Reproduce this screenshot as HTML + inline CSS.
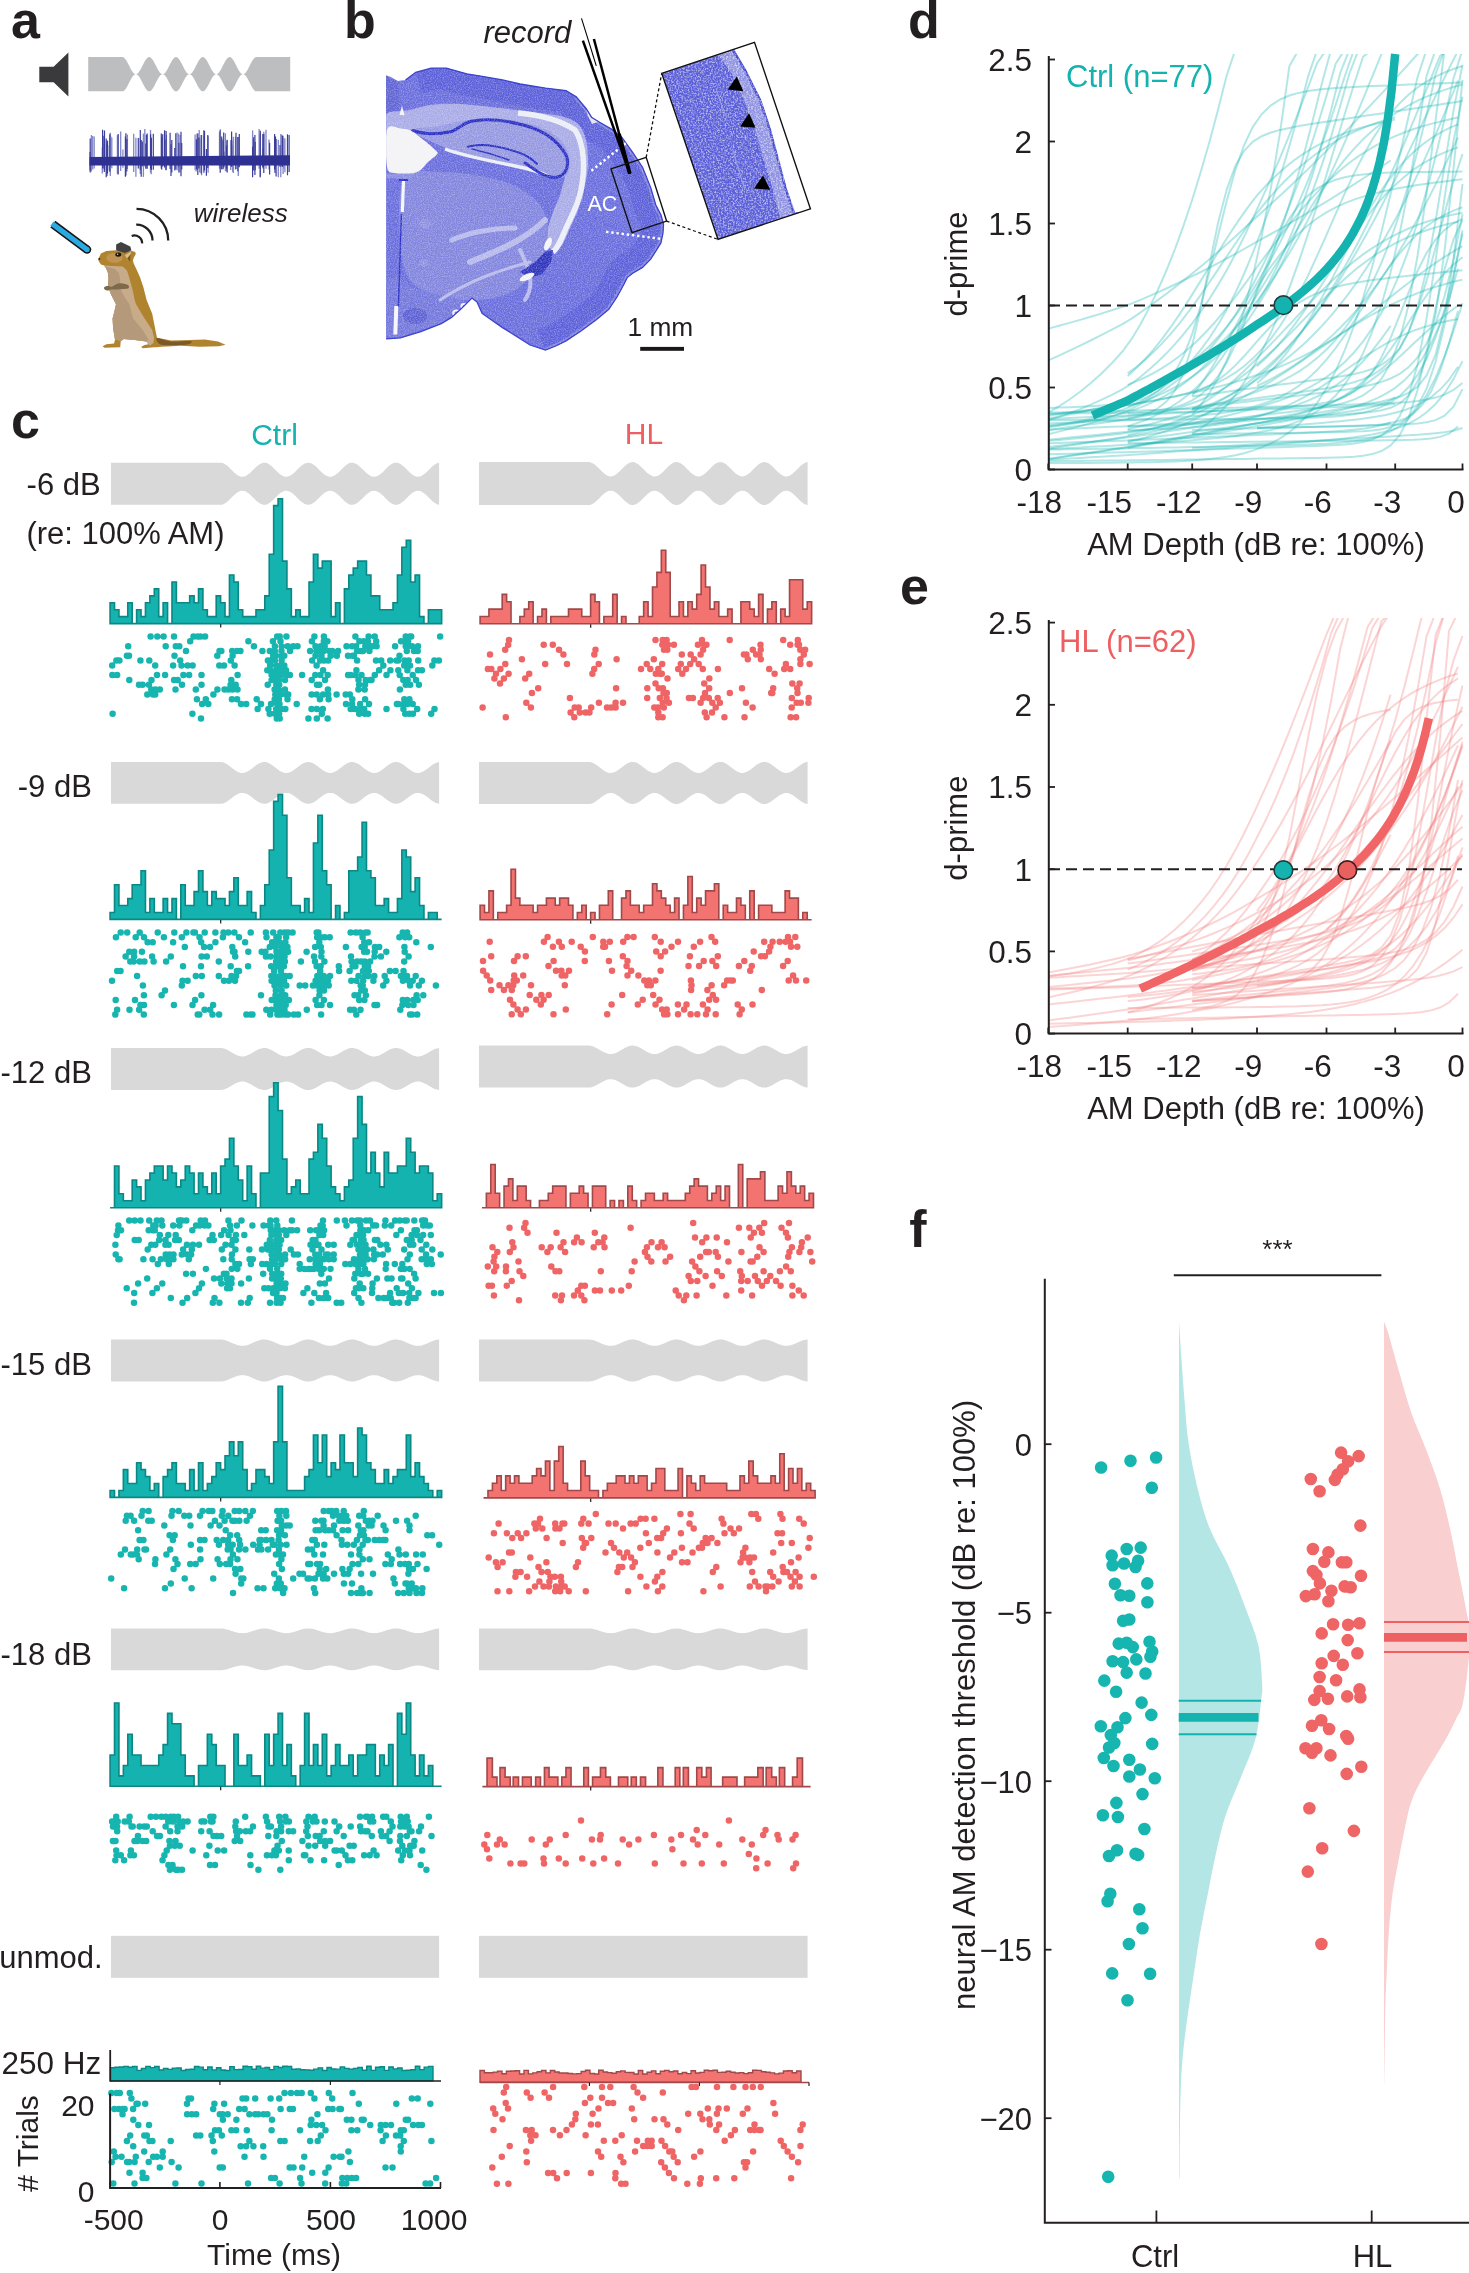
<!DOCTYPE html>
<html><head><meta charset="utf-8"><title>Figure</title>
<style>html,body{margin:0;padding:0;background:#fff;} svg{display:block;will-change:transform;} text{font-family:"Liberation Sans",sans-serif;}</style>
</head><body>
<svg width="1469" height="2273" viewBox="0 0 1469 2273">
<rect width="1469" height="2273" fill="#ffffff"/>
<text x="11.0" y="38.3" font-size="52" fill="#231f20" text-anchor="start" font-weight="bold" font-style="normal" >a</text>
<path d="M39.3,66.7 L53.6,66.7 L68.4,52.4 L68.4,96.5 L53.6,82.2 L39.3,82.2 Z" fill="#3a3a3c"/>
<path d="M88.2,57.1 L122.4,57.1 L122.4,57.1 L122.8,57.1 L123.2,57.2 L123.6,57.4 L124.0,57.7 L124.4,58.0 L124.8,58.4 L125.2,58.9 L125.6,59.4 L126.0,60.0 L126.4,60.6 L126.8,61.3 L127.2,62.0 L127.6,62.7 L128.0,63.5 L128.4,64.3 L128.8,65.0 L129.2,65.9 L129.6,66.6 L130.0,67.4 L130.4,68.2 L130.8,69.0 L131.2,69.7 L131.6,70.4 L132.0,71.0 L132.4,71.6 L132.8,72.2 L133.2,72.7 L133.6,73.1 L134.0,73.4 L134.4,73.7 L134.8,74.0 L135.2,74.1 L135.6,74.2 L136.0,74.2 L136.4,74.1 L136.8,74.0 L137.2,73.7 L137.6,73.4 L138.0,73.1 L138.4,72.7 L138.8,72.2 L139.2,71.6 L139.6,71.0 L140.0,70.4 L140.4,69.7 L140.8,69.0 L141.2,68.2 L141.6,67.4 L142.0,66.6 L142.4,65.9 L142.8,65.0 L143.2,64.3 L143.6,63.5 L144.0,62.7 L144.4,62.0 L144.8,61.3 L145.2,60.6 L145.6,60.0 L146.0,59.4 L146.4,58.9 L146.8,58.4 L147.2,58.0 L147.6,57.7 L148.0,57.4 L148.4,57.2 L148.8,57.1 L149.2,57.1 L149.6,57.1 L150.0,57.2 L150.4,57.4 L150.8,57.7 L151.2,58.0 L151.6,58.4 L152.0,58.9 L152.4,59.4 L152.8,60.0 L153.2,60.6 L153.6,61.3 L154.0,62.0 L154.4,62.7 L154.8,63.5 L155.2,64.3 L155.6,65.0 L156.0,65.9 L156.4,66.6 L156.8,67.4 L157.2,68.2 L157.6,69.0 L158.0,69.7 L158.4,70.4 L158.8,71.0 L159.2,71.6 L159.6,72.2 L160.0,72.7 L160.4,73.1 L160.8,73.4 L161.2,73.7 L161.6,74.0 L162.0,74.1 L162.4,74.2 L162.8,74.2 L163.2,74.1 L163.6,74.0 L164.0,73.7 L164.4,73.4 L164.8,73.1 L165.2,72.7 L165.6,72.2 L166.0,71.6 L166.4,71.0 L166.8,70.4 L167.2,69.7 L167.6,69.0 L168.0,68.2 L168.4,67.4 L168.8,66.6 L169.2,65.9 L169.6,65.0 L170.0,64.3 L170.4,63.5 L170.8,62.7 L171.2,62.0 L171.6,61.3 L172.0,60.6 L172.4,60.0 L172.8,59.4 L173.2,58.9 L173.6,58.4 L174.0,58.0 L174.4,57.7 L174.8,57.4 L175.2,57.2 L175.6,57.1 L176.0,57.1 L176.4,57.1 L176.8,57.2 L177.2,57.4 L177.6,57.7 L178.0,58.0 L178.4,58.4 L178.8,58.9 L179.2,59.4 L179.6,60.0 L180.0,60.6 L180.4,61.3 L180.8,62.0 L181.2,62.7 L181.6,63.5 L182.0,64.3 L182.4,65.0 L182.8,65.9 L183.2,66.6 L183.6,67.4 L184.0,68.2 L184.4,69.0 L184.8,69.7 L185.2,70.4 L185.6,71.0 L186.0,71.6 L186.4,72.2 L186.8,72.7 L187.2,73.1 L187.6,73.4 L188.0,73.7 L188.4,74.0 L188.8,74.1 L189.2,74.2 L189.6,74.2 L190.0,74.1 L190.4,74.0 L190.8,73.7 L191.2,73.4 L191.6,73.1 L192.0,72.7 L192.4,72.2 L192.8,71.6 L193.2,71.0 L193.6,70.4 L194.0,69.7 L194.4,69.0 L194.8,68.2 L195.2,67.4 L195.6,66.6 L196.0,65.9 L196.4,65.0 L196.8,64.3 L197.2,63.5 L197.6,62.7 L198.0,62.0 L198.4,61.3 L198.8,60.6 L199.2,60.0 L199.6,59.4 L200.0,58.9 L200.4,58.4 L200.8,58.0 L201.2,57.7 L201.6,57.4 L202.0,57.2 L202.4,57.1 L202.8,57.1 L203.2,57.1 L203.6,57.2 L204.0,57.4 L204.4,57.7 L204.8,58.0 L205.2,58.4 L205.6,58.9 L206.0,59.4 L206.4,60.0 L206.8,60.6 L207.2,61.3 L207.6,62.0 L208.0,62.7 L208.4,63.5 L208.8,64.3 L209.2,65.0 L209.6,65.9 L210.0,66.6 L210.4,67.4 L210.8,68.2 L211.2,69.0 L211.6,69.7 L212.0,70.4 L212.4,71.0 L212.8,71.6 L213.2,72.2 L213.6,72.7 L214.0,73.1 L214.4,73.4 L214.8,73.7 L215.2,74.0 L215.6,74.1 L216.0,74.2 L216.4,74.2 L216.8,74.1 L217.2,74.0 L217.6,73.7 L218.0,73.4 L218.4,73.1 L218.8,72.7 L219.2,72.2 L219.6,71.6 L220.0,71.0 L220.4,70.4 L220.8,69.7 L221.2,69.0 L221.6,68.2 L222.0,67.4 L222.4,66.6 L222.8,65.9 L223.2,65.0 L223.6,64.3 L224.0,63.5 L224.4,62.7 L224.8,62.0 L225.2,61.3 L225.6,60.6 L226.0,60.0 L226.4,59.4 L226.8,58.9 L227.2,58.4 L227.6,58.0 L228.0,57.7 L228.4,57.4 L228.8,57.2 L229.2,57.1 L229.6,57.1 L230.0,57.1 L230.4,57.2 L230.8,57.4 L231.2,57.7 L231.6,58.0 L232.0,58.4 L232.4,58.9 L232.8,59.4 L233.2,60.0 L233.6,60.6 L234.0,61.3 L234.4,62.0 L234.8,62.7 L235.2,63.5 L235.6,64.3 L236.0,65.0 L236.4,65.9 L236.8,66.6 L237.2,67.4 L237.6,68.2 L238.0,69.0 L238.4,69.7 L238.8,70.4 L239.2,71.0 L239.6,71.6 L240.0,72.2 L240.4,72.7 L240.8,73.1 L241.2,73.4 L241.6,73.7 L242.0,74.0 L242.4,74.1 L242.8,74.2 L243.2,74.2 L243.6,74.1 L244.0,74.0 L244.4,73.7 L244.8,73.4 L245.2,73.1 L245.6,72.7 L246.0,72.2 L246.4,71.6 L246.8,71.0 L247.2,70.4 L247.6,69.7 L248.0,69.0 L248.4,68.2 L248.8,67.4 L249.2,66.6 L249.6,65.9 L250.0,65.0 L250.4,64.3 L250.8,63.5 L251.2,62.7 L251.6,62.0 L252.0,61.3 L252.4,60.6 L252.8,60.0 L253.2,59.4 L253.6,58.9 L254.0,58.4 L254.4,58.0 L254.8,57.7 L255.2,57.4 L255.6,57.2 L256.0,57.1 L256.4,57.1 L290.2,57.1 L290.2,91.3 L256.4,91.3 L256.0,91.3 L255.6,91.2 L255.2,91.0 L254.8,90.7 L254.4,90.4 L254.0,90.0 L253.6,89.5 L253.2,89.0 L252.8,88.4 L252.4,87.8 L252.0,87.1 L251.6,86.4 L251.2,85.7 L250.8,84.9 L250.4,84.1 L250.0,83.4 L249.6,82.5 L249.2,81.8 L248.8,81.0 L248.4,80.2 L248.0,79.4 L247.6,78.7 L247.2,78.0 L246.8,77.4 L246.4,76.8 L246.0,76.2 L245.6,75.7 L245.2,75.3 L244.8,75.0 L244.4,74.7 L244.0,74.4 L243.6,74.3 L243.2,74.2 L242.8,74.2 L242.4,74.3 L242.0,74.4 L241.6,74.7 L241.2,75.0 L240.8,75.3 L240.4,75.7 L240.0,76.2 L239.6,76.8 L239.2,77.4 L238.8,78.0 L238.4,78.7 L238.0,79.4 L237.6,80.2 L237.2,81.0 L236.8,81.8 L236.4,82.5 L236.0,83.4 L235.6,84.1 L235.2,84.9 L234.8,85.7 L234.4,86.4 L234.0,87.1 L233.6,87.8 L233.2,88.4 L232.8,89.0 L232.4,89.5 L232.0,90.0 L231.6,90.4 L231.2,90.7 L230.8,91.0 L230.4,91.2 L230.0,91.3 L229.6,91.3 L229.2,91.3 L228.8,91.2 L228.4,91.0 L228.0,90.7 L227.6,90.4 L227.2,90.0 L226.8,89.5 L226.4,89.0 L226.0,88.4 L225.6,87.8 L225.2,87.1 L224.8,86.4 L224.4,85.7 L224.0,84.9 L223.6,84.1 L223.2,83.4 L222.8,82.5 L222.4,81.8 L222.0,81.0 L221.6,80.2 L221.2,79.4 L220.8,78.7 L220.4,78.0 L220.0,77.4 L219.6,76.8 L219.2,76.2 L218.8,75.7 L218.4,75.3 L218.0,75.0 L217.6,74.7 L217.2,74.4 L216.8,74.3 L216.4,74.2 L216.0,74.2 L215.6,74.3 L215.2,74.4 L214.8,74.7 L214.4,75.0 L214.0,75.3 L213.6,75.7 L213.2,76.2 L212.8,76.8 L212.4,77.4 L212.0,78.0 L211.6,78.7 L211.2,79.4 L210.8,80.2 L210.4,81.0 L210.0,81.8 L209.6,82.5 L209.2,83.4 L208.8,84.1 L208.4,84.9 L208.0,85.7 L207.6,86.4 L207.2,87.1 L206.8,87.8 L206.4,88.4 L206.0,89.0 L205.6,89.5 L205.2,90.0 L204.8,90.4 L204.4,90.7 L204.0,91.0 L203.6,91.2 L203.2,91.3 L202.8,91.3 L202.4,91.3 L202.0,91.2 L201.6,91.0 L201.2,90.7 L200.8,90.4 L200.4,90.0 L200.0,89.5 L199.6,89.0 L199.2,88.4 L198.8,87.8 L198.4,87.1 L198.0,86.4 L197.6,85.7 L197.2,84.9 L196.8,84.1 L196.4,83.4 L196.0,82.5 L195.6,81.8 L195.2,81.0 L194.8,80.2 L194.4,79.4 L194.0,78.7 L193.6,78.0 L193.2,77.4 L192.8,76.8 L192.4,76.2 L192.0,75.7 L191.6,75.3 L191.2,75.0 L190.8,74.7 L190.4,74.4 L190.0,74.3 L189.6,74.2 L189.2,74.2 L188.8,74.3 L188.4,74.4 L188.0,74.7 L187.6,75.0 L187.2,75.3 L186.8,75.7 L186.4,76.2 L186.0,76.8 L185.6,77.4 L185.2,78.0 L184.8,78.7 L184.4,79.4 L184.0,80.2 L183.6,81.0 L183.2,81.8 L182.8,82.5 L182.4,83.4 L182.0,84.1 L181.6,84.9 L181.2,85.7 L180.8,86.4 L180.4,87.1 L180.0,87.8 L179.6,88.4 L179.2,89.0 L178.8,89.5 L178.4,90.0 L178.0,90.4 L177.6,90.7 L177.2,91.0 L176.8,91.2 L176.4,91.3 L176.0,91.3 L175.6,91.3 L175.2,91.2 L174.8,91.0 L174.4,90.7 L174.0,90.4 L173.6,90.0 L173.2,89.5 L172.8,89.0 L172.4,88.4 L172.0,87.8 L171.6,87.1 L171.2,86.4 L170.8,85.7 L170.4,84.9 L170.0,84.1 L169.6,83.4 L169.2,82.5 L168.8,81.8 L168.4,81.0 L168.0,80.2 L167.6,79.4 L167.2,78.7 L166.8,78.0 L166.4,77.4 L166.0,76.8 L165.6,76.2 L165.2,75.7 L164.8,75.3 L164.4,75.0 L164.0,74.7 L163.6,74.4 L163.2,74.3 L162.8,74.2 L162.4,74.2 L162.0,74.3 L161.6,74.4 L161.2,74.7 L160.8,75.0 L160.4,75.3 L160.0,75.7 L159.6,76.2 L159.2,76.8 L158.8,77.4 L158.4,78.0 L158.0,78.7 L157.6,79.4 L157.2,80.2 L156.8,81.0 L156.4,81.8 L156.0,82.5 L155.6,83.4 L155.2,84.1 L154.8,84.9 L154.4,85.7 L154.0,86.4 L153.6,87.1 L153.2,87.8 L152.8,88.4 L152.4,89.0 L152.0,89.5 L151.6,90.0 L151.2,90.4 L150.8,90.7 L150.4,91.0 L150.0,91.2 L149.6,91.3 L149.2,91.3 L148.8,91.3 L148.4,91.2 L148.0,91.0 L147.6,90.7 L147.2,90.4 L146.8,90.0 L146.4,89.5 L146.0,89.0 L145.6,88.4 L145.2,87.8 L144.8,87.1 L144.4,86.4 L144.0,85.7 L143.6,84.9 L143.2,84.1 L142.8,83.4 L142.4,82.5 L142.0,81.8 L141.6,81.0 L141.2,80.2 L140.8,79.4 L140.4,78.7 L140.0,78.0 L139.6,77.4 L139.2,76.8 L138.8,76.2 L138.4,75.7 L138.0,75.3 L137.6,75.0 L137.2,74.7 L136.8,74.4 L136.4,74.3 L136.0,74.2 L135.6,74.2 L135.2,74.3 L134.8,74.4 L134.4,74.7 L134.0,75.0 L133.6,75.3 L133.2,75.7 L132.8,76.2 L132.4,76.8 L132.0,77.4 L131.6,78.0 L131.2,78.7 L130.8,79.4 L130.4,80.2 L130.0,81.0 L129.6,81.8 L129.2,82.5 L128.8,83.4 L128.4,84.1 L128.0,84.9 L127.6,85.7 L127.2,86.4 L126.8,87.1 L126.4,87.8 L126.0,88.4 L125.6,89.0 L125.2,89.5 L124.8,90.0 L124.4,90.4 L124.0,90.7 L123.6,91.0 L123.2,91.2 L122.8,91.3 L122.4,91.3 L122.4,91.3 L88.2,91.3 Z" fill="#bcbec0"/>
<g stroke="#8386c8" stroke-width="1.3"><line x1="91.4" y1="135.0" x2="91.4" y2="171.5"/><line x1="92.7" y1="136.0" x2="92.7" y2="169.4"/><line x1="94.2" y1="136.4" x2="94.2" y2="168.6"/><line x1="127.4" y1="134.6" x2="127.4" y2="169.0"/><line x1="107.1" y1="140.5" x2="107.1" y2="173.8"/><line x1="117.4" y1="135.2" x2="117.4" y2="173.9"/><line x1="120.7" y1="131.6" x2="120.7" y2="170.9"/><line x1="102.3" y1="147.4" x2="102.3" y2="173.5"/><line x1="110.3" y1="133.0" x2="110.3" y2="171.0"/><line x1="111.8" y1="137.5" x2="111.8" y2="168.3"/><line x1="107.8" y1="145.2" x2="107.8" y2="170.3"/><line x1="110.3" y1="132.7" x2="110.3" y2="175.9"/><line x1="110.7" y1="136.2" x2="110.7" y2="166.6"/><line x1="122.9" y1="149.5" x2="122.9" y2="167.7"/><line x1="143.4" y1="133.6" x2="143.4" y2="176.9"/><line x1="135.9" y1="137.7" x2="135.9" y2="176.8"/><line x1="145.7" y1="143.2" x2="145.7" y2="168.5"/><line x1="150.5" y1="129.9" x2="150.5" y2="172.8"/><line x1="140.3" y1="137.8" x2="140.3" y2="173.9"/><line x1="133.7" y1="133.7" x2="133.7" y2="172.0"/><line x1="151.2" y1="137.7" x2="151.2" y2="174.3"/><line x1="144.8" y1="129.1" x2="144.8" y2="166.5"/><line x1="165.7" y1="139.5" x2="165.7" y2="169.8"/><line x1="165.6" y1="147.4" x2="165.6" y2="169.7"/><line x1="166.4" y1="134.7" x2="166.4" y2="167.3"/><line x1="177.1" y1="132.5" x2="177.1" y2="170.2"/><line x1="178.6" y1="133.5" x2="178.6" y2="167.1"/><line x1="180.0" y1="135.1" x2="180.0" y2="172.6"/><line x1="196.1" y1="139.4" x2="196.1" y2="171.6"/><line x1="195.1" y1="134.6" x2="195.1" y2="170.3"/><line x1="201.6" y1="135.0" x2="201.6" y2="175.3"/><line x1="199.2" y1="130.1" x2="199.2" y2="169.1"/><line x1="197.0" y1="133.4" x2="197.0" y2="169.8"/><line x1="199.7" y1="138.5" x2="199.7" y2="172.6"/><line x1="208.1" y1="136.3" x2="208.1" y2="172.7"/><line x1="222.0" y1="138.8" x2="222.0" y2="169.3"/><line x1="219.5" y1="131.6" x2="219.5" y2="168.7"/><line x1="232.0" y1="140.5" x2="232.0" y2="167.0"/><line x1="233.3" y1="136.7" x2="233.3" y2="173.1"/><line x1="232.6" y1="150.8" x2="232.6" y2="171.8"/><line x1="230.7" y1="140.0" x2="230.7" y2="169.9"/><line x1="232.5" y1="144.8" x2="232.5" y2="166.1"/><line x1="224.1" y1="151.6" x2="224.1" y2="166.5"/><line x1="226.4" y1="140.6" x2="226.4" y2="171.3"/><line x1="225.4" y1="133.3" x2="225.4" y2="171.2"/><line x1="238.3" y1="137.1" x2="238.3" y2="175.9"/><line x1="235.5" y1="136.8" x2="235.5" y2="169.6"/><line x1="284.9" y1="138.6" x2="284.9" y2="172.3"/><line x1="266.0" y1="129.8" x2="266.0" y2="168.8"/><line x1="274.7" y1="142.1" x2="274.7" y2="170.1"/><line x1="253.1" y1="139.6" x2="253.1" y2="168.3"/><line x1="283.1" y1="135.8" x2="283.1" y2="174.1"/><line x1="259.9" y1="134.9" x2="259.9" y2="167.7"/><line x1="260.2" y1="132.9" x2="260.2" y2="177.5"/><line x1="278.3" y1="139.7" x2="278.3" y2="177.3"/><line x1="252.6" y1="130.4" x2="252.6" y2="166.3"/><line x1="280.8" y1="134.1" x2="280.8" y2="177.3"/><line x1="259.1" y1="129.1" x2="259.1" y2="168.7"/><line x1="263.8" y1="131.7" x2="263.8" y2="166.2"/><line x1="281.6" y1="134.6" x2="281.6" y2="166.8"/><line x1="269.0" y1="139.6" x2="269.0" y2="169.5"/><line x1="283.9" y1="138.1" x2="283.9" y2="168.9"/></g>
<g stroke="#3b3e9a" stroke-width="1.2"><line x1="90.1" y1="151.9" x2="90.1" y2="170.5"/><line x1="90.2" y1="138.5" x2="90.2" y2="172.5"/><line x1="125.9" y1="133.3" x2="125.9" y2="175.6"/><line x1="104.5" y1="130.5" x2="104.5" y2="170.1"/><line x1="109.8" y1="134.6" x2="109.8" y2="171.7"/><line x1="125.4" y1="136.5" x2="125.4" y2="176.8"/><line x1="106.2" y1="138.5" x2="106.2" y2="177.2"/><line x1="107.5" y1="140.8" x2="107.5" y2="173.4"/><line x1="104.3" y1="143.5" x2="104.3" y2="171.9"/><line x1="103.1" y1="135.8" x2="103.1" y2="168.4"/><line x1="126.8" y1="138.9" x2="126.8" y2="171.6"/><line x1="118.2" y1="134.1" x2="118.2" y2="174.5"/><line x1="102.6" y1="129.7" x2="102.6" y2="168.3"/><line x1="106.9" y1="143.3" x2="106.9" y2="176.0"/><line x1="141.2" y1="140.1" x2="141.2" y2="176.7"/><line x1="153.3" y1="133.8" x2="153.3" y2="169.7"/><line x1="146.4" y1="134.7" x2="146.4" y2="166.3"/><line x1="138.3" y1="137.9" x2="138.3" y2="168.4"/><line x1="151.4" y1="148.9" x2="151.4" y2="167.5"/><line x1="150.6" y1="134.2" x2="150.6" y2="168.7"/><line x1="142.3" y1="141.5" x2="142.3" y2="166.3"/><line x1="146.0" y1="143.9" x2="146.0" y2="168.8"/><line x1="140.3" y1="129.9" x2="140.3" y2="169.7"/><line x1="147.2" y1="133.6" x2="147.2" y2="168.7"/><line x1="151.4" y1="137.7" x2="151.4" y2="170.1"/><line x1="166.1" y1="131.0" x2="166.1" y2="170.2"/><line x1="164.6" y1="130.2" x2="164.6" y2="167.6"/><line x1="161.3" y1="133.4" x2="161.3" y2="168.5"/><line x1="161.7" y1="137.2" x2="161.7" y2="169.5"/><line x1="162.7" y1="134.3" x2="162.7" y2="166.5"/><line x1="175.8" y1="133.2" x2="175.8" y2="169.6"/><line x1="171.8" y1="139.9" x2="171.8" y2="172.6"/><line x1="178.9" y1="142.8" x2="178.9" y2="172.4"/><line x1="181.7" y1="143.1" x2="181.7" y2="169.5"/><line x1="181.0" y1="131.8" x2="181.0" y2="176.2"/><line x1="171.0" y1="144.3" x2="171.0" y2="175.9"/><line x1="170.1" y1="132.7" x2="170.1" y2="168.9"/><line x1="174.8" y1="148.0" x2="174.8" y2="170.4"/><line x1="206.4" y1="149.1" x2="206.4" y2="175.7"/><line x1="203.9" y1="130.2" x2="203.9" y2="172.7"/><line x1="204.5" y1="131.0" x2="204.5" y2="170.4"/><line x1="196.6" y1="139.3" x2="196.6" y2="169.3"/><line x1="204.3" y1="136.1" x2="204.3" y2="166.3"/><line x1="207.8" y1="135.0" x2="207.8" y2="167.9"/><line x1="197.8" y1="133.6" x2="197.8" y2="175.1"/><line x1="198.9" y1="137.6" x2="198.9" y2="168.3"/><line x1="201.2" y1="135.1" x2="201.2" y2="173.5"/><line x1="220.2" y1="129.4" x2="220.2" y2="172.8"/><line x1="221.7" y1="136.6" x2="221.7" y2="169.3"/><line x1="237.8" y1="137.1" x2="237.8" y2="171.3"/><line x1="226.5" y1="145.4" x2="226.5" y2="168.6"/><line x1="239.3" y1="134.1" x2="239.3" y2="167.3"/><line x1="236.0" y1="132.8" x2="236.0" y2="168.9"/><line x1="223.1" y1="140.4" x2="223.1" y2="169.3"/><line x1="227.2" y1="139.7" x2="227.2" y2="172.5"/><line x1="223.7" y1="132.4" x2="223.7" y2="167.5"/><line x1="231.6" y1="131.5" x2="231.6" y2="166.8"/><line x1="269.6" y1="142.8" x2="269.6" y2="174.4"/><line x1="255.2" y1="141.8" x2="255.2" y2="170.3"/><line x1="252.6" y1="146.7" x2="252.6" y2="177.2"/><line x1="274.6" y1="133.9" x2="274.6" y2="169.1"/><line x1="254.9" y1="135.1" x2="254.9" y2="175.0"/><line x1="260.3" y1="130.8" x2="260.3" y2="176.8"/><line x1="275.0" y1="139.2" x2="275.0" y2="173.1"/><line x1="287.5" y1="134.3" x2="287.5" y2="175.3"/><line x1="263.1" y1="148.7" x2="263.1" y2="168.6"/><line x1="253.7" y1="137.2" x2="253.7" y2="170.6"/><line x1="280.0" y1="144.9" x2="280.0" y2="166.8"/><line x1="263.8" y1="134.1" x2="263.8" y2="173.0"/><line x1="262.8" y1="134.1" x2="262.8" y2="167.2"/><line x1="275.5" y1="136.4" x2="275.5" y2="166.7"/><line x1="276.1" y1="138.9" x2="276.1" y2="176.6"/><line x1="282.5" y1="135.6" x2="282.5" y2="166.9"/><line x1="289.1" y1="135.0" x2="289.1" y2="171.9"/></g>
<path d="M89.5,157 L290,155.2 L290,165.6 L89.5,165.4 Z" fill="#2e3192"/>
<text x="193.8" y="221.8" font-size="26" fill="#231f20" text-anchor="start" font-weight="normal" font-style="italic" >wireless</text>
<g fill="none" stroke="#231f20" stroke-width="2.3"><path d="M131.7,236.0 A7.6,7.6 0 0 1 142.1,243.4"/><path d="M136.2,224.6 A16,16 0 0 1 152.5,240.6"/><path d="M136.5,208.9 A31.7,31.7 0 0 1 168.2,240.6"/></g>
<line x1="52.8" y1="224.2" x2="87.1" y2="249.6" stroke="#1a1414" stroke-width="8.4"/><circle cx="87.1" cy="249.6" r="4.2" fill="#1a1414"/>
<line x1="52.0" y1="223.6" x2="87.1" y2="249.6" stroke="#29abe2" stroke-width="5.3"/><circle cx="87.1" cy="249.6" r="2.65" fill="#29abe2"/>
<path d="M98.4,259.0 L100.9,253.5 L106.3,251.1 L112.9,250.5 L116.1,250.3 L124.0,250.5 L131.4,250.8 L135.2,251.9 L135.8,254.1 L133.6,257.9 L133.0,260.6 L133.6,263.3 L136.8,269.9 L140.1,277.5 L143.4,287.3 L146.6,300.0 L152.2,313.8 L156.0,332.9 L157.0,337.7 L171.3,340.5 L190.3,340.0 L204.6,339.6 L218.0,341.5 L225.6,344.8 L218.9,346.2 L199.9,346.7 L180.8,345.8 L161.7,346.7 L156.0,347.2 L154.1,347.2 L142.7,348.2 L141.2,346.7 L144.6,345.1 L148.4,344.3 L146.5,341.5 L135.0,340.0 L123.6,339.1 L120.7,341.5 L120.3,346.2 L120.3,347.2 L104.5,347.7 L102.6,346.2 L106.4,344.3 L114.1,343.4 L115.0,339.6 L113.1,328.1 L112.6,318.6 L115.0,309.1 L116.0,304.3 L111.2,294.8 L109.3,290.0 L108.0,284.0 L108.5,278.6 L108.0,273.1 L106.3,268.8 L104.2,265.5 L100.9,264.4 L98.7,261.1 Z" fill="#b0842f"/>
<path d="M104.2,265.5 L112.0,266.0 L122.7,266.6 L127.0,270.4 L129.2,277.5 L132.5,289.5 L134.7,300.0 L136.0,304.3 L144.6,318.6 L152.2,330.0 L154.1,337.7 L153.5,343.0 L150.0,345.5 L148.4,344.3 L146.5,341.5 L135.0,340.0 L123.6,339.1 L120.7,341.5 L118.0,340.0 L115.0,339.6 L113.1,328.1 L112.6,318.6 L115.0,309.1 L116.0,304.3 L111.2,294.8 L109.3,290.0 L108.0,284.0 L108.5,278.6 L108.0,273.1 L106.3,268.8 Z" fill="#c8ab88"/>
<path d="M104.2,265.5 L105.3,266.6 L114.5,268.8 L118.9,273.1 L120.0,278.6 L120.5,289.5 L124.9,297.6 L129.3,304.3 L133.1,318.6 L142.7,330.0 L148.4,339.6 L146.5,341.5 L135.0,340.0 L123.6,339.1 L120.7,341.5 L118.0,340.0 L115.0,339.6 L113.1,328.1 L112.6,318.6 L115.0,309.1 L116.0,304.3 L111.2,294.8 L109.3,290.0 L108.0,284.0 L108.5,278.6 L108.0,273.1 L106.3,268.8 Z" fill="#b49a7b"/>
<path d="M157.0,338.1 C158.9,337.6 165.8,341.0 171.3,341.5 C176.9,342.0 187.5,340.5 190.3,341.0 C193.2,341.5 191.6,343.6 188.4,344.3 C185.2,345.0 176.1,345.3 171.3,345.3 C166.5,345.3 162.2,345.5 159.8,344.3 C157.4,343.1 155.1,338.6 157.0,338.1 Z" fill="#7a5a26"/>
<ellipse cx="114.5" cy="257.9" rx="8.2" ry="5" fill="#c09352"/>
<path d="M124.9,255.2 L131.4,251.3 L128.1,260.6 Z" fill="#dcc08c"/>
<path d="M127.0,258.4 L130.3,254.6 L130.3,261.7 Z" fill="#7a5a22"/>
<path d="M116.1,244.5 L121.0,242.1 L130.3,246.4 L131.4,250.3 L124.9,253.0 L116.1,250.3 Z" fill="#414143"/>
<ellipse cx="118.3" cy="254.6" rx="3" ry="2.2" fill="#161616"/><circle cx="117.6" cy="254.2" r="0.7" fill="#ddd"/>
<circle cx="99.3" cy="259" r="1" fill="#3a2a10"/>
<path d="M104.2,287.3 C104.8,286.7 106.7,285.8 108.0,285.7 C109.3,285.6 110.1,287.1 111.8,286.7 C113.5,286.3 116.1,283.9 118.3,283.5 C120.5,283.1 123.2,283.6 124.9,284.0 C126.6,284.4 128.2,285.0 128.7,285.7 C129.2,286.4 129.1,287.9 128.1,288.4 C127.1,288.9 124.7,288.7 122.7,288.9 C120.7,289.1 118.1,289.4 116.1,289.5 C114.1,289.6 112.0,289.3 110.7,289.5 C109.4,289.7 109.0,290.6 108.0,290.6 C107.0,290.6 105.3,290.1 104.7,289.5 C104.1,288.9 103.7,287.9 104.2,287.3 Z" fill="#7d6a4a"/>
<text x="344.0" y="38.2" font-size="52" fill="#231f20" text-anchor="start" font-weight="bold" font-style="normal" >b</text>
<text x="483.4" y="42.6" font-size="31" fill="#231f20" text-anchor="start" font-weight="normal" font-style="italic" >record</text>
<defs><filter id="grain" x="0" y="0" width="100%" height="100%"><feTurbulence type="fractalNoise" baseFrequency="0.85" numOctaves="2" seed="4" result="n"/><feColorMatrix in="n" type="matrix" values="0 0 0 0 1  0 0 0 0 1  0 0 0 0 1  0 0 0 -2.2 1.35" result="w"/><feComposite in="w" in2="SourceGraphic" operator="in"/></filter><filter id="grain2" x="0" y="0" width="100%" height="100%"><feTurbulence type="fractalNoise" baseFrequency="0.6" numOctaves="2" seed="9" result="n"/><feColorMatrix in="n" type="matrix" values="0 0 0 0 1  0 0 0 0 1  0 0 0 0 1  0 0 0 -2.6 1.55" result="w"/><feComposite in="w" in2="SourceGraphic" operator="in"/></filter><clipPath id="brainclip"><path d="M386.1,75.3 L390.2,76.8 L397.9,80.9 L405.5,79.9 L415.7,72.3 L431.1,68.2 L446.4,68.2 L466.8,73.8 L482.1,76.3 L502.5,79.9 L520.0,84.0 L545.5,88.1 L566.0,90.6 L576.2,96.8 L586.4,109.0 L591.5,117.2 L599.6,122.3 L611.9,129.4 L622.1,137.6 L632.3,151.9 L642.5,167.2 L650.7,187.6 L655.8,205.0 L661.0,215.0 L663.5,224.0 L663.0,233.0 L660.9,242.9 L655.8,251.1 L650.7,259.2 L642.5,267.4 L632.3,273.5 L627.2,277.6 L624.2,283.7 L617.0,297.0 L608.8,309.3 L596.6,319.5 L581.3,330.7 L566.0,340.9 L555.7,346.0 L545.5,350.0 L530.0,345.0 L502.5,327.6 L482.1,313.3 L477.0,302.1 L471.9,298.0 L461.7,308.2 L451.5,317.4 L441.3,323.6 L420.8,331.7 L400.4,337.9 L386.1,338.9 Z"/></clipPath></defs>
<path d="M386.1,75.3 L390.2,76.8 L397.9,80.9 L405.5,79.9 L415.7,72.3 L431.1,68.2 L446.4,68.2 L466.8,73.8 L482.1,76.3 L502.5,79.9 L520.0,84.0 L545.5,88.1 L566.0,90.6 L576.2,96.8 L586.4,109.0 L591.5,117.2 L599.6,122.3 L611.9,129.4 L622.1,137.6 L632.3,151.9 L642.5,167.2 L650.7,187.6 L655.8,205.0 L661.0,215.0 L663.5,224.0 L663.0,233.0 L660.9,242.9 L655.8,251.1 L650.7,259.2 L642.5,267.4 L632.3,273.5 L627.2,277.6 L624.2,283.7 L617.0,297.0 L608.8,309.3 L596.6,319.5 L581.3,330.7 L566.0,340.9 L555.7,346.0 L545.5,350.0 L530.0,345.0 L502.5,327.6 L482.1,313.3 L477.0,302.1 L471.9,298.0 L461.7,308.2 L451.5,317.4 L441.3,323.6 L420.8,331.7 L400.4,337.9 L386.1,338.9 Z" fill="#6a6edd"/>
<g clip-path="url(#brainclip)">
<path d="M415.7,72.3 L431.1,68.2 L446.4,68.2 L466.8,73.8 L482.1,76.3 L502.5,79.9 L520.0,84.0 L545.5,88.1 L566.0,90.6 L576.2,96.8 L586.4,109.0 L591.5,117.2 L599.6,122.3 L611.9,129.4 L622.1,137.6 L632.3,151.9 L642.5,167.2 L650.7,187.6 L655.8,205.0 L661.0,215.0 L663.5,224.0 L663.0,233.0 L660.9,242.9 L655.8,251.1 L650.7,259.2 L642.5,267.4 L632.3,273.5 L627.2,277.6 L624.2,283.7 L617.0,297.0 L608.8,309.3 L596.6,319.5 L581.3,330.7 L566.0,340.9 L555.7,346.0 L545.5,350.0" fill="none" stroke="#5c60d9" stroke-width="44"/>
<path d="M576.2,96.8 L586.4,109.0 L591.5,117.2 L599.6,122.3 L611.9,129.4 L622.1,137.6 L632.3,151.9 L642.5,167.2 L650.7,187.6 L655.8,205.0 L661.0,215.0 L663.5,224.0 L663.0,233.0 L660.9,242.9 L655.8,251.1 L650.7,259.2 L642.5,267.4 L632.3,273.5 L627.2,277.6 L624.2,283.7 L617.0,297.0 L608.8,309.3 L596.6,319.5 L581.3,330.7 L566.0,340.9 L555.7,346.0 L545.5,350.0" fill="none" stroke="#8084dc" stroke-width="5"/>
<path d="M386.0,76.0 L398.0,82.0 L400.0,128.0 L386.0,128.0 Z" fill="#6064d4"/>
<path d="M386.0,114.0 C390.0,110.3 402.7,111.5 410.0,110.0 C417.3,108.5 421.7,106.0 430.0,105.0 C438.3,104.0 448.3,103.5 460.0,104.0 C471.7,104.5 488.3,106.7 500.0,108.0 C511.7,109.3 520.0,110.7 530.0,112.0 C540.0,113.3 552.0,114.0 560.0,116.0 C568.0,118.0 573.7,120.0 578.0,124.0 C582.3,128.0 584.3,133.2 586.0,140.0 C587.7,146.8 588.3,156.7 588.0,165.0 C587.7,173.3 585.7,182.5 584.0,190.0 C582.3,197.5 580.3,203.7 578.0,210.0 C575.7,216.3 572.7,222.2 570.0,228.0 C567.3,233.8 565.0,241.3 562.0,245.0 C559.0,248.7 554.7,251.2 552.0,250.0 C549.3,248.8 546.0,243.8 546.0,238.0 C546.0,232.2 549.7,222.2 552.0,215.0 C554.3,207.8 557.7,202.5 560.0,195.0 C562.3,187.5 565.3,177.5 566.0,170.0 C566.7,162.5 566.3,155.3 564.0,150.0 C561.7,144.7 557.7,141.3 552.0,138.0 C546.3,134.7 538.7,132.0 530.0,130.0 C521.3,128.0 510.0,126.3 500.0,126.0 C490.0,125.7 480.0,126.5 470.0,128.0 C460.0,129.5 449.2,134.0 440.0,135.0 C430.8,136.0 424.0,134.5 415.0,134.0 C406.0,133.5 390.8,135.3 386.0,132.0 C381.2,128.7 382.0,117.7 386.0,114.0 Z" fill="#a9abe7"/>
<path d="M412.0,130.0 C413.7,127.5 430.7,127.7 440.0,126.0 C449.3,124.3 458.0,121.2 468.0,120.0 C478.0,118.8 489.7,118.3 500.0,119.0 C510.3,119.7 521.3,121.7 530.0,124.0 C538.7,126.3 546.0,129.0 552.0,133.0 C558.0,137.0 563.0,142.7 566.0,148.0 C569.0,153.3 570.3,160.2 570.0,165.0 C569.7,169.8 567.7,174.8 564.0,177.0 C560.3,179.2 553.7,179.2 548.0,178.0 C542.3,176.8 537.2,172.5 530.0,170.0 C522.8,167.5 513.7,165.0 505.0,163.0 C496.3,161.0 486.8,160.2 478.0,158.0 C469.2,155.8 460.0,152.8 452.0,150.0 C444.0,147.2 436.7,144.3 430.0,141.0 C423.3,137.7 410.3,132.5 412.0,130.0 Z" fill="#9598e1"/>
<path d="M404.0,178.0 C410.7,166.7 427.3,172.3 440.0,172.0 C452.7,171.7 467.5,173.7 480.0,176.0 C492.5,178.3 505.0,181.2 515.0,186.0 C525.0,190.8 534.5,197.3 540.0,205.0 C545.5,212.7 548.0,222.5 548.0,232.0 C548.0,241.5 545.5,252.3 540.0,262.0 C534.5,271.7 525.0,283.7 515.0,290.0 C505.0,296.3 492.5,299.0 480.0,300.0 C467.5,301.0 451.7,299.3 440.0,296.0 C428.3,292.7 416.7,289.3 410.0,280.0 C403.3,270.7 401.0,257.0 400.0,240.0 C399.0,223.0 397.3,189.3 404.0,178.0 Z" fill="#8285de"/>
<path d="M388.0,280.0 C393.3,272.3 408.0,286.7 420.0,290.0 C432.0,293.3 451.7,296.7 460.0,300.0 C468.3,303.3 472.5,306.3 470.0,310.0 C467.5,313.7 455.0,318.2 445.0,322.0 C435.0,325.8 419.5,330.7 410.0,333.0 C400.5,335.3 391.7,344.8 388.0,336.0 C384.3,327.2 382.7,287.7 388.0,280.0 Z" fill="#7478dc"/>
<g fill="none" stroke="#b7b9ec" stroke-linecap="round"><path d="M452,240 C470,232 495,228 515,228" stroke-width="5"/><path d="M470,262 C500,250 525,240 545,220" stroke-width="6"/><path d="M520,250 C530,270 535,285 525,300" stroke-width="4"/><path d="M440,300 C470,280 500,270 530,262" stroke-width="3"/></g>
<g fill="#8e91df"><ellipse cx="425" cy="224" rx="6" ry="5"/><ellipse cx="424" cy="263" rx="5" ry="4"/></g>
<g fill="#5d61d3"><ellipse cx="415" cy="316" rx="12" ry="8"/></g>
<path d="M445,149 C460,155 490,161 515,166 C530,169 540,172 548,176" fill="none" stroke="#eceef7" stroke-width="3.5"/>
<path d="M518,113 C540,115 560,120 575,130 C585,145 585,170 581,190 C578,205 572,215 566,228 C561,240 558,248 553,252" fill="none" stroke="#eceef7" stroke-width="5.5"/>
<g fill="none" stroke="#2a2fc4" stroke-linecap="round"><path d="M412.7,130.5 C425,135 440,134 451.5,131.5 C460,128 462,124 470,121.5 C485,118 505,120 525,125.5 C545,131 558,141 566,155 C570,165 566,176 556,177.5 C545,178 535,170 525,163" stroke-width="3"/><path d="M467.8,146.8 C480,143 500,146 520,153 C528,156 533,160 537,164" stroke-width="2"/><path d="M472,149 C485,152 498,156 509,160" stroke-width="1.6"/></g>
<path d="M387.1,129.4 C389.3,122.9 396.5,128.2 400.4,128.4 C404.3,128.6 406.9,128.6 410.6,130.5 C414.4,132.4 418.8,136.4 422.9,139.6 C427.0,142.8 432.7,147.5 435.1,149.9 C437.5,152.3 438.4,152.0 437.2,154.0 C436.0,156.0 431.1,159.2 428.0,162.1 C424.9,165.0 422.6,169.2 418.8,171.3 C415.1,173.4 409.4,174.1 405.5,174.4 C401.6,174.7 398.4,174.5 395.3,173.3 C392.2,172.1 388.5,174.5 387.1,167.2 C385.7,159.9 384.9,135.9 387.1,129.4 Z" fill="#f3f3f6"/>
<path d="M399.4,115.0 L402.0,106.0 L404.5,115.0 Z" fill="#f3f3f6"/>
<path d="M386,176 L412,176" stroke="#8a8de0" stroke-width="5"/>
<path d="M403.5,181 L402.3,212" stroke="#f6f6f9" stroke-width="3.2"/>
<path d="M401.4,214 L398.4,307" stroke="#2a2fc4" stroke-width="1.4"/>
<path d="M396.3,306 L395.3,334.5" stroke="#f6f6f9" stroke-width="4"/>
<path d="M399,180 L408,180" stroke="#2a2fc4" stroke-width="2"/>
<path d="M520.0,272.0 L535.0,262.0 L545.0,252.0 L553.0,250.0 L551.0,262.0 L542.0,274.0 L530.0,278.0 Z" fill="#2f34bc"/>
<g fill="#f4f4f8"><ellipse cx="527" cy="277" rx="8" ry="3" transform="rotate(-25 527 277)"/><ellipse cx="548" cy="244" rx="3" ry="7" transform="rotate(25 548 244)"/></g>
<g fill="none" stroke="#f4f4f8" stroke-width="2.2"><ellipse cx="456.5" cy="313" rx="3.2" ry="2.5"/><ellipse cx="464" cy="306" rx="2.5" ry="2"/></g>
<path d="M585.0,104.0 L595.0,111.0 L600.0,121.0 L592.0,124.0 L588.0,116.0 Z" fill="#e3e4ec"/>
</g>
<path d="M386.1,75.3 L390.2,76.8 L397.9,80.9 L405.5,79.9 L415.7,72.3 L431.1,68.2 L446.4,68.2 L466.8,73.8 L482.1,76.3 L502.5,79.9 L520.0,84.0 L545.5,88.1 L566.0,90.6 L576.2,96.8 L586.4,109.0 L591.5,117.2 L599.6,122.3 L611.9,129.4 L622.1,137.6 L632.3,151.9 L642.5,167.2 L650.7,187.6 L655.8,205.0 L661.0,215.0 L663.5,224.0 L663.0,233.0 L660.9,242.9 L655.8,251.1 L650.7,259.2 L642.5,267.4 L632.3,273.5 L627.2,277.6 L624.2,283.7 L617.0,297.0 L608.8,309.3 L596.6,319.5 L581.3,330.7 L566.0,340.9 L555.7,346.0 L545.5,350.0 L530.0,345.0 L502.5,327.6 L482.1,313.3 L477.0,302.1 L471.9,298.0 L461.7,308.2 L451.5,317.4 L441.3,323.6 L420.8,331.7 L400.4,337.9 L386.1,338.9 Z" fill="#ffffff" filter="url(#grain)" opacity="0.32"/>
<path d="M405.5,79.9 L415.7,72.3 L431.1,68.2 L446.4,68.2 L466.8,73.8 L482.1,76.3 L502.5,79.9 L520.0,84.0 L545.5,88.1 L566.0,90.6 L576.2,96.8 L586.4,109.0 L591.5,117.2 L599.6,122.3 L611.9,129.4 L622.1,137.6 L632.3,151.9 L642.5,167.2 L650.7,187.6 L655.8,205.0 L661.0,215.0 L663.5,224.0 L663.0,233.0 L660.9,242.9 L655.8,251.1 L650.7,259.2 L642.5,267.4 L632.3,273.5 L627.2,277.6 L624.2,283.7 L617.0,297.0 L608.8,309.3 L596.6,319.5 L581.3,330.7 L566.0,340.9 L555.7,346.0 L545.5,350.0 L530.0,345.0 L502.5,327.6 L482.1,313.3 L477.0,302.1 L471.9,298.0 L461.7,308.2 L451.5,317.4 L441.3,323.6 L420.8,331.7 L400.4,337.9 L386.1,338.9" fill="none" stroke="#3d42cf" stroke-width="1.3"/>
<g stroke="#ffffff" stroke-width="2.4" stroke-dasharray="2.4,2.8" fill="none"><path d="M591.4,170.8 L627.4,141.9"/><path d="M606.1,231.8 L660.9,238.8"/></g>
<text x="587.5" y="211.3" font-size="21.5" fill="#ffffff" text-anchor="start" font-weight="normal" font-style="normal" >AC</text>
<g stroke="#000" fill="none"><path d="M581.5,18.3 L596.3,65.9" stroke-width="1.1"/><path d="M582.9,40.6 L629.8,173.8" stroke-width="2.5"/><path d="M593.9,39 L629.8,173.8" stroke-width="2.5"/><path d="M619,134 L629.8,173.8" stroke-width="3.8"/></g>
<path d="M611,168.9 L646.2,157.4 L666.6,221.1 L632,232.6 Z" fill="none" stroke="#111" stroke-width="1.4"/>
<g stroke="#111" stroke-width="1.3" stroke-dasharray="3,2.6"><path d="M646.2,157.4 L661.7,73.3"/><path d="M666.6,221.1 L718,239.4"/></g>
<defs><clipPath id="insclip"><path d="M661.7,73.3 L754.5,42.3 L810.4,208.9 L718.0,239.4 Z"/></clipPath></defs>
<g clip-path="url(#insclip)">
<path d="M661.7,73.3 L754.5,42.3 L810.4,208.9 L718.0,239.4 Z" fill="#5a5ed8"/>
<path d="M733.0,49.0 L745.0,70.0 L760.0,100.0 L770.0,130.0 L778.0,160.0 L786.0,190.0 L794.0,214.0 L780.0,218.0 L773.0,190.0 L764.0,160.0 L755.0,130.0 L744.0,100.0 L731.0,72.0 L716.0,52.0 Z" fill="#8f92e2"/>
<path d="M734.4,51.2 L745.0,70.0 L752.0,85.0 L760.0,100.0 L767.0,118.0 L770.0,130.0 L778.0,160.0 L784.0,180.0 L790.0,200.0 L794.0,212.2 L830.0,212.0 L830.0,30.0 L736.0,30.0 Z" fill="#ffffff"/>
<path d="M733,50 L745,70 L760,100 L770,130 L778,160 L786,190 L794,213" fill="none" stroke="#4a4fcf" stroke-width="2.5"/>
<path d="M661.7,73.3 L754.5,42.3 L810.4,208.9 L718.0,239.4 Z" fill="#ffffff" filter="url(#grain2)" opacity="0.6"/>
<path d="M716,88 C720,100 722,108 727,118" stroke="#9a9de2" stroke-width="1.2" fill="none"/>
<path d="M733,150 C737,165 740,175 745,190" stroke="#9a9de2" stroke-width="1.2" fill="none"/>
</g>
<path d="M661.7,73.3 L754.5,42.3 L810.4,208.9 L718.0,239.4 Z" fill="none" stroke="#111" stroke-width="1.4"/>
<path d="M736.8,76.6 L727.8,89.6 L743.4,91.3 Z" fill="#000"/>
<path d="M749.1,113.3 L740.1,126.4 L755.6,127.7 Z" fill="#000"/>
<path d="M763.0,175.4 L754.0,188.5 L770.3,189.8 Z" fill="#000"/>
<text x="627.5" y="336.0" font-size="26.3" fill="#231f20" text-anchor="start" font-weight="normal" font-style="normal" >1 mm</text>
<rect x="640.2" y="346.9" width="43.8" height="3.9" fill="#1a1718"/>
<text x="0.0" y="0.0" font-size="30" fill="#231f20" text-anchor="start" font-weight="normal" font-style="normal" ></text>
<text x="11.0" y="437.6" font-size="52" fill="#231f20" text-anchor="start" font-weight="bold" font-style="normal" >c</text>
<text x="26.4" y="544.2" font-size="31" fill="#231f20" text-anchor="start" font-weight="normal" font-style="normal" >(re: 100% AM)</text>
<text x="274.5" y="445.0" font-size="30" fill="#14b3b0" text-anchor="middle" font-weight="normal" font-style="normal" >Ctrl</text>
<text x="644.0" y="444.0" font-size="30" fill="#ee5f62" text-anchor="middle" font-weight="normal" font-style="normal" >HL</text>
<path d="M111.0,462.7 220.4,462.7 220.4,462.7 221.5,462.8 222.6,463.0 223.7,463.5 224.8,464.1 225.9,464.8 227.0,465.6 228.1,466.6 229.2,467.6 230.3,468.7 231.4,469.8 232.6,470.9 233.7,472.0 234.8,473.0 235.9,473.9 237.0,474.8 238.1,475.5 239.2,476.0 240.3,476.4 241.4,476.7 242.5,476.8 243.6,476.6 244.7,476.4 245.8,475.9 246.9,475.3 248.0,474.6 249.1,473.7 250.2,472.7 251.3,471.7 252.4,470.6 253.5,469.5 254.6,468.4 255.7,467.3 256.9,466.3 258.0,465.4 259.1,464.6 260.2,463.9 261.3,463.4 262.4,463.0 263.5,462.7 264.6,462.7 265.7,462.8 266.8,463.1 267.9,463.6 269.0,464.2 270.1,465.0 271.2,465.9 272.3,466.8 273.4,467.9 274.5,469.0 275.6,470.1 276.7,471.2 277.8,472.2 278.9,473.2 280.0,474.2 281.2,475.0 282.3,475.6 283.4,476.2 284.5,476.5 285.6,476.7 286.7,476.7 287.8,476.6 288.9,476.3 290.0,475.8 291.1,475.1 292.2,474.4 293.3,473.5 294.4,472.5 295.5,471.4 296.6,470.3 297.7,469.2 298.8,468.1 299.9,467.1 301.0,466.1 302.1,465.2 303.2,464.4 304.3,463.7 305.5,463.2 306.6,462.9 307.7,462.7 308.8,462.7 309.9,462.9 311.0,463.2 312.1,463.8 313.2,464.4 314.3,465.2 315.4,466.1 316.5,467.1 317.6,468.2 318.7,469.3 319.8,470.4 320.9,471.5 322.0,472.5 323.1,473.5 324.2,474.4 325.3,475.1 326.4,475.8 327.5,476.3 328.6,476.6 329.8,476.7 330.9,476.7 332.0,476.5 333.1,476.2 334.2,475.6 335.3,474.9 336.4,474.1 337.5,473.2 338.6,472.2 339.7,471.2 340.8,470.1 341.9,468.9 343.0,467.9 344.1,466.8 345.2,465.8 346.3,465.0 347.4,464.2 348.5,463.6 349.6,463.1 350.7,462.8 351.8,462.7 352.9,462.8 354.1,463.0 355.2,463.4 356.3,463.9 357.4,464.6 358.5,465.4 359.6,466.4 360.7,467.4 361.8,468.4 362.9,469.5 364.0,470.6 365.1,471.7 366.2,472.8 367.3,473.7 368.4,474.6 369.5,475.3 370.6,475.9 371.7,476.4 372.8,476.6 373.9,476.8 375.0,476.7 376.1,476.4 377.2,476.0 378.4,475.5 379.5,474.8 380.6,473.9 381.7,473.0 382.8,472.0 383.9,470.9 385.0,469.8 386.1,468.7 387.2,467.6 388.3,466.6 389.4,465.6 390.5,464.8 391.6,464.0 392.7,463.5 393.8,463.0 394.9,462.8 396.0,462.7 397.1,462.8 398.2,463.1 399.3,463.5 400.4,464.1 401.5,464.8 402.6,465.7 403.8,466.6 404.9,467.6 406.0,468.7 407.1,469.8 408.2,470.9 409.3,472.0 410.4,473.0 411.5,474.0 412.6,474.8 413.7,475.5 414.8,476.1 415.9,476.5 417.0,476.7 418.1,476.8 419.2,476.6 420.3,476.4 421.4,475.9 422.5,475.3 423.6,474.6 424.7,473.7 425.8,472.7 427.0,471.7 428.1,470.6 429.2,469.5 430.3,468.4 431.4,467.3 432.5,466.3 433.6,465.4 434.7,464.6 435.8,463.9 436.9,463.3 438.0,463.0 439.1,462.7 439.1,504.8 438.0,504.5 436.9,504.2 435.8,503.6 434.7,502.9 433.6,502.1 432.5,501.2 431.4,500.2 430.3,499.1 429.2,498.0 428.1,496.9 427.0,495.8 425.8,494.8 424.7,493.8 423.6,492.9 422.5,492.2 421.4,491.6 420.3,491.1 419.2,490.9 418.1,490.7 417.0,490.8 415.9,491.0 414.8,491.4 413.7,492.0 412.6,492.7 411.5,493.5 410.4,494.5 409.3,495.5 408.2,496.6 407.1,497.7 406.0,498.8 404.9,499.9 403.8,500.9 402.6,501.8 401.5,502.7 400.4,503.4 399.3,504.0 398.2,504.4 397.1,504.7 396.0,504.8 394.9,504.7 393.8,504.5 392.7,504.0 391.6,503.5 390.5,502.7 389.4,501.9 388.3,500.9 387.2,499.9 386.1,498.8 385.0,497.7 383.9,496.6 382.8,495.5 381.7,494.5 380.6,493.6 379.5,492.7 378.4,492.0 377.2,491.5 376.1,491.1 375.0,490.8 373.9,490.7 372.8,490.9 371.7,491.1 370.6,491.6 369.5,492.2 368.4,492.9 367.3,493.8 366.2,494.7 365.1,495.8 364.0,496.9 362.9,498.0 361.8,499.1 360.7,500.1 359.6,501.1 358.5,502.1 357.4,502.9 356.3,503.6 355.2,504.1 354.1,504.5 352.9,504.7 351.8,504.8 350.7,504.7 349.6,504.4 348.5,503.9 347.4,503.3 346.3,502.5 345.2,501.7 344.1,500.7 343.0,499.6 341.9,498.6 340.8,497.4 339.7,496.3 338.6,495.3 337.5,494.3 336.4,493.4 335.3,492.6 334.2,491.9 333.1,491.3 332.0,491.0 330.9,490.8 329.8,490.8 328.6,490.9 327.5,491.2 326.4,491.7 325.3,492.4 324.2,493.1 323.1,494.0 322.0,495.0 320.9,496.0 319.8,497.1 318.7,498.2 317.6,499.3 316.5,500.4 315.4,501.4 314.3,502.3 313.2,503.1 312.1,503.7 311.0,504.3 309.9,504.6 308.8,504.8 307.7,504.8 306.6,504.6 305.5,504.3 304.3,503.8 303.2,503.1 302.1,502.3 301.0,501.4 299.9,500.4 298.8,499.4 297.7,498.3 296.6,497.2 295.5,496.1 294.4,495.0 293.3,494.0 292.2,493.1 291.1,492.4 290.0,491.7 288.9,491.2 287.8,490.9 286.7,490.8 285.6,490.8 284.5,491.0 283.4,491.3 282.3,491.9 281.2,492.5 280.0,493.3 278.9,494.3 277.8,495.3 276.7,496.3 275.6,497.4 274.5,498.5 273.4,499.6 272.3,500.7 271.2,501.6 270.1,502.5 269.0,503.3 267.9,503.9 266.8,504.4 265.7,504.7 264.6,504.8 263.5,504.8 262.4,504.5 261.3,504.1 260.2,503.6 259.1,502.9 258.0,502.1 256.9,501.2 255.7,500.2 254.6,499.1 253.5,498.0 252.4,496.9 251.3,495.8 250.2,494.8 249.1,493.8 248.0,492.9 246.9,492.2 245.8,491.6 244.7,491.1 243.6,490.9 242.5,490.7 241.4,490.8 240.3,491.1 239.2,491.5 238.1,492.0 237.0,492.7 235.9,493.6 234.8,494.5 233.7,495.5 232.6,496.6 231.4,497.7 230.3,498.8 229.2,499.9 228.1,500.9 227.0,501.9 225.9,502.7 224.8,503.4 223.7,504.0 222.6,504.5 221.5,504.7 220.4,504.8 220.4,504.8 111.0,504.8 Z" fill="#d9d9d9"/>
<path d="M479.0,462.1 588.7,462.1 588.7,462.1 589.8,462.2 590.9,462.5 592.0,462.9 593.1,463.5 594.2,464.2 595.3,465.1 596.4,466.1 597.5,467.1 598.7,468.2 599.8,469.3 600.9,470.5 602.0,471.6 603.1,472.6 604.2,473.6 605.3,474.4 606.4,475.1 607.5,475.7 608.6,476.1 609.7,476.4 610.8,476.4 611.9,476.3 613.0,476.0 614.1,475.6 615.2,474.9 616.3,474.2 617.4,473.3 618.6,472.3 619.7,471.3 620.8,470.1 621.9,469.0 623.0,467.9 624.1,466.8 625.2,465.8 626.3,464.8 627.4,464.0 628.5,463.3 629.6,462.7 630.7,462.4 631.8,462.1 632.9,462.1 634.0,462.2 635.1,462.6 636.2,463.0 637.3,463.7 638.5,464.5 639.6,465.4 640.7,466.4 641.8,467.4 642.9,468.5 644.0,469.7 645.1,470.8 646.2,471.9 647.3,472.9 648.4,473.8 649.5,474.6 650.6,475.3 651.7,475.8 652.8,476.2 653.9,476.4 655.0,476.4 656.1,476.2 657.2,475.9 658.4,475.4 659.5,474.7 660.6,473.9 661.7,473.0 662.8,472.0 663.9,470.9 665.0,469.8 666.1,468.7 667.2,467.6 668.3,466.5 669.4,465.5 670.5,464.6 671.6,463.8 672.7,463.1 673.8,462.6 674.9,462.3 676.0,462.1 677.1,462.1 678.2,462.3 679.4,462.7 680.5,463.2 681.6,463.9 682.7,464.7 683.8,465.6 684.9,466.7 686.0,467.7 687.1,468.9 688.2,470.0 689.3,471.1 690.4,472.2 691.5,473.2 692.6,474.1 693.7,474.8 694.8,475.5 695.9,476.0 697.0,476.3 698.2,476.4 699.3,476.4 700.4,476.2 701.5,475.8 702.6,475.2 703.7,474.5 704.8,473.7 705.9,472.7 707.0,471.7 708.1,470.6 709.2,469.5 710.3,468.4 711.4,467.2 712.5,466.2 713.6,465.2 714.7,464.3 715.8,463.6 716.9,463.0 718.0,462.5 719.2,462.2 720.3,462.1 721.4,462.2 722.5,462.4 723.6,462.8 724.7,463.4 725.8,464.1 726.9,465.0 728.0,465.9 729.1,467.0 730.2,468.1 731.3,469.2 732.4,470.3 733.5,471.4 734.6,472.5 735.7,473.4 736.8,474.3 738.0,475.0 739.1,475.6 740.2,476.1 741.3,476.3 742.4,476.4 743.5,476.3 744.6,476.1 745.7,475.6 746.8,475.0 747.9,474.3 749.0,473.4 750.1,472.4 751.2,471.4 752.3,470.3 753.4,469.2 754.5,468.0 755.6,466.9 756.7,465.9 757.9,464.9 759.0,464.1 760.1,463.4 761.2,462.8 762.3,462.4 763.4,462.2 764.5,462.1 765.6,462.2 766.7,462.5 767.8,463.0 768.9,463.6 770.0,464.4 771.1,465.2 772.2,466.2 773.3,467.3 774.4,468.4 775.5,469.5 776.6,470.7 777.8,471.7 778.9,472.8 780.0,473.7 781.1,474.5 782.2,475.2 783.3,475.8 784.4,476.2 785.5,476.4 786.6,476.4 787.7,476.3 788.8,475.9 789.9,475.5 791.0,474.8 792.1,474.0 793.2,473.1 794.3,472.1 795.4,471.1 796.5,470.0 797.7,468.8 798.8,467.7 799.9,466.6 801.0,465.6 802.1,464.7 803.2,463.9 804.3,463.2 805.4,462.7 806.5,462.3 807.6,462.1 807.6,505.0 806.5,504.8 805.4,504.4 804.3,503.9 803.2,503.2 802.1,502.4 801.0,501.5 799.9,500.5 798.8,499.4 797.7,498.3 796.5,497.1 795.4,496.0 794.3,495.0 793.2,494.0 792.1,493.1 791.0,492.3 789.9,491.6 788.8,491.2 787.7,490.8 786.6,490.7 785.5,490.7 784.4,490.9 783.3,491.3 782.2,491.9 781.1,492.6 780.0,493.4 778.9,494.3 777.8,495.4 776.6,496.4 775.5,497.6 774.4,498.7 773.3,499.8 772.2,500.9 771.1,501.9 770.0,502.7 768.9,503.5 767.8,504.1 766.7,504.6 765.6,504.9 764.5,505.0 763.4,504.9 762.3,504.7 761.2,504.3 760.1,503.7 759.0,503.0 757.9,502.2 756.7,501.2 755.6,500.2 754.5,499.1 753.4,497.9 752.3,496.8 751.2,495.7 750.1,494.7 749.0,493.7 747.9,492.8 746.8,492.1 745.7,491.5 744.6,491.0 743.5,490.8 742.4,490.7 741.3,490.8 740.2,491.0 739.1,491.5 738.0,492.1 736.8,492.8 735.7,493.7 734.6,494.6 733.5,495.7 732.4,496.8 731.3,497.9 730.2,499.0 729.1,500.1 728.0,501.2 726.9,502.1 725.8,503.0 724.7,503.7 723.6,504.3 722.5,504.7 721.4,504.9 720.3,505.0 719.2,504.9 718.0,504.6 716.9,504.1 715.8,503.5 714.7,502.8 713.6,501.9 712.5,500.9 711.4,499.9 710.3,498.7 709.2,497.6 708.1,496.5 707.0,495.4 705.9,494.4 704.8,493.4 703.7,492.6 702.6,491.9 701.5,491.3 700.4,490.9 699.3,490.7 698.2,490.7 697.0,490.8 695.9,491.1 694.8,491.6 693.7,492.3 692.6,493.0 691.5,493.9 690.4,494.9 689.3,496.0 688.2,497.1 687.1,498.2 686.0,499.4 684.9,500.4 683.8,501.5 682.7,502.4 681.6,503.2 680.5,503.9 679.4,504.4 678.2,504.8 677.1,505.0 676.0,505.0 674.9,504.8 673.8,504.5 672.7,504.0 671.6,503.3 670.5,502.5 669.4,501.6 668.3,500.6 667.2,499.5 666.1,498.4 665.0,497.3 663.9,496.2 662.8,495.1 661.7,494.1 660.6,493.2 659.5,492.4 658.4,491.7 657.2,491.2 656.1,490.9 655.0,490.7 653.9,490.7 652.8,490.9 651.7,491.3 650.6,491.8 649.5,492.5 648.4,493.3 647.3,494.2 646.2,495.2 645.1,496.3 644.0,497.4 642.9,498.6 641.8,499.7 640.7,500.7 639.6,501.7 638.5,502.6 637.3,503.4 636.2,504.1 635.1,504.5 634.0,504.9 632.9,505.0 631.8,505.0 630.7,504.7 629.6,504.4 628.5,503.8 627.4,503.1 626.3,502.3 625.2,501.3 624.1,500.3 623.0,499.2 621.9,498.1 620.8,497.0 619.7,495.8 618.6,494.8 617.4,493.8 616.3,492.9 615.2,492.2 614.1,491.5 613.0,491.1 611.9,490.8 610.8,490.7 609.7,490.7 608.6,491.0 607.5,491.4 606.4,492.0 605.3,492.7 604.2,493.5 603.1,494.5 602.0,495.5 600.9,496.6 599.8,497.8 598.7,498.9 597.5,500.0 596.4,501.0 595.3,502.0 594.2,502.9 593.1,503.6 592.0,504.2 590.9,504.6 589.8,504.9 588.7,505.0 588.7,505.0 479.0,505.0 Z" fill="#d9d9d9"/>
<text x="100.7" y="494.9" font-size="31" fill="#231f20" text-anchor="end" font-weight="normal" font-style="normal" >-6 dB</text>
<path d="M110.09,623.60 L110.09,602.78 L114.51,602.78 L114.51,609.72 L118.93,609.72 L118.93,616.66 L123.35,616.66 L123.35,616.66 L127.77,616.66 L127.77,602.78 L132.19,602.78 L132.19,623.60 L136.61,623.60 L136.61,609.72 L141.03,609.72 L141.03,616.66 L145.46,616.66 L145.46,602.78 L149.88,602.78 L149.88,595.84 L154.30,595.84 L154.30,588.90 L158.72,588.90 L158.72,616.66 L163.14,616.66 L163.14,602.78 L167.56,602.78 L167.56,623.60 L171.98,623.60 L171.98,581.96 L176.40,581.96 L176.40,602.78 L180.82,602.78 L180.82,602.78 L185.24,602.78 L185.24,602.78 L189.66,602.78 L189.66,595.84 L194.08,595.84 L194.08,602.78 L198.50,602.78 L198.50,588.90 L202.92,588.90 L202.92,609.72 L207.35,609.72 L207.35,616.66 L211.77,616.66 L211.77,616.66 L216.19,616.66 L216.19,595.84 L220.61,595.84 L220.61,602.78 L225.03,602.78 L225.03,616.66 L229.45,616.66 L229.45,575.02 L233.87,575.02 L233.87,581.96 L238.29,581.96 L238.29,609.72 L242.71,609.72 L242.71,616.66 L247.13,616.66 L247.13,616.66 L251.55,616.66 L251.55,616.66 L255.97,616.66 L255.97,609.72 L260.39,609.72 L260.39,609.72 L264.81,609.72 L264.81,595.84 L269.23,595.84 L269.23,554.20 L273.66,554.20 L273.66,505.62 L278.08,505.62 L278.08,498.68 L282.50,498.68 L282.50,561.14 L286.92,561.14 L286.92,588.90 L291.34,588.90 L291.34,616.66 L295.76,616.66 L295.76,609.72 L300.18,609.72 L300.18,616.66 L304.60,616.66 L304.60,616.66 L309.02,616.66 L309.02,581.96 L313.44,581.96 L313.44,554.20 L317.86,554.20 L317.86,568.08 L322.28,568.08 L322.28,561.14 L326.70,561.14 L326.70,561.14 L331.12,561.14 L331.12,616.66 L335.54,616.66 L335.54,602.78 L339.97,602.78 L339.97,623.60 L344.39,623.60 L344.39,588.90 L348.81,588.90 L348.81,575.02 L353.23,575.02 L353.23,568.08 L357.65,568.08 L357.65,561.14 L362.07,561.14 L362.07,561.14 L366.49,561.14 L366.49,575.02 L370.91,575.02 L370.91,595.84 L375.33,595.84 L375.33,595.84 L379.75,595.84 L379.75,609.72 L384.17,609.72 L384.17,609.72 L388.59,609.72 L388.59,609.72 L393.01,609.72 L393.01,602.78 L397.43,602.78 L397.43,575.02 L401.86,575.02 L401.86,547.26 L406.28,547.26 L406.28,540.32 L410.70,540.32 L410.70,581.96 L415.12,581.96 L415.12,575.02 L419.54,575.02 L419.54,616.66 L423.96,616.66 L423.96,623.60 L428.38,623.60 L428.38,609.72 L432.80,609.72 L432.80,609.72 L437.22,609.72 L437.22,609.72 L441.64,609.72 L441.64,623.60 Z" fill="#14b3b0" stroke="#0b8784" stroke-width="1.6" stroke-linejoin="miter"/>
<line x1="220.7" y1="624.1" x2="220.7" y2="627.6" stroke="#231f20" stroke-width="1.2"/>
<path d="M112.2 665.5h0M112.3 675.1h0M112.6 713.8h0M117.1 675.1h0M116.4 660.6h0M119.4 660.6h0M126.9 655.8h0M129.0 655.8h0M129.3 680.0h0M128.2 646.2h0M139.0 684.8h0M140.4 660.6h0M142.5 684.8h0M148.9 684.8h0M147.3 694.5h0M149.3 660.6h0M153.1 694.5h0M151.3 689.6h0M150.6 636.5h0M151.5 680.0h0M155.4 689.6h0M157.3 636.5h0M155.2 694.5h0M157.0 675.1h0M155.2 665.5h0M159.8 689.6h0M165.1 675.1h0M163.6 636.5h0M165.7 646.2h0M174.0 636.5h0M175.8 646.2h0M174.1 680.0h0M174.5 655.8h0M175.5 689.6h0M173.1 665.5h0M180.2 660.6h0M177.7 680.0h0M179.3 646.2h0M183.4 675.1h0M181.5 665.5h0M182.0 684.8h0M187.6 665.5h0M189.1 675.1h0M186.0 651.0h0M192.6 665.5h0M193.5 636.5h0M190.2 641.3h0M192.4 713.8h0M197.8 636.5h0M195.8 689.6h0M196.9 699.3h0M202.1 704.1h0M201.5 675.1h0M200.3 636.5h0M201.5 684.8h0M201.0 718.6h0M205.8 699.3h0M205.1 636.5h0M208.3 704.1h0M213.4 694.5h0M219.5 651.0h0M219.3 665.5h0M217.3 655.8h0M217.4 689.6h0M221.3 651.0h0M224.5 689.6h0M224.0 665.5h0M228.4 689.6h0M231.9 699.3h0M232.2 651.0h0M231.3 680.0h0M230.6 684.8h0M232.6 655.8h0M230.8 660.6h0M232.6 689.6h0M237.0 651.0h0M235.7 684.8h0M237.1 699.3h0M237.5 689.6h0M234.6 665.5h0M237.6 675.1h0M240.4 651.0h0M241.0 704.1h0M246.2 704.1h0M248.4 641.3h0M253.9 646.2h0M257.6 709.0h0M256.7 699.3h0M262.4 651.0h0M261.0 704.1h0M268.4 709.0h0M267.3 670.3h0M267.7 684.8h0M267.9 660.6h0M270.1 670.3h0M269.7 713.8h0M271.0 704.1h0M271.6 675.1h0M269.8 651.0h0M272.9 641.3h0M271.6 680.0h0M273.2 655.8h0M270.1 665.5h0M270.0 660.6h0M276.0 670.3h0M277.2 680.0h0M276.0 655.8h0M274.9 713.8h0M274.9 646.2h0M276.0 675.1h0M276.2 665.5h0M274.6 689.6h0M277.3 704.1h0M276.3 684.8h0M275.3 694.5h0M274.7 699.3h0M276.2 709.0h0M277.2 636.5h0M274.8 660.6h0M276.8 718.6h0M274.8 651.0h0M280.7 675.1h0M278.9 699.3h0M281.3 665.5h0M279.7 718.6h0M278.8 680.0h0M281.5 651.0h0M281.6 660.6h0M281.7 646.2h0M281.8 655.8h0M280.5 641.3h0M279.2 684.8h0M280.6 694.5h0M279.7 636.5h0M281.2 670.3h0M279.5 704.1h0M278.9 689.6h0M281.1 709.0h0M279.1 713.8h0M285.3 709.0h0M286.3 675.1h0M284.3 665.5h0M286.3 694.5h0M284.3 655.8h0M286.4 636.5h0M286.0 670.3h0M284.9 689.6h0M285.0 680.0h0M289.9 675.1h0M288.2 694.5h0M290.0 651.0h0M287.5 699.3h0M287.7 646.2h0M293.3 646.2h0M297.5 646.2h0M296.7 704.1h0M302.1 675.1h0M308.4 718.6h0M311.9 641.3h0M311.5 709.0h0M311.6 694.5h0M311.7 680.0h0M312.1 660.6h0M310.1 651.0h0M317.0 684.8h0M316.7 694.5h0M315.5 646.2h0M316.8 709.0h0M316.8 718.6h0M316.6 665.5h0M315.5 655.8h0M316.5 651.0h0M315.3 675.1h0M314.4 636.5h0M319.9 699.3h0M320.4 675.1h0M321.5 655.8h0M320.7 646.2h0M319.3 684.8h0M320.2 660.6h0M321.8 713.8h0M319.9 651.0h0M323.8 660.6h0M324.7 646.2h0M323.9 636.5h0M323.7 651.0h0M323.1 670.3h0M323.8 641.3h0M322.8 709.0h0M325.0 680.0h0M323.1 694.5h0M327.7 675.1h0M327.9 689.6h0M328.6 699.3h0M328.2 660.6h0M330.6 655.8h0M327.4 641.3h0M328.2 694.5h0M327.6 718.6h0M329.4 651.0h0M332.2 651.0h0M338.1 651.0h0M336.8 655.8h0M336.6 694.5h0M346.5 646.2h0M345.7 694.5h0M348.0 655.8h0M348.1 675.1h0M346.0 704.1h0M350.7 675.1h0M352.3 699.3h0M350.7 709.0h0M352.0 704.1h0M349.8 694.5h0M352.5 655.8h0M352.1 646.2h0M356.1 646.2h0M356.4 670.3h0M355.2 709.0h0M353.8 655.8h0M355.1 675.1h0M355.4 636.5h0M357.0 651.0h0M357.1 660.6h0M361.5 675.1h0M360.8 651.0h0M360.1 704.1h0M358.4 689.6h0M358.8 709.0h0M359.4 641.3h0M358.5 680.0h0M359.2 713.8h0M359.1 684.8h0M363.0 651.0h0M365.0 684.8h0M364.2 709.0h0M365.8 680.0h0M364.7 689.6h0M365.1 699.3h0M364.7 713.8h0M363.6 641.3h0M365.3 646.2h0M367.8 641.3h0M369.0 704.1h0M369.4 651.0h0M368.1 713.8h0M370.2 680.0h0M368.2 646.2h0M368.6 636.5h0M371.5 680.0h0M372.0 646.2h0M374.8 675.1h0M374.7 636.5h0M376.2 641.3h0M376.6 646.2h0M379.1 670.3h0M376.0 660.6h0M381.2 660.6h0M383.3 665.5h0M386.5 675.1h0M386.5 709.0h0M390.4 670.3h0M390.2 660.6h0M396.5 660.6h0M396.9 704.1h0M395.1 646.2h0M398.3 704.1h0M398.1 660.6h0M399.7 675.1h0M398.3 670.3h0M401.0 641.3h0M399.9 689.6h0M399.5 655.8h0M404.8 641.3h0M404.3 699.3h0M404.2 665.5h0M403.1 704.1h0M405.7 684.8h0M405.7 636.5h0M404.6 660.6h0M403.4 709.0h0M405.2 713.8h0M405.7 646.2h0M403.3 680.0h0M409.4 713.8h0M407.6 680.0h0M407.7 704.1h0M408.7 660.6h0M407.4 670.3h0M409.9 636.5h0M410.2 684.8h0M406.8 651.0h0M408.4 646.2h0M409.4 699.3h0M408.1 641.3h0M410.0 665.5h0M411.2 636.5h0M412.9 713.8h0M412.7 675.1h0M412.7 704.1h0M412.1 646.2h0M414.0 651.0h0M417.2 709.0h0M418.0 646.2h0M418.0 670.3h0M418.9 684.8h0M416.0 680.0h0M418.2 660.6h0M417.7 651.0h0M421.9 670.3h0M432.3 665.5h0M431.2 713.8h0M434.5 709.0h0M434.4 660.6h0M438.9 660.6h0M440.1 636.5h0" stroke="#17b5b0" stroke-width="6.5" stroke-linecap="round" fill="none"/>
<path d="M480.09,623.80 L480.09,616.45 L484.51,616.45 L484.51,616.45 L488.93,616.45 L488.93,609.10 L493.35,609.10 L493.35,609.10 L497.77,609.10 L497.77,609.10 L502.19,609.10 L502.19,594.40 L506.61,594.40 L506.61,601.75 L511.03,601.75 L511.03,623.80 L515.46,623.80 L515.46,623.80 L519.88,623.80 L519.88,616.45 L524.30,616.45 L524.30,609.10 L528.72,609.10 L528.72,601.75 L533.14,601.75 L533.14,623.80 L537.56,623.80 L537.56,616.45 L541.98,616.45 L541.98,609.10 L546.40,609.10 L546.40,623.80 L550.82,623.80 L550.82,616.45 L555.24,616.45 L555.24,616.45 L559.66,616.45 L559.66,616.45 L564.08,616.45 L564.08,616.45 L568.50,616.45 L568.50,609.10 L572.92,609.10 L572.92,609.10 L577.35,609.10 L577.35,609.10 L581.77,609.10 L581.77,616.45 L586.19,616.45 L586.19,616.45 L590.61,616.45 L590.61,594.40 L595.03,594.40 L595.03,601.75 L599.45,601.75 L599.45,623.80 L603.87,623.80 L603.87,616.45 L608.29,616.45 L608.29,616.45 L612.71,616.45 L612.71,594.40 L617.13,594.40 L617.13,623.80 L621.55,623.80 L621.55,616.45 L625.97,616.45 L625.97,623.80 L630.39,623.80 L630.39,623.80 L634.81,623.80 L634.81,623.80 L639.23,623.80 L639.23,616.45 L643.66,616.45 L643.66,601.75 L648.08,601.75 L648.08,616.45 L652.50,616.45 L652.50,587.05 L656.92,587.05 L656.92,572.35 L661.34,572.35 L661.34,550.30 L665.76,550.30 L665.76,572.35 L670.18,572.35 L670.18,616.45 L674.60,616.45 L674.60,616.45 L679.02,616.45 L679.02,601.75 L683.44,601.75 L683.44,616.45 L687.86,616.45 L687.86,601.75 L692.28,601.75 L692.28,609.10 L696.70,609.10 L696.70,594.40 L701.12,594.40 L701.12,565.00 L705.54,565.00 L705.54,587.05 L709.97,587.05 L709.97,609.10 L714.39,609.10 L714.39,601.75 L718.81,601.75 L718.81,616.45 L723.23,616.45 L723.23,616.45 L727.65,616.45 L727.65,609.10 L732.07,609.10 L732.07,623.80 L736.49,623.80 L736.49,623.80 L740.91,623.80 L740.91,601.75 L745.33,601.75 L745.33,601.75 L749.75,601.75 L749.75,609.10 L754.17,609.10 L754.17,616.45 L758.59,616.45 L758.59,594.40 L763.01,594.40 L763.01,623.80 L767.43,623.80 L767.43,609.10 L771.86,609.10 L771.86,601.75 L776.28,601.75 L776.28,623.80 L780.70,623.80 L780.70,609.10 L785.12,609.10 L785.12,616.45 L789.54,616.45 L789.54,579.70 L793.96,579.70 L793.96,579.70 L798.38,579.70 L798.38,579.70 L802.80,579.70 L802.80,609.10 L807.22,609.10 L807.22,601.75 L811.64,601.75 L811.64,623.80 Z" fill="#f27370" stroke="#a0484a" stroke-width="1.6"/>
<line x1="590.7" y1="624.3" x2="590.7" y2="627.8" stroke="#231f20" stroke-width="1.2"/>
<path d="M482.6 707.6h0M487.9 669.0h0M490.0 654.5h0M491.3 669.0h0M496.0 673.8h0M494.4 678.6h0M500.4 669.0h0M500.0 683.5h0M503.9 678.6h0M505.3 664.1h0M505.2 649.7h0M505.8 717.3h0M508.2 644.8h0M508.6 673.8h0M509.0 640.0h0M521.9 659.3h0M526.3 702.8h0M525.2 678.6h0M530.9 707.6h0M529.2 673.8h0M531.9 693.1h0M538.2 688.3h0M545.2 664.1h0M543.7 644.8h0M552.8 644.8h0M559.0 649.7h0M563.4 654.5h0M567.0 664.1h0M570.6 712.5h0M569.9 698.0h0M574.3 717.3h0M574.7 707.6h0M579.8 712.5h0M578.7 707.6h0M585.6 712.5h0M589.4 712.5h0M594.2 669.0h0M592.4 673.8h0M594.3 654.5h0M591.2 707.6h0M598.7 664.1h0M598.9 702.8h0M595.5 649.7h0M607.0 707.6h0M611.2 707.6h0M615.6 702.8h0M615.6 707.6h0M616.6 659.3h0M616.1 688.3h0M623.0 702.8h0M641.0 669.0h0M647.3 688.3h0M646.7 664.1h0M647.2 698.0h0M650.3 669.0h0M655.8 673.8h0M654.3 707.6h0M655.5 640.0h0M653.8 659.3h0M655.5 683.5h0M658.3 669.0h0M658.3 712.5h0M658.3 717.3h0M659.7 673.8h0M658.7 688.3h0M659.8 698.0h0M657.9 707.6h0M662.7 702.8h0M663.5 693.1h0M662.2 664.1h0M662.9 688.3h0M661.8 673.8h0M663.8 707.6h0M662.3 644.8h0M664.0 649.7h0M662.7 640.0h0M662.6 717.3h0M666.8 693.1h0M666.6 640.0h0M666.5 698.0h0M667.5 678.6h0M668.9 702.8h0M667.3 649.7h0M668.0 644.8h0M673.9 644.8h0M678.2 669.0h0M680.8 664.1h0M681.8 654.5h0M682.3 673.8h0M686.0 669.0h0M690.2 664.1h0M690.7 654.5h0M688.9 698.0h0M694.1 659.3h0M692.9 698.0h0M700.6 654.5h0M698.7 664.1h0M700.6 702.8h0M697.9 644.8h0M702.8 669.0h0M703.1 649.7h0M704.1 644.8h0M703.1 698.0h0M705.0 693.1h0M704.8 712.5h0M702.0 640.0h0M704.2 683.5h0M709.2 688.3h0M706.4 644.8h0M706.6 717.3h0M709.3 678.6h0M708.8 698.0h0M712.0 712.5h0M712.3 702.8h0M715.7 707.6h0M717.7 698.0h0M717.9 669.0h0M719.9 702.8h0M724.4 717.3h0M729.7 640.0h0M729.8 693.1h0M744.5 717.3h0M743.9 654.5h0M742.0 688.3h0M746.4 654.5h0M747.8 659.3h0M745.9 702.8h0M752.6 707.6h0M752.8 649.7h0M756.1 654.5h0M760.9 659.3h0M760.5 644.8h0M760.8 649.7h0M759.5 654.5h0M771.2 693.1h0M769.2 669.0h0M773.2 688.3h0M774.6 673.8h0M772.3 693.1h0M783.2 640.0h0M784.2 669.0h0M785.9 664.1h0M790.2 669.0h0M790.6 717.3h0M791.8 698.0h0M791.7 707.6h0M792.3 683.5h0M790.2 644.8h0M797.2 688.3h0M797.6 644.8h0M796.7 702.8h0M797.8 640.0h0M796.1 717.3h0M797.5 693.1h0M800.3 649.7h0M799.0 644.8h0M799.6 683.5h0M800.4 664.1h0M800.8 702.8h0M800.4 659.3h0M803.8 654.5h0M805.1 649.7h0M808.7 698.0h0M808.4 702.8h0M809.6 664.1h0" stroke="#ef6566" stroke-width="6.5" stroke-linecap="round" fill="none"/>
<path d="M111.0,762.0 220.4,762.0 220.4,762.0 221.5,762.1 222.6,762.3 223.7,762.6 224.8,763.1 225.9,763.6 227.0,764.3 228.1,765.0 229.2,765.8 230.3,766.7 231.4,767.5 232.6,768.4 233.7,769.2 234.8,770.0 235.9,770.8 237.0,771.4 238.1,772.0 239.2,772.4 240.3,772.7 241.4,772.9 242.5,772.9 243.6,772.9 244.7,772.6 245.8,772.3 246.9,771.8 248.0,771.2 249.1,770.6 250.2,769.8 251.3,769.0 252.4,768.2 253.5,767.3 254.6,766.4 255.7,765.6 256.9,764.8 258.0,764.1 259.1,763.5 260.2,762.9 261.3,762.5 262.4,762.2 263.5,762.0 264.6,762.0 265.7,762.1 266.8,762.3 267.9,762.7 269.0,763.2 270.1,763.8 271.2,764.5 272.3,765.2 273.4,766.0 274.5,766.9 275.6,767.7 276.7,768.6 277.8,769.4 278.9,770.2 280.0,770.9 281.2,771.6 282.3,772.1 283.4,772.5 284.5,772.8 285.6,772.9 286.7,772.9 287.8,772.8 288.9,772.6 290.0,772.2 291.1,771.7 292.2,771.1 293.3,770.4 294.4,769.6 295.5,768.8 296.6,768.0 297.7,767.1 298.8,766.2 299.9,765.4 301.0,764.6 302.1,763.9 303.2,763.3 304.3,762.8 305.5,762.4 306.6,762.2 307.7,762.0 308.8,762.0 309.9,762.2 311.0,762.4 312.1,762.8 313.2,763.3 314.3,763.9 315.4,764.7 316.5,765.4 317.6,766.3 318.7,767.1 319.8,768.0 320.9,768.8 322.0,769.6 323.1,770.4 324.2,771.1 325.3,771.7 326.4,772.2 327.5,772.6 328.6,772.8 329.8,772.9 330.9,772.9 332.0,772.8 333.1,772.5 334.2,772.1 335.3,771.5 336.4,770.9 337.5,770.2 338.6,769.4 339.7,768.6 340.8,767.7 341.9,766.9 343.0,766.0 344.1,765.2 345.2,764.5 346.3,763.8 347.4,763.2 348.5,762.7 349.6,762.3 350.7,762.1 351.8,762.0 352.9,762.0 354.1,762.2 355.2,762.5 356.3,762.9 357.4,763.5 358.5,764.1 359.6,764.8 360.7,765.6 361.8,766.5 362.9,767.3 364.0,768.2 365.1,769.0 366.2,769.8 367.3,770.6 368.4,771.3 369.5,771.8 370.6,772.3 371.7,772.6 372.8,772.9 373.9,772.9 375.0,772.9 376.1,772.7 377.2,772.4 378.4,771.9 379.5,771.4 380.6,770.7 381.7,770.0 382.8,769.2 383.9,768.4 385.0,767.5 386.1,766.6 387.2,765.8 388.3,765.0 389.4,764.3 390.5,763.6 391.6,763.0 392.7,762.6 393.8,762.3 394.9,762.1 396.0,762.0 397.1,762.1 398.2,762.3 399.3,762.6 400.4,763.1 401.5,763.6 402.6,764.3 403.8,765.0 404.9,765.8 406.0,766.7 407.1,767.5 408.2,768.4 409.3,769.2 410.4,770.0 411.5,770.8 412.6,771.4 413.7,772.0 414.8,772.4 415.9,772.7 417.0,772.9 418.1,772.9 419.2,772.9 420.3,772.6 421.4,772.3 422.5,771.8 423.6,771.2 424.7,770.6 425.8,769.8 427.0,769.0 428.1,768.2 429.2,767.3 430.3,766.4 431.4,765.6 432.5,764.8 433.6,764.1 434.7,763.5 435.8,762.9 436.9,762.5 438.0,762.2 439.1,762.0 439.1,803.8 438.0,803.6 436.9,803.3 435.8,802.9 434.7,802.3 433.6,801.7 432.5,801.0 431.4,800.2 430.3,799.4 429.2,798.5 428.1,797.6 427.0,796.8 425.8,796.0 424.7,795.2 423.6,794.6 422.5,794.0 421.4,793.5 420.3,793.2 419.2,792.9 418.1,792.9 417.0,792.9 415.9,793.1 414.8,793.4 413.7,793.8 412.6,794.4 411.5,795.0 410.4,795.8 409.3,796.6 408.2,797.4 407.1,798.3 406.0,799.1 404.9,800.0 403.8,800.8 402.6,801.5 401.5,802.2 400.4,802.7 399.3,803.2 398.2,803.5 397.1,803.7 396.0,803.8 394.9,803.7 393.8,803.5 392.7,803.2 391.6,802.8 390.5,802.2 389.4,801.5 388.3,800.8 387.2,800.0 386.1,799.2 385.0,798.3 383.9,797.4 382.8,796.6 381.7,795.8 380.6,795.1 379.5,794.4 378.4,793.9 377.2,793.4 376.1,793.1 375.0,792.9 373.9,792.9 372.8,792.9 371.7,793.2 370.6,793.5 369.5,794.0 368.4,794.5 367.3,795.2 366.2,796.0 365.1,796.8 364.0,797.6 362.9,798.5 361.8,799.3 360.7,800.2 359.6,801.0 358.5,801.7 357.4,802.3 356.3,802.9 355.2,803.3 354.1,803.6 352.9,803.8 351.8,803.8 350.7,803.7 349.6,803.5 348.5,803.1 347.4,802.6 346.3,802.0 345.2,801.3 344.1,800.6 343.0,799.8 341.9,798.9 340.8,798.1 339.7,797.2 338.6,796.4 337.5,795.6 336.4,794.9 335.3,794.3 334.2,793.7 333.1,793.3 332.0,793.0 330.9,792.9 329.8,792.9 328.6,793.0 327.5,793.2 326.4,793.6 325.3,794.1 324.2,794.7 323.1,795.4 322.0,796.2 320.9,797.0 319.8,797.8 318.7,798.7 317.6,799.5 316.5,800.4 315.4,801.1 314.3,801.9 313.2,802.5 312.1,803.0 311.0,803.4 309.9,803.6 308.8,803.8 307.7,803.8 306.6,803.6 305.5,803.4 304.3,803.0 303.2,802.5 302.1,801.9 301.0,801.2 299.9,800.4 298.8,799.6 297.7,798.7 296.6,797.8 295.5,797.0 294.4,796.2 293.3,795.4 292.2,794.7 291.1,794.1 290.0,793.6 288.9,793.2 287.8,793.0 286.7,792.9 285.6,792.9 284.5,793.0 283.4,793.3 282.3,793.7 281.2,794.2 280.0,794.9 278.9,795.6 277.8,796.4 276.7,797.2 275.6,798.1 274.5,798.9 273.4,799.8 272.3,800.6 271.2,801.3 270.1,802.0 269.0,802.6 267.9,803.1 266.8,803.5 265.7,803.7 264.6,803.8 263.5,803.8 262.4,803.6 261.3,803.3 260.2,802.9 259.1,802.3 258.0,801.7 256.9,801.0 255.7,800.2 254.6,799.4 253.5,798.5 252.4,797.6 251.3,796.8 250.2,796.0 249.1,795.2 248.0,794.6 246.9,794.0 245.8,793.5 244.7,793.2 243.6,792.9 242.5,792.9 241.4,792.9 240.3,793.1 239.2,793.4 238.1,793.8 237.0,794.4 235.9,795.0 234.8,795.8 233.7,796.6 232.6,797.4 231.4,798.3 230.3,799.1 229.2,800.0 228.1,800.8 227.0,801.5 225.9,802.2 224.8,802.7 223.7,803.2 222.6,803.5 221.5,803.7 220.4,803.8 220.4,803.8 111.0,803.8 Z" fill="#d9d9d9"/>
<path d="M479.0,761.9 588.7,761.9 588.7,761.9 589.8,762.0 590.9,762.2 592.0,762.5 593.1,763.0 594.2,763.5 595.3,764.2 596.4,764.9 597.5,765.8 598.7,766.6 599.8,767.5 600.9,768.3 602.0,769.2 603.1,770.0 604.2,770.7 605.3,771.4 606.4,771.9 607.5,772.4 608.6,772.7 609.7,772.9 610.8,772.9 611.9,772.8 613.0,772.6 614.1,772.3 615.2,771.8 616.3,771.2 617.4,770.5 618.6,769.8 619.7,768.9 620.8,768.1 621.9,767.2 623.0,766.4 624.1,765.5 625.2,764.7 626.3,764.0 627.4,763.4 628.5,762.8 629.6,762.4 630.7,762.1 631.8,761.9 632.9,761.9 634.0,762.0 635.1,762.3 636.2,762.6 637.3,763.1 638.5,763.7 639.6,764.4 640.7,765.2 641.8,766.0 642.9,766.9 644.0,767.7 645.1,768.6 646.2,769.4 647.3,770.2 648.4,770.9 649.5,771.6 650.6,772.1 651.7,772.5 652.8,772.8 653.9,772.9 655.0,772.9 656.1,772.8 657.2,772.5 658.4,772.1 659.5,771.6 660.6,771.0 661.7,770.3 662.8,769.5 663.9,768.7 665.0,767.8 666.1,767.0 667.2,766.1 668.3,765.3 669.4,764.5 670.5,763.8 671.6,763.2 672.7,762.7 673.8,762.3 674.9,762.0 676.0,761.9 677.1,761.9 678.2,762.1 679.4,762.4 680.5,762.8 681.6,763.3 682.7,763.9 683.8,764.6 684.9,765.4 686.0,766.2 687.1,767.1 688.2,768.0 689.3,768.8 690.4,769.7 691.5,770.4 692.6,771.1 693.7,771.7 694.8,772.2 695.9,772.6 697.0,772.8 698.2,772.9 699.3,772.9 700.4,772.7 701.5,772.4 702.6,772.0 703.7,771.5 704.8,770.8 705.9,770.1 707.0,769.3 708.1,768.5 709.2,767.6 710.3,766.7 711.4,765.9 712.5,765.0 713.6,764.3 714.7,763.6 715.8,763.0 716.9,762.6 718.0,762.2 719.2,762.0 720.3,761.9 721.4,762.0 722.5,762.1 723.6,762.5 724.7,762.9 725.8,763.5 726.9,764.1 728.0,764.9 729.1,765.7 730.2,766.5 731.3,767.4 732.4,768.2 733.5,769.1 734.6,769.9 735.7,770.6 736.8,771.3 738.0,771.9 739.1,772.3 740.2,772.7 741.3,772.9 742.4,772.9 743.5,772.9 744.6,772.6 745.7,772.3 746.8,771.8 747.9,771.3 749.0,770.6 750.1,769.9 751.2,769.1 752.3,768.2 753.4,767.3 754.5,766.5 755.6,765.6 756.7,764.8 757.9,764.1 759.0,763.4 760.1,762.9 761.2,762.4 762.3,762.1 763.4,761.9 764.5,761.9 765.6,762.0 766.7,762.2 767.8,762.6 768.9,763.1 770.0,763.6 771.1,764.3 772.2,765.1 773.3,765.9 774.4,766.8 775.5,767.6 776.6,768.5 777.8,769.3 778.9,770.1 780.0,770.8 781.1,771.5 782.2,772.0 783.3,772.4 784.4,772.7 785.5,772.9 786.6,772.9 787.7,772.8 788.8,772.6 789.9,772.2 791.0,771.7 792.1,771.1 793.2,770.4 794.3,769.6 795.4,768.8 796.5,767.9 797.7,767.1 798.8,766.2 799.9,765.4 801.0,764.6 802.1,763.9 803.2,763.3 804.3,762.7 805.4,762.3 806.5,762.1 807.6,761.9 807.6,804.0 806.5,803.8 805.4,803.6 804.3,803.2 803.2,802.6 802.1,802.0 801.0,801.3 799.9,800.5 798.8,799.7 797.7,798.8 796.5,798.0 795.4,797.1 794.3,796.3 793.2,795.5 792.1,794.8 791.0,794.2 789.9,793.7 788.8,793.3 787.7,793.1 786.6,793.0 785.5,793.0 784.4,793.2 783.3,793.5 782.2,793.9 781.1,794.4 780.0,795.1 778.9,795.8 777.8,796.6 776.6,797.4 775.5,798.3 774.4,799.1 773.3,800.0 772.2,800.8 771.1,801.6 770.0,802.3 768.9,802.8 767.8,803.3 766.7,803.7 765.6,803.9 764.5,804.0 763.4,804.0 762.3,803.8 761.2,803.5 760.1,803.0 759.0,802.5 757.9,801.8 756.7,801.1 755.6,800.3 754.5,799.4 753.4,798.6 752.3,797.7 751.2,796.8 750.1,796.0 749.0,795.3 747.9,794.6 746.8,794.1 745.7,793.6 744.6,793.3 743.5,793.0 742.4,793.0 741.3,793.0 740.2,793.2 739.1,793.6 738.0,794.0 736.8,794.6 735.7,795.3 734.6,796.0 733.5,796.8 732.4,797.7 731.3,798.5 730.2,799.4 729.1,800.2 728.0,801.0 726.9,801.8 725.8,802.4 724.7,803.0 723.6,803.4 722.5,803.8 721.4,803.9 720.3,804.0 719.2,803.9 718.0,803.7 716.9,803.3 715.8,802.9 714.7,802.3 713.6,801.6 712.5,800.9 711.4,800.0 710.3,799.2 709.2,798.3 708.1,797.4 707.0,796.6 705.9,795.8 704.8,795.1 703.7,794.4 702.6,793.9 701.5,793.5 700.4,793.2 699.3,793.0 698.2,793.0 697.0,793.1 695.9,793.3 694.8,793.7 693.7,794.2 692.6,794.8 691.5,795.5 690.4,796.2 689.3,797.1 688.2,797.9 687.1,798.8 686.0,799.7 684.9,800.5 683.8,801.3 682.7,802.0 681.6,802.6 680.5,803.1 679.4,803.5 678.2,803.8 677.1,804.0 676.0,804.0 674.9,803.9 673.8,803.6 672.7,803.2 671.6,802.7 670.5,802.1 669.4,801.4 668.3,800.6 667.2,799.8 666.1,798.9 665.0,798.1 663.9,797.2 662.8,796.4 661.7,795.6 660.6,794.9 659.5,794.3 658.4,793.8 657.2,793.4 656.1,793.1 655.0,793.0 653.9,793.0 652.8,793.1 651.7,793.4 650.6,793.8 649.5,794.3 648.4,795.0 647.3,795.7 646.2,796.5 645.1,797.3 644.0,798.2 642.9,799.0 641.8,799.9 640.7,800.7 639.6,801.5 638.5,802.2 637.3,802.8 636.2,803.3 635.1,803.6 634.0,803.9 632.9,804.0 631.8,804.0 630.7,803.8 629.6,803.5 628.5,803.1 627.4,802.5 626.3,801.9 625.2,801.2 624.1,800.4 623.0,799.5 621.9,798.7 620.8,797.8 619.7,797.0 618.6,796.1 617.4,795.4 616.3,794.7 615.2,794.1 614.1,793.6 613.0,793.3 611.9,793.1 610.8,793.0 609.7,793.0 608.6,793.2 607.5,793.5 606.4,794.0 605.3,794.5 604.2,795.2 603.1,795.9 602.0,796.7 600.9,797.6 599.8,798.4 598.7,799.3 597.5,800.1 596.4,801.0 595.3,801.7 594.2,802.4 593.1,802.9 592.0,803.4 590.9,803.7 589.8,803.9 588.7,804.0 588.7,804.0 479.0,804.0 Z" fill="#d9d9d9"/>
<text x="91.9" y="797.3" font-size="31" fill="#231f20" text-anchor="end" font-weight="normal" font-style="normal" >-9 dB</text>
<path d="M110.09,919.40 L110.09,912.46 L114.51,912.46 L114.51,884.70 L118.93,884.70 L118.93,905.52 L123.35,905.52 L123.35,905.52 L127.77,905.52 L127.77,898.58 L132.19,898.58 L132.19,884.70 L136.61,884.70 L136.61,884.70 L141.03,884.70 L141.03,870.82 L145.46,870.82 L145.46,912.46 L149.88,912.46 L149.88,898.58 L154.30,898.58 L154.30,912.46 L158.72,912.46 L158.72,912.46 L163.14,912.46 L163.14,898.58 L167.56,898.58 L167.56,912.46 L171.98,912.46 L171.98,898.58 L176.40,898.58 L176.40,919.40 L180.82,919.40 L180.82,884.70 L185.24,884.70 L185.24,905.52 L189.66,905.52 L189.66,905.52 L194.08,905.52 L194.08,891.64 L198.50,891.64 L198.50,870.82 L202.92,870.82 L202.92,891.64 L207.35,891.64 L207.35,905.52 L211.77,905.52 L211.77,891.64 L216.19,891.64 L216.19,898.58 L220.61,898.58 L220.61,898.58 L225.03,898.58 L225.03,905.52 L229.45,905.52 L229.45,891.64 L233.87,891.64 L233.87,877.76 L238.29,877.76 L238.29,905.52 L242.71,905.52 L242.71,905.52 L247.13,905.52 L247.13,891.64 L251.55,891.64 L251.55,912.46 L255.97,912.46 L255.97,919.40 L260.39,919.40 L260.39,905.52 L264.81,905.52 L264.81,884.70 L269.23,884.70 L269.23,850.00 L273.66,850.00 L273.66,801.42 L278.08,801.42 L278.08,794.48 L282.50,794.48 L282.50,815.30 L286.92,815.30 L286.92,877.76 L291.34,877.76 L291.34,905.52 L295.76,905.52 L295.76,905.52 L300.18,905.52 L300.18,912.46 L304.60,912.46 L304.60,898.58 L309.02,898.58 L309.02,912.46 L313.44,912.46 L313.44,843.06 L317.86,843.06 L317.86,815.30 L322.28,815.30 L322.28,870.82 L326.70,870.82 L326.70,884.70 L331.12,884.70 L331.12,919.40 L335.54,919.40 L335.54,905.52 L339.97,905.52 L339.97,919.40 L344.39,919.40 L344.39,912.46 L348.81,912.46 L348.81,870.82 L353.23,870.82 L353.23,870.82 L357.65,870.82 L357.65,856.94 L362.07,856.94 L362.07,822.24 L366.49,822.24 L366.49,870.82 L370.91,870.82 L370.91,877.76 L375.33,877.76 L375.33,905.52 L379.75,905.52 L379.75,905.52 L384.17,905.52 L384.17,898.58 L388.59,898.58 L388.59,912.46 L393.01,912.46 L393.01,912.46 L397.43,912.46 L397.43,898.58 L401.86,898.58 L401.86,850.00 L406.28,850.00 L406.28,856.94 L410.70,856.94 L410.70,891.64 L415.12,891.64 L415.12,877.76 L419.54,877.76 L419.54,905.52 L423.96,905.52 L423.96,919.40 L428.38,919.40 L428.38,912.46 L432.80,912.46 L432.80,912.46 L437.22,912.46 L437.22,919.40 L441.64,919.40 L441.64,919.40 Z" fill="#14b3b0" stroke="#0b8784" stroke-width="1.6" stroke-linejoin="miter"/>
<line x1="220.7" y1="919.9" x2="220.7" y2="923.4" stroke="#231f20" stroke-width="1.2"/>
<path d="M112.0 980.8h0M115.3 1014.6h0M117.2 971.1h0M115.9 937.3h0M117.1 1009.8h0M115.7 1000.1h0M120.7 932.5h0M120.5 971.1h0M127.2 932.5h0M125.6 956.6h0M130.3 961.5h0M129.5 1009.8h0M129.3 951.8h0M134.1 951.8h0M135.7 937.3h0M134.1 956.6h0M133.6 961.5h0M135.0 1000.1h0M140.4 1005.0h0M139.7 961.5h0M139.1 1009.8h0M137.1 976.0h0M139.7 932.5h0M144.4 961.5h0M144.0 1005.0h0M144.0 937.3h0M142.9 985.6h0M143.9 995.3h0M143.8 1014.6h0M141.9 951.8h0M147.6 942.2h0M152.7 942.2h0M153.6 961.5h0M152.1 956.6h0M157.7 932.5h0M161.6 995.3h0M166.1 961.5h0M165.0 990.5h0M163.9 937.3h0M170.8 956.6h0M173.1 942.2h0M173.9 1005.0h0M174.3 932.5h0M181.8 937.3h0M184.8 947.0h0M182.5 980.8h0M181.8 985.6h0M183.0 966.3h0M186.4 932.5h0M187.6 980.8h0M193.4 932.5h0M192.5 1005.0h0M194.9 932.5h0M195.8 976.0h0M195.1 1000.1h0M197.7 1014.6h0M199.3 1014.6h0M201.8 976.0h0M199.5 937.3h0M201.6 956.6h0M201.4 995.3h0M201.0 966.3h0M201.2 942.2h0M206.8 956.6h0M204.1 947.0h0M204.7 932.5h0M204.6 1009.8h0M210.2 1009.8h0M210.0 947.0h0M215.4 942.2h0M212.5 1014.6h0M215.4 932.5h0M213.1 1005.0h0M219.1 1014.6h0M218.8 961.5h0M218.8 976.0h0M224.0 980.8h0M223.5 932.5h0M222.9 937.3h0M228.3 932.5h0M228.9 980.8h0M232.3 947.0h0M231.5 976.0h0M230.7 966.3h0M233.0 951.8h0M234.5 951.8h0M236.1 976.0h0M236.9 971.1h0M235.0 980.8h0M234.4 932.5h0M235.2 956.6h0M239.0 971.1h0M239.0 937.3h0M246.4 1014.6h0M245.1 942.2h0M250.8 1014.6h0M248.1 966.3h0M248.3 951.8h0M250.7 932.5h0M252.5 1014.6h0M261.0 995.3h0M261.7 951.8h0M265.9 956.6h0M266.5 937.3h0M265.4 951.8h0M266.3 1009.8h0M265.9 932.5h0M273.2 932.5h0M271.4 1009.8h0M269.8 947.0h0M270.2 1014.6h0M271.3 976.0h0M272.1 942.2h0M271.2 966.3h0M271.7 1000.1h0M271.6 980.8h0M270.7 956.6h0M277.4 1014.6h0M275.2 976.0h0M276.1 961.5h0M275.5 947.0h0M276.6 956.6h0M275.3 980.8h0M276.4 942.2h0M276.3 1009.8h0M274.1 971.1h0M275.8 990.5h0M274.5 985.6h0M276.7 1000.1h0M276.9 966.3h0M276.4 937.3h0M276.5 951.8h0M276.4 1005.0h0M275.5 995.3h0M279.4 942.2h0M281.0 995.3h0M280.8 951.8h0M281.2 1009.8h0M280.9 966.3h0M280.1 980.8h0M280.0 985.6h0M279.9 956.6h0M281.2 1014.6h0M278.5 1000.1h0M279.5 1005.0h0M280.3 932.5h0M281.8 947.0h0M279.3 961.5h0M281.0 971.1h0M278.7 937.3h0M281.6 990.5h0M280.3 976.0h0M283.5 1000.1h0M284.9 961.5h0M283.9 966.3h0M285.5 976.0h0M285.5 1014.6h0M284.1 980.8h0M285.7 1005.0h0M285.2 995.3h0M285.4 942.2h0M284.6 956.6h0M284.5 1009.8h0M283.3 951.8h0M284.6 932.5h0M286.3 985.6h0M286.1 937.3h0M288.1 951.8h0M289.7 976.0h0M288.1 1014.6h0M288.9 1000.1h0M288.1 932.5h0M287.4 947.0h0M292.6 932.5h0M293.9 1014.6h0M298.1 1014.6h0M299.7 985.6h0M300.9 961.5h0M306.6 951.8h0M306.8 1009.8h0M305.2 985.6h0M312.9 985.6h0M314.0 956.6h0M316.6 966.3h0M315.1 947.0h0M317.3 985.6h0M315.0 961.5h0M317.1 937.3h0M316.7 932.5h0M315.6 1000.1h0M315.6 980.8h0M317.1 1005.0h0M317.3 976.0h0M321.5 1005.0h0M321.3 956.6h0M320.8 947.0h0M318.4 932.5h0M321.5 951.8h0M321.1 937.3h0M319.3 942.2h0M320.1 985.6h0M319.6 990.5h0M320.2 971.1h0M320.4 976.0h0M319.4 995.3h0M320.6 966.3h0M321.6 980.8h0M321.1 1014.6h0M325.2 985.6h0M323.9 1000.1h0M324.4 961.5h0M323.7 976.0h0M324.7 937.3h0M324.0 980.8h0M324.0 990.5h0M330.0 976.0h0M328.7 985.6h0M329.7 937.3h0M328.0 980.8h0M330.0 1005.0h0M338.8 966.3h0M339.1 971.1h0M345.9 947.0h0M350.6 932.5h0M352.6 966.3h0M349.6 971.1h0M351.0 956.6h0M350.1 1009.8h0M351.3 980.8h0M351.6 961.5h0M353.9 1009.8h0M356.3 1014.6h0M354.5 995.3h0M355.4 966.3h0M357.0 961.5h0M356.0 932.5h0M356.5 980.8h0M360.4 932.5h0M361.6 947.0h0M360.9 961.5h0M361.3 990.5h0M360.7 985.6h0M359.2 1000.1h0M358.5 976.0h0M358.1 995.3h0M360.5 1009.8h0M365.8 932.5h0M364.8 990.5h0M364.7 961.5h0M363.2 980.8h0M362.6 937.3h0M364.8 966.3h0M364.8 976.0h0M364.7 947.0h0M364.1 951.8h0M364.2 942.2h0M362.7 985.6h0M364.4 1000.1h0M365.9 995.3h0M363.0 971.1h0M367.6 932.5h0M368.1 966.3h0M367.0 951.8h0M370.1 961.5h0M369.0 942.2h0M368.3 976.0h0M368.8 971.1h0M374.7 951.8h0M374.5 956.6h0M373.4 980.8h0M374.5 1005.0h0M374.9 947.0h0M374.3 976.0h0M379.2 947.0h0M377.1 1005.0h0M380.9 956.6h0M383.2 985.6h0M386.3 951.8h0M386.4 980.8h0M384.7 976.0h0M389.9 971.1h0M395.6 971.1h0M400.3 1009.8h0M399.4 937.3h0M400.9 976.0h0M402.4 1005.0h0M402.9 980.8h0M402.5 976.0h0M404.2 961.5h0M402.8 1000.1h0M404.4 947.0h0M405.2 937.3h0M403.5 971.1h0M402.7 932.5h0M404.7 951.8h0M407.0 976.0h0M407.1 932.5h0M409.2 937.3h0M408.6 956.6h0M410.1 1014.6h0M410.1 985.6h0M408.3 1005.0h0M408.7 980.8h0M407.1 1000.1h0M413.5 1005.0h0M411.9 1014.6h0M412.7 980.8h0M413.3 1000.1h0M415.7 976.0h0M417.7 1000.1h0M417.2 1014.6h0M416.6 995.3h0M418.8 985.6h0M416.3 942.2h0M421.9 980.8h0M423.3 995.3h0M430.8 947.0h0M435.9 985.6h0" stroke="#17b5b0" stroke-width="6.5" stroke-linecap="round" fill="none"/>
<path d="M480.09,919.70 L480.09,905.30 L484.51,905.30 L484.51,912.50 L488.93,912.50 L488.93,890.90 L493.35,890.90 L493.35,919.70 L497.77,919.70 L497.77,912.50 L502.19,912.50 L502.19,912.50 L506.61,912.50 L506.61,905.30 L511.03,905.30 L511.03,869.30 L515.46,869.30 L515.46,898.10 L519.88,898.10 L519.88,905.30 L524.30,905.30 L524.30,905.30 L528.72,905.30 L528.72,905.30 L533.14,905.30 L533.14,912.50 L537.56,912.50 L537.56,905.30 L541.98,905.30 L541.98,905.30 L546.40,905.30 L546.40,898.10 L550.82,898.10 L550.82,898.10 L555.24,898.10 L555.24,905.30 L559.66,905.30 L559.66,898.10 L564.08,898.10 L564.08,898.10 L568.50,898.10 L568.50,905.30 L572.92,905.30 L572.92,919.70 L577.35,919.70 L577.35,912.50 L581.77,912.50 L581.77,905.30 L586.19,905.30 L586.19,919.70 L590.61,919.70 L590.61,912.50 L595.03,912.50 L595.03,919.70 L599.45,919.70 L599.45,905.30 L603.87,905.30 L603.87,905.30 L608.29,905.30 L608.29,890.90 L612.71,890.90 L612.71,919.70 L617.13,919.70 L617.13,919.70 L621.55,919.70 L621.55,898.10 L625.97,898.10 L625.97,890.90 L630.39,890.90 L630.39,905.30 L634.81,905.30 L634.81,905.30 L639.23,905.30 L639.23,912.50 L643.66,912.50 L643.66,905.30 L648.08,905.30 L648.08,905.30 L652.50,905.30 L652.50,883.70 L656.92,883.70 L656.92,890.90 L661.34,890.90 L661.34,898.10 L665.76,898.10 L665.76,905.30 L670.18,905.30 L670.18,912.50 L674.60,912.50 L674.60,898.10 L679.02,898.10 L679.02,919.70 L683.44,919.70 L683.44,905.30 L687.86,905.30 L687.86,876.50 L692.28,876.50 L692.28,912.50 L696.70,912.50 L696.70,898.10 L701.12,898.10 L701.12,905.30 L705.54,905.30 L705.54,890.90 L709.97,890.90 L709.97,890.90 L714.39,890.90 L714.39,883.70 L718.81,883.70 L718.81,919.70 L723.23,919.70 L723.23,905.30 L727.65,905.30 L727.65,912.50 L732.07,912.50 L732.07,912.50 L736.49,912.50 L736.49,898.10 L740.91,898.10 L740.91,905.30 L745.33,905.30 L745.33,919.70 L749.75,919.70 L749.75,890.90 L754.17,890.90 L754.17,919.70 L758.59,919.70 L758.59,905.30 L763.01,905.30 L763.01,905.30 L767.43,905.30 L767.43,905.30 L771.86,905.30 L771.86,912.50 L776.28,912.50 L776.28,912.50 L780.70,912.50 L780.70,912.50 L785.12,912.50 L785.12,890.90 L789.54,890.90 L789.54,898.10 L793.96,898.10 L793.96,898.10 L798.38,898.10 L798.38,919.70 L802.80,919.70 L802.80,912.50 L807.22,912.50 L807.22,919.70 L811.64,919.70 L811.64,919.70 Z" fill="#f27370" stroke="#a0484a" stroke-width="1.6"/>
<line x1="590.7" y1="920.2" x2="590.7" y2="923.7" stroke="#231f20" stroke-width="1.2"/>
<path d="M483.0 961.1h0M483.1 970.8h0M486.7 975.6h0M490.2 980.5h0M489.7 941.8h0M491.2 956.3h0M491.2 990.1h0M499.5 985.3h0M503.9 990.1h0M510.0 999.8h0M508.4 985.3h0M513.7 980.5h0M513.4 1004.6h0M514.2 975.6h0M513.2 985.3h0M511.8 990.1h0M511.7 1014.3h0M514.0 961.1h0M516.8 980.5h0M517.6 956.3h0M517.6 1009.5h0M520.8 1014.3h0M523.2 975.6h0M525.9 1009.5h0M525.8 956.3h0M529.7 995.0h0M531.0 985.3h0M536.3 999.8h0M541.4 995.0h0M540.8 1004.6h0M543.6 999.8h0M543.9 941.8h0M548.7 995.0h0M547.6 937.0h0M548.5 966.0h0M553.6 961.1h0M553.5 1014.3h0M552.9 946.7h0M558.9 941.8h0M556.0 970.8h0M561.7 975.6h0M561.8 946.7h0M561.4 970.8h0M565.3 975.6h0M565.8 1009.5h0M564.8 985.3h0M569.0 970.8h0M571.7 941.8h0M580.7 946.7h0M584.9 951.5h0M584.8 961.1h0M592.8 937.0h0M603.3 941.8h0M603.2 946.7h0M605.0 946.7h0M607.2 1014.3h0M608.9 961.1h0M609.8 941.8h0M612.0 970.8h0M611.6 1004.6h0M623.2 941.8h0M622.8 956.3h0M622.2 995.0h0M627.4 937.0h0M626.6 966.0h0M627.5 975.6h0M627.5 961.1h0M631.2 970.8h0M633.6 937.0h0M638.4 975.6h0M637.8 1004.6h0M642.7 999.8h0M647.3 985.3h0M644.3 980.5h0M648.9 980.5h0M650.8 985.3h0M655.4 980.5h0M655.5 1004.6h0M653.2 995.0h0M656.2 951.5h0M654.8 937.0h0M659.5 999.8h0M660.7 941.8h0M660.7 956.3h0M660.6 970.8h0M665.1 951.5h0M664.1 1014.3h0M662.1 1009.5h0M666.7 1009.5h0M667.4 1014.3h0M671.5 946.7h0M678.0 941.8h0M678.0 1014.3h0M677.9 1004.6h0M686.5 1004.6h0M684.1 1009.5h0M690.6 1014.3h0M688.5 966.0h0M691.5 985.3h0M690.9 980.5h0M691.1 990.1h0M689.9 956.3h0M693.8 946.7h0M700.1 941.8h0M699.1 966.0h0M697.3 1014.3h0M703.7 961.1h0M702.9 1004.6h0M707.6 1009.5h0M709.2 999.8h0M707.4 990.1h0M706.0 1014.3h0M712.8 995.0h0M712.4 961.1h0M711.5 937.0h0M711.6 985.3h0M716.2 966.0h0M716.1 999.8h0M715.7 1014.3h0M715.2 941.8h0M717.8 956.3h0M724.1 985.3h0M727.1 980.5h0M730.7 980.5h0M732.8 980.5h0M738.9 966.0h0M737.7 1004.6h0M739.6 1014.3h0M744.3 961.1h0M741.8 1009.5h0M752.5 1004.6h0M750.2 970.8h0M751.8 966.0h0M753.7 951.5h0M761.8 990.1h0M761.1 956.3h0M764.9 956.3h0M764.2 941.8h0M770.4 946.7h0M769.1 951.5h0M772.6 941.8h0M779.7 941.8h0M783.1 966.0h0M787.7 961.1h0M788.7 980.5h0M785.7 941.8h0M788.0 937.0h0M791.0 946.7h0M790.1 941.8h0M793.1 975.6h0M796.0 980.5h0M797.3 946.7h0M795.3 937.0h0M806.2 980.5h0" stroke="#ef6566" stroke-width="6.5" stroke-linecap="round" fill="none"/>
<path d="M111.0,1048.0 220.4,1048.0 220.4,1048.0 221.5,1048.1 222.6,1048.2 223.7,1048.5 224.8,1048.8 225.9,1049.2 227.0,1049.8 228.1,1050.3 229.2,1050.9 230.3,1051.6 231.4,1052.3 232.6,1052.9 233.7,1053.6 234.8,1054.2 235.9,1054.7 237.0,1055.2 238.1,1055.7 239.2,1056.0 240.3,1056.2 241.4,1056.4 242.5,1056.4 243.6,1056.4 244.7,1056.2 245.8,1055.9 246.9,1055.6 248.0,1055.1 249.1,1054.6 250.2,1054.0 251.3,1053.4 252.4,1052.8 253.5,1052.1 254.6,1051.4 255.7,1050.8 256.9,1050.2 258.0,1049.6 259.1,1049.1 260.2,1048.7 261.3,1048.4 262.4,1048.2 263.5,1048.0 264.6,1048.0 265.7,1048.1 266.8,1048.3 267.9,1048.5 269.0,1048.9 270.1,1049.4 271.2,1049.9 272.3,1050.5 273.4,1051.1 274.5,1051.8 275.6,1052.4 276.7,1053.1 277.8,1053.7 278.9,1054.3 280.0,1054.9 281.2,1055.4 282.3,1055.8 283.4,1056.1 284.5,1056.3 285.6,1056.4 286.7,1056.4 287.8,1056.3 288.9,1056.1 290.0,1055.8 291.1,1055.5 292.2,1055.0 293.3,1054.5 294.4,1053.9 295.5,1053.2 296.6,1052.6 297.7,1051.9 298.8,1051.3 299.9,1050.6 301.0,1050.0 302.1,1049.5 303.2,1049.0 304.3,1048.6 305.5,1048.3 306.6,1048.1 307.7,1048.0 308.8,1048.0 309.9,1048.1 311.0,1048.3 312.1,1048.6 313.2,1049.0 314.3,1049.5 315.4,1050.0 316.5,1050.6 317.6,1051.3 318.7,1051.9 319.8,1052.6 320.9,1053.3 322.0,1053.9 323.1,1054.5 324.2,1055.0 325.3,1055.5 326.4,1055.9 327.5,1056.1 328.6,1056.3 329.8,1056.4 330.9,1056.4 332.0,1056.3 333.1,1056.1 334.2,1055.8 335.3,1055.3 336.4,1054.9 337.5,1054.3 338.6,1053.7 339.7,1053.1 340.8,1052.4 341.9,1051.7 343.0,1051.1 344.1,1050.5 345.2,1049.9 346.3,1049.4 347.4,1048.9 348.5,1048.5 349.6,1048.3 350.7,1048.1 351.8,1048.0 352.9,1048.0 354.1,1048.2 355.2,1048.4 356.3,1048.7 357.4,1049.1 358.5,1049.6 359.6,1050.2 360.7,1050.8 361.8,1051.4 362.9,1052.1 364.0,1052.8 365.1,1053.4 366.2,1054.0 367.3,1054.6 368.4,1055.1 369.5,1055.6 370.6,1055.9 371.7,1056.2 372.8,1056.4 373.9,1056.4 375.0,1056.4 376.1,1056.2 377.2,1056.0 378.4,1055.7 379.5,1055.2 380.6,1054.7 381.7,1054.2 382.8,1053.6 383.9,1052.9 385.0,1052.2 386.1,1051.6 387.2,1050.9 388.3,1050.3 389.4,1049.7 390.5,1049.2 391.6,1048.8 392.7,1048.5 393.8,1048.2 394.9,1048.1 396.0,1048.0 397.1,1048.1 398.2,1048.2 399.3,1048.5 400.4,1048.8 401.5,1049.3 402.6,1049.8 403.8,1050.3 404.9,1051.0 406.0,1051.6 407.1,1052.3 408.2,1052.9 409.3,1053.6 410.4,1054.2 411.5,1054.8 412.6,1055.3 413.7,1055.7 414.8,1056.0 415.9,1056.3 417.0,1056.4 418.1,1056.4 419.2,1056.4 420.3,1056.2 421.4,1055.9 422.5,1055.6 423.6,1055.1 424.7,1054.6 425.8,1054.0 427.0,1053.4 428.1,1052.7 429.2,1052.1 430.3,1051.4 431.4,1050.8 432.5,1050.2 433.6,1049.6 434.7,1049.1 435.8,1048.7 436.9,1048.4 438.0,1048.2 439.1,1048.0 439.1,1090.0 438.0,1089.8 436.9,1089.6 435.8,1089.3 434.7,1088.9 433.6,1088.4 432.5,1087.8 431.4,1087.2 430.3,1086.6 429.2,1085.9 428.1,1085.3 427.0,1084.6 425.8,1084.0 424.7,1083.4 423.6,1082.9 422.5,1082.4 421.4,1082.1 420.3,1081.8 419.2,1081.6 418.1,1081.6 417.0,1081.6 415.9,1081.7 414.8,1082.0 413.7,1082.3 412.6,1082.7 411.5,1083.2 410.4,1083.8 409.3,1084.4 408.2,1085.1 407.1,1085.7 406.0,1086.4 404.9,1087.0 403.8,1087.7 402.6,1088.2 401.5,1088.7 400.4,1089.2 399.3,1089.5 398.2,1089.8 397.1,1089.9 396.0,1090.0 394.9,1089.9 393.8,1089.8 392.7,1089.5 391.6,1089.2 390.5,1088.8 389.4,1088.3 388.3,1087.7 387.2,1087.1 386.1,1086.4 385.0,1085.8 383.9,1085.1 382.8,1084.4 381.7,1083.8 380.6,1083.3 379.5,1082.8 378.4,1082.3 377.2,1082.0 376.1,1081.8 375.0,1081.6 373.9,1081.6 372.8,1081.6 371.7,1081.8 370.6,1082.1 369.5,1082.4 368.4,1082.9 367.3,1083.4 366.2,1084.0 365.1,1084.6 364.0,1085.2 362.9,1085.9 361.8,1086.6 360.7,1087.2 359.6,1087.8 358.5,1088.4 357.4,1088.9 356.3,1089.3 355.2,1089.6 354.1,1089.8 352.9,1090.0 351.8,1090.0 350.7,1089.9 349.6,1089.7 348.5,1089.5 347.4,1089.1 346.3,1088.6 345.2,1088.1 344.1,1087.5 343.0,1086.9 341.9,1086.3 340.8,1085.6 339.7,1084.9 338.6,1084.3 337.5,1083.7 336.4,1083.1 335.3,1082.7 334.2,1082.2 333.1,1081.9 332.0,1081.7 330.9,1081.6 329.8,1081.6 328.6,1081.7 327.5,1081.9 326.4,1082.1 325.3,1082.5 324.2,1083.0 323.1,1083.5 322.0,1084.1 320.9,1084.7 319.8,1085.4 318.7,1086.1 317.6,1086.7 316.5,1087.4 315.4,1088.0 314.3,1088.5 313.2,1089.0 312.1,1089.4 311.0,1089.7 309.9,1089.9 308.8,1090.0 307.7,1090.0 306.6,1089.9 305.5,1089.7 304.3,1089.4 303.2,1089.0 302.1,1088.5 301.0,1088.0 299.9,1087.4 298.8,1086.7 297.7,1086.1 296.6,1085.4 295.5,1084.8 294.4,1084.1 293.3,1083.5 292.2,1083.0 291.1,1082.5 290.0,1082.2 288.9,1081.9 287.8,1081.7 286.7,1081.6 285.6,1081.6 284.5,1081.7 283.4,1081.9 282.3,1082.2 281.2,1082.6 280.0,1083.1 278.9,1083.7 277.8,1084.3 276.7,1084.9 275.6,1085.6 274.5,1086.2 273.4,1086.9 272.3,1087.5 271.2,1088.1 270.1,1088.6 269.0,1089.1 267.9,1089.5 266.8,1089.7 265.7,1089.9 264.6,1090.0 263.5,1090.0 262.4,1089.8 261.3,1089.6 260.2,1089.3 259.1,1088.9 258.0,1088.4 256.9,1087.8 255.7,1087.2 254.6,1086.6 253.5,1085.9 252.4,1085.2 251.3,1084.6 250.2,1084.0 249.1,1083.4 248.0,1082.9 246.9,1082.4 245.8,1082.1 244.7,1081.8 243.6,1081.6 242.5,1081.6 241.4,1081.6 240.3,1081.8 239.2,1082.0 238.1,1082.3 237.0,1082.8 235.9,1083.3 234.8,1083.8 233.7,1084.4 232.6,1085.1 231.4,1085.7 230.3,1086.4 229.2,1087.1 228.1,1087.7 227.0,1088.2 225.9,1088.8 224.8,1089.2 223.7,1089.5 222.6,1089.8 221.5,1089.9 220.4,1090.0 220.4,1090.0 111.0,1090.0 Z" fill="#d9d9d9"/>
<path d="M479.0,1045.6 588.7,1045.6 588.7,1045.6 589.8,1045.7 590.9,1045.8 592.0,1046.1 593.1,1046.4 594.2,1046.9 595.3,1047.4 596.4,1047.9 597.5,1048.6 598.7,1049.2 599.8,1049.9 600.9,1050.5 602.0,1051.2 603.1,1051.8 604.2,1052.3 605.3,1052.8 606.4,1053.3 607.5,1053.6 608.6,1053.9 609.7,1054.0 610.8,1054.0 611.9,1054.0 613.0,1053.8 614.1,1053.5 615.2,1053.2 616.3,1052.7 617.4,1052.2 618.6,1051.6 619.7,1051.0 620.8,1050.3 621.9,1049.7 623.0,1049.0 624.1,1048.4 625.2,1047.8 626.3,1047.2 627.4,1046.7 628.5,1046.3 629.6,1046.0 630.7,1045.8 631.8,1045.6 632.9,1045.6 634.0,1045.7 635.1,1045.9 636.2,1046.2 637.3,1046.5 638.5,1047.0 639.6,1047.5 640.7,1048.1 641.8,1048.7 642.9,1049.4 644.0,1050.1 645.1,1050.7 646.2,1051.4 647.3,1052.0 648.4,1052.5 649.5,1053.0 650.6,1053.4 651.7,1053.7 652.8,1053.9 653.9,1054.0 655.0,1054.0 656.1,1053.9 657.2,1053.7 658.4,1053.4 659.5,1053.0 660.6,1052.6 661.7,1052.0 662.8,1051.4 663.9,1050.8 665.0,1050.1 666.1,1049.5 667.2,1048.8 668.3,1048.2 669.4,1047.6 670.5,1047.1 671.6,1046.6 672.7,1046.2 673.8,1045.9 674.9,1045.7 676.0,1045.6 677.1,1045.6 678.2,1045.7 679.4,1045.9 680.5,1046.3 681.6,1046.7 682.7,1047.1 683.8,1047.7 684.9,1048.3 686.0,1048.9 687.1,1049.6 688.2,1050.3 689.3,1050.9 690.4,1051.5 691.5,1052.1 692.6,1052.6 693.7,1053.1 694.8,1053.5 695.9,1053.8 697.0,1053.9 698.2,1054.0 699.3,1054.0 700.4,1053.9 701.5,1053.6 702.6,1053.3 703.7,1052.9 704.8,1052.4 705.9,1051.9 707.0,1051.3 708.1,1050.6 709.2,1049.9 710.3,1049.3 711.4,1048.6 712.5,1048.0 713.6,1047.4 714.7,1046.9 715.8,1046.5 716.9,1046.1 718.0,1045.8 719.2,1045.7 720.3,1045.6 721.4,1045.6 722.5,1045.8 723.6,1046.0 724.7,1046.4 725.8,1046.8 726.9,1047.3 728.0,1047.9 729.1,1048.5 730.2,1049.1 731.3,1049.8 732.4,1050.4 733.5,1051.1 734.6,1051.7 735.7,1052.3 736.8,1052.8 738.0,1053.2 739.1,1053.6 740.2,1053.8 741.3,1054.0 742.4,1054.0 743.5,1054.0 744.6,1053.8 745.7,1053.6 746.8,1053.2 747.9,1052.8 749.0,1052.3 750.1,1051.7 751.2,1051.1 752.3,1050.4 753.4,1049.8 754.5,1049.1 755.6,1048.4 756.7,1047.8 757.9,1047.3 759.0,1046.8 760.1,1046.4 761.2,1046.0 762.3,1045.8 763.4,1045.6 764.5,1045.6 765.6,1045.7 766.7,1045.8 767.8,1046.1 768.9,1046.5 770.0,1046.9 771.1,1047.5 772.2,1048.0 773.3,1048.7 774.4,1049.3 775.5,1050.0 776.6,1050.6 777.8,1051.3 778.9,1051.9 780.0,1052.4 781.1,1052.9 782.2,1053.3 783.3,1053.7 784.4,1053.9 785.5,1054.0 786.6,1054.0 787.7,1053.9 788.8,1053.8 789.9,1053.5 791.0,1053.1 792.1,1052.6 793.2,1052.1 794.3,1051.5 795.4,1050.9 796.5,1050.2 797.7,1049.6 798.8,1048.9 799.9,1048.3 801.0,1047.7 802.1,1047.1 803.2,1046.6 804.3,1046.2 805.4,1045.9 806.5,1045.7 807.6,1045.6 807.6,1087.6 806.5,1087.5 805.4,1087.3 804.3,1087.0 803.2,1086.6 802.1,1086.1 801.0,1085.5 799.9,1084.9 798.8,1084.3 797.7,1083.6 796.5,1083.0 795.4,1082.3 794.3,1081.7 793.2,1081.1 792.1,1080.6 791.0,1080.1 789.9,1079.7 788.8,1079.4 787.7,1079.3 786.6,1079.2 785.5,1079.2 784.4,1079.3 783.3,1079.5 782.2,1079.9 781.1,1080.3 780.0,1080.8 778.9,1081.3 777.8,1081.9 776.6,1082.6 775.5,1083.2 774.4,1083.9 773.3,1084.5 772.2,1085.2 771.1,1085.7 770.0,1086.3 768.9,1086.7 767.8,1087.1 766.7,1087.4 765.6,1087.5 764.5,1087.6 763.4,1087.6 762.3,1087.4 761.2,1087.2 760.1,1086.8 759.0,1086.4 757.9,1085.9 756.7,1085.4 755.6,1084.8 754.5,1084.1 753.4,1083.4 752.3,1082.8 751.2,1082.1 750.1,1081.5 749.0,1080.9 747.9,1080.4 746.8,1080.0 745.7,1079.6 744.6,1079.4 743.5,1079.2 742.4,1079.2 741.3,1079.2 740.2,1079.4 739.1,1079.6 738.0,1080.0 736.8,1080.4 735.7,1080.9 734.6,1081.5 733.5,1082.1 732.4,1082.8 731.3,1083.4 730.2,1084.1 729.1,1084.7 728.0,1085.3 726.9,1085.9 725.8,1086.4 724.7,1086.8 723.6,1087.2 722.5,1087.4 721.4,1087.6 720.3,1087.6 719.2,1087.5 718.0,1087.4 716.9,1087.1 715.8,1086.7 714.7,1086.3 713.6,1085.8 712.5,1085.2 711.4,1084.6 710.3,1083.9 709.2,1083.3 708.1,1082.6 707.0,1081.9 705.9,1081.3 704.8,1080.8 703.7,1080.3 702.6,1079.9 701.5,1079.6 700.4,1079.3 699.3,1079.2 698.2,1079.2 697.0,1079.3 695.9,1079.4 694.8,1079.7 693.7,1080.1 692.6,1080.6 691.5,1081.1 690.4,1081.7 689.3,1082.3 688.2,1082.9 687.1,1083.6 686.0,1084.3 684.9,1084.9 683.8,1085.5 682.7,1086.1 681.6,1086.5 680.5,1086.9 679.4,1087.3 678.2,1087.5 677.1,1087.6 676.0,1087.6 674.9,1087.5 673.8,1087.3 672.7,1087.0 671.6,1086.6 670.5,1086.1 669.4,1085.6 668.3,1085.0 667.2,1084.4 666.1,1083.7 665.0,1083.1 663.9,1082.4 662.8,1081.8 661.7,1081.2 660.6,1080.6 659.5,1080.2 658.4,1079.8 657.2,1079.5 656.1,1079.3 655.0,1079.2 653.9,1079.2 652.8,1079.3 651.7,1079.5 650.6,1079.8 649.5,1080.2 648.4,1080.7 647.3,1081.2 646.2,1081.8 645.1,1082.5 644.0,1083.1 642.9,1083.8 641.8,1084.5 640.7,1085.1 639.6,1085.7 638.5,1086.2 637.3,1086.7 636.2,1087.0 635.1,1087.3 634.0,1087.5 632.9,1087.6 631.8,1087.6 630.7,1087.4 629.6,1087.2 628.5,1086.9 627.4,1086.5 626.3,1086.0 625.2,1085.4 624.1,1084.8 623.0,1084.2 621.9,1083.5 620.8,1082.9 619.7,1082.2 618.6,1081.6 617.4,1081.0 616.3,1080.5 615.2,1080.0 614.1,1079.7 613.0,1079.4 611.9,1079.2 610.8,1079.2 609.7,1079.2 608.6,1079.3 607.5,1079.6 606.4,1079.9 605.3,1080.4 604.2,1080.9 603.1,1081.4 602.0,1082.0 600.9,1082.7 599.8,1083.3 598.7,1084.0 597.5,1084.6 596.4,1085.3 595.3,1085.8 594.2,1086.3 593.1,1086.8 592.0,1087.1 590.9,1087.4 589.8,1087.5 588.7,1087.6 588.7,1087.6 479.0,1087.6 Z" fill="#d9d9d9"/>
<text x="91.9" y="1082.8" font-size="31" fill="#231f20" text-anchor="end" font-weight="normal" font-style="normal" >-12 dB</text>
<path d="M110.09,1207.70 L110.09,1207.70 L114.51,1207.70 L114.51,1166.06 L118.93,1166.06 L118.93,1193.82 L123.35,1193.82 L123.35,1200.76 L127.77,1200.76 L127.77,1200.76 L132.19,1200.76 L132.19,1179.94 L136.61,1179.94 L136.61,1186.88 L141.03,1186.88 L141.03,1200.76 L145.46,1200.76 L145.46,1179.94 L149.88,1179.94 L149.88,1173.00 L154.30,1173.00 L154.30,1166.06 L158.72,1166.06 L158.72,1166.06 L163.14,1166.06 L163.14,1179.94 L167.56,1179.94 L167.56,1166.06 L171.98,1166.06 L171.98,1173.00 L176.40,1173.00 L176.40,1186.88 L180.82,1186.88 L180.82,1179.94 L185.24,1179.94 L185.24,1166.06 L189.66,1166.06 L189.66,1173.00 L194.08,1173.00 L194.08,1193.82 L198.50,1193.82 L198.50,1173.00 L202.92,1173.00 L202.92,1186.88 L207.35,1186.88 L207.35,1193.82 L211.77,1193.82 L211.77,1173.00 L216.19,1173.00 L216.19,1193.82 L220.61,1193.82 L220.61,1166.06 L225.03,1166.06 L225.03,1159.12 L229.45,1159.12 L229.45,1138.30 L233.87,1138.30 L233.87,1166.06 L238.29,1166.06 L238.29,1179.94 L242.71,1179.94 L242.71,1200.76 L247.13,1200.76 L247.13,1166.06 L251.55,1166.06 L251.55,1193.82 L255.97,1193.82 L255.97,1207.70 L260.39,1207.70 L260.39,1173.00 L264.81,1173.00 L264.81,1173.00 L269.23,1173.00 L269.23,1096.66 L273.66,1096.66 L273.66,1082.78 L278.08,1082.78 L278.08,1110.54 L282.50,1110.54 L282.50,1159.12 L286.92,1159.12 L286.92,1193.82 L291.34,1193.82 L291.34,1186.88 L295.76,1186.88 L295.76,1179.94 L300.18,1179.94 L300.18,1193.82 L304.60,1193.82 L304.60,1193.82 L309.02,1193.82 L309.02,1159.12 L313.44,1159.12 L313.44,1152.18 L317.86,1152.18 L317.86,1124.42 L322.28,1124.42 L322.28,1138.30 L326.70,1138.30 L326.70,1166.06 L331.12,1166.06 L331.12,1186.88 L335.54,1186.88 L335.54,1193.82 L339.97,1193.82 L339.97,1200.76 L344.39,1200.76 L344.39,1186.88 L348.81,1186.88 L348.81,1179.94 L353.23,1179.94 L353.23,1138.30 L357.65,1138.30 L357.65,1096.66 L362.07,1096.66 L362.07,1124.42 L366.49,1124.42 L366.49,1173.00 L370.91,1173.00 L370.91,1152.18 L375.33,1152.18 L375.33,1173.00 L379.75,1173.00 L379.75,1186.88 L384.17,1186.88 L384.17,1152.18 L388.59,1152.18 L388.59,1173.00 L393.01,1173.00 L393.01,1173.00 L397.43,1173.00 L397.43,1166.06 L401.86,1166.06 L401.86,1166.06 L406.28,1166.06 L406.28,1138.30 L410.70,1138.30 L410.70,1152.18 L415.12,1152.18 L415.12,1173.00 L419.54,1173.00 L419.54,1166.06 L423.96,1166.06 L423.96,1166.06 L428.38,1166.06 L428.38,1173.00 L432.80,1173.00 L432.80,1200.76 L437.22,1200.76 L437.22,1193.82 L441.64,1193.82 L441.64,1207.70 Z" fill="#14b3b0" stroke="#0b8784" stroke-width="1.6" stroke-linejoin="miter"/>
<line x1="220.7" y1="1208.2" x2="220.7" y2="1211.7" stroke="#231f20" stroke-width="1.2"/>
<path d="M116.7 1235.1h0M118.4 1259.2h0M115.4 1244.8h0M118.0 1230.3h0M115.7 1254.4h0M118.4 1225.4h0M119.6 1259.2h0M121.0 1230.3h0M126.7 1288.2h0M129.2 1220.6h0M134.7 1220.6h0M134.7 1239.9h0M134.2 1293.0h0M134.0 1302.7h0M138.7 1239.9h0M140.5 1220.6h0M138.1 1283.4h0M143.4 1259.2h0M147.2 1278.6h0M147.7 1249.6h0M148.7 1230.3h0M149.2 1220.6h0M151.3 1244.8h0M153.3 1225.4h0M152.4 1293.0h0M152.6 1259.2h0M152.6 1230.3h0M157.8 1264.1h0M155.3 1244.8h0M154.8 1230.3h0M156.8 1220.6h0M155.6 1225.4h0M156.9 1288.2h0M161.5 1220.6h0M162.3 1283.4h0M160.8 1259.2h0M159.8 1235.1h0M162.3 1225.4h0M159.2 1239.9h0M166.6 1259.2h0M165.5 1239.9h0M165.4 1244.8h0M165.7 1254.4h0M169.6 1254.4h0M168.6 1244.8h0M170.8 1297.9h0M168.3 1235.1h0M168.8 1264.1h0M169.0 1259.2h0M175.7 1235.1h0M173.5 1254.4h0M173.4 1259.2h0M175.1 1239.9h0M173.2 1225.4h0M178.9 1239.9h0M179.4 1225.4h0M179.0 1220.6h0M181.9 1220.6h0M183.1 1249.6h0M182.5 1302.7h0M181.8 1254.4h0M187.3 1254.4h0M186.3 1220.6h0M186.9 1244.8h0M187.2 1297.9h0M188.8 1259.2h0M186.1 1273.7h0M191.1 1254.4h0M192.3 1230.3h0M191.8 1249.6h0M192.9 1244.8h0M192.9 1273.7h0M196.1 1225.4h0M195.4 1293.0h0M199.0 1288.2h0M199.6 1225.4h0M200.7 1220.6h0M201.9 1283.4h0M199.0 1244.8h0M205.0 1220.6h0M204.6 1225.4h0M205.9 1268.9h0M208.4 1225.4h0M209.6 1239.9h0M213.8 1239.9h0M214.0 1278.6h0M212.8 1302.7h0M212.5 1235.1h0M214.5 1297.9h0M219.8 1278.6h0M219.4 1302.7h0M221.1 1235.1h0M223.9 1273.7h0M224.1 1230.3h0M221.3 1283.4h0M221.8 1249.6h0M223.3 1259.2h0M226.5 1273.7h0M228.4 1220.6h0M227.1 1288.2h0M227.5 1283.4h0M228.6 1235.1h0M225.5 1244.8h0M226.6 1278.6h0M231.5 1278.6h0M231.5 1244.8h0M230.0 1225.4h0M231.7 1259.2h0M232.8 1239.9h0M231.5 1283.4h0M230.0 1288.2h0M231.9 1254.4h0M230.5 1230.3h0M231.7 1268.9h0M236.8 1225.4h0M237.4 1268.9h0M235.4 1264.1h0M235.4 1249.6h0M235.9 1235.1h0M235.8 1239.9h0M239.0 1264.1h0M241.1 1283.4h0M241.5 1220.6h0M241.0 1302.7h0M244.3 1235.1h0M249.7 1297.9h0M249.3 1249.6h0M248.9 1278.6h0M247.8 1302.7h0M249.6 1259.2h0M250.9 1264.1h0M252.9 1259.2h0M252.4 1225.4h0M262.2 1264.1h0M262.0 1249.6h0M263.2 1273.7h0M264.3 1288.2h0M263.5 1225.4h0M266.5 1264.1h0M267.8 1249.6h0M266.8 1244.8h0M268.7 1225.4h0M268.4 1288.2h0M273.1 1288.2h0M270.9 1249.6h0M270.5 1225.4h0M271.6 1254.4h0M272.0 1259.2h0M273.0 1293.0h0M270.0 1268.9h0M270.8 1230.3h0M272.2 1273.7h0M271.4 1235.1h0M272.1 1278.6h0M272.1 1244.8h0M270.0 1302.7h0M269.9 1239.9h0M270.3 1220.6h0M270.8 1264.1h0M274.3 1254.4h0M276.9 1235.1h0M277.2 1268.9h0M276.1 1244.8h0M276.9 1273.7h0M276.3 1239.9h0M274.4 1230.3h0M277.3 1225.4h0M275.7 1259.2h0M276.5 1293.0h0M277.0 1249.6h0M275.8 1278.6h0M274.9 1264.1h0M277.1 1297.9h0M276.6 1283.4h0M276.7 1302.7h0M276.3 1220.6h0M277.5 1288.2h0M279.6 1244.8h0M278.8 1235.1h0M281.1 1239.9h0M281.2 1273.7h0M280.6 1302.7h0M278.9 1230.3h0M281.2 1264.1h0M279.1 1254.4h0M281.3 1259.2h0M280.7 1297.9h0M280.8 1278.6h0M278.8 1249.6h0M279.8 1288.2h0M281.1 1283.4h0M284.2 1230.3h0M283.0 1297.9h0M285.1 1259.2h0M285.1 1254.4h0M286.3 1235.1h0M284.9 1288.2h0M285.5 1283.4h0M289.7 1230.3h0M290.7 1249.6h0M292.0 1230.3h0M291.9 1220.6h0M293.9 1254.4h0M297.1 1230.3h0M297.9 1254.4h0M299.7 1264.1h0M299.7 1268.9h0M304.1 1268.9h0M303.4 1293.0h0M308.3 1268.9h0M307.4 1288.2h0M310.5 1244.8h0M311.4 1302.7h0M310.2 1230.3h0M312.5 1249.6h0M312.7 1239.9h0M310.5 1268.9h0M309.7 1259.2h0M315.3 1259.2h0M316.4 1244.8h0M316.1 1230.3h0M315.3 1254.4h0M314.3 1293.0h0M314.1 1268.9h0M315.6 1264.1h0M315.4 1239.9h0M319.4 1235.1h0M320.8 1259.2h0M318.5 1244.8h0M321.3 1273.7h0M319.9 1264.1h0M318.9 1297.9h0M319.3 1254.4h0M320.5 1225.4h0M318.6 1268.9h0M321.5 1249.6h0M319.1 1230.3h0M319.8 1283.4h0M326.1 1293.0h0M323.2 1235.1h0M326.1 1254.4h0M324.9 1283.4h0M322.7 1225.4h0M324.1 1230.3h0M324.0 1259.2h0M323.8 1268.9h0M323.0 1220.6h0M323.6 1297.9h0M329.0 1278.6h0M330.5 1268.9h0M328.2 1297.9h0M327.8 1254.4h0M328.9 1259.2h0M328.2 1244.8h0M333.7 1259.2h0M333.7 1254.4h0M333.7 1244.8h0M336.7 1302.7h0M336.8 1220.6h0M341.2 1302.7h0M345.3 1264.1h0M344.9 1220.6h0M346.5 1225.4h0M351.9 1220.6h0M350.3 1244.8h0M352.6 1239.9h0M350.3 1264.1h0M355.4 1264.1h0M357.0 1244.8h0M353.9 1239.9h0M354.0 1259.2h0M355.9 1288.2h0M357.0 1220.6h0M354.2 1293.0h0M354.3 1278.6h0M355.3 1273.7h0M356.5 1235.1h0M358.3 1259.2h0M360.8 1239.9h0M360.6 1273.7h0M358.5 1297.9h0M360.3 1225.4h0M358.5 1249.6h0M360.0 1220.6h0M358.4 1268.9h0M359.1 1235.1h0M359.7 1283.4h0M360.0 1254.4h0M360.4 1230.3h0M361.4 1302.7h0M359.3 1244.8h0M359.3 1264.1h0M358.8 1288.2h0M363.0 1273.7h0M365.6 1254.4h0M363.3 1288.2h0M363.6 1239.9h0M363.1 1235.1h0M365.5 1244.8h0M362.9 1259.2h0M364.1 1230.3h0M363.3 1249.6h0M363.4 1264.1h0M366.0 1220.6h0M365.0 1268.9h0M369.9 1220.6h0M367.6 1259.2h0M368.2 1230.3h0M368.1 1273.7h0M367.1 1249.6h0M373.8 1259.2h0M373.2 1225.4h0M374.2 1254.4h0M372.3 1288.2h0M374.9 1239.9h0M372.6 1283.4h0M373.4 1249.6h0M372.0 1293.0h0M377.3 1239.9h0M377.1 1254.4h0M378.4 1297.9h0M376.9 1278.6h0M376.1 1225.4h0M383.6 1297.9h0M382.8 1254.4h0M380.4 1244.8h0M386.4 1244.8h0M386.4 1297.9h0M386.1 1264.1h0M387.8 1249.6h0M384.8 1225.4h0M385.4 1220.6h0M387.4 1278.6h0M385.7 1268.9h0M392.2 1302.7h0M391.5 1278.6h0M390.7 1297.9h0M390.1 1293.0h0M391.2 1225.4h0M393.8 1302.7h0M394.8 1264.1h0M396.7 1288.2h0M395.1 1220.6h0M396.3 1235.1h0M399.8 1220.6h0M399.2 1302.7h0M398.8 1293.0h0M400.8 1268.9h0M401.1 1278.6h0M400.9 1230.3h0M402.4 1278.6h0M402.3 1264.1h0M403.1 1293.0h0M404.6 1268.9h0M405.0 1220.6h0M404.2 1249.6h0M409.4 1297.9h0M407.5 1259.2h0M409.2 1293.0h0M409.8 1254.4h0M406.7 1220.6h0M410.0 1244.8h0M408.2 1283.4h0M409.7 1268.9h0M406.8 1239.9h0M407.8 1302.7h0M413.5 1297.9h0M413.3 1244.8h0M411.7 1239.9h0M414.3 1220.6h0M411.9 1288.2h0M414.1 1273.7h0M414.5 1230.3h0M411.6 1235.1h0M418.4 1293.0h0M415.6 1278.6h0M415.6 1297.9h0M416.9 1230.3h0M416.9 1235.1h0M423.1 1235.1h0M422.1 1220.6h0M421.7 1249.6h0M421.6 1259.2h0M423.2 1225.4h0M420.5 1239.9h0M426.1 1254.4h0M427.9 1225.4h0M426.3 1244.8h0M425.0 1220.6h0M425.0 1259.2h0M426.8 1264.1h0M430.9 1259.2h0M429.8 1225.4h0M431.9 1264.1h0M430.8 1235.1h0M432.3 1249.6h0M434.0 1293.0h0M440.9 1293.0h0M440.7 1254.4h0" stroke="#17b5b0" stroke-width="6.5" stroke-linecap="round" fill="none"/>
<path d="M481.94,1207.70 L481.94,1207.70 L486.36,1207.70 L486.36,1193.30 L490.78,1193.30 L490.78,1164.50 L495.21,1164.50 L495.21,1193.30 L499.63,1193.30 L499.63,1207.70 L504.05,1207.70 L504.05,1186.10 L508.47,1186.10 L508.47,1178.90 L512.89,1178.90 L512.89,1200.50 L517.31,1200.50 L517.31,1186.10 L521.73,1186.10 L521.73,1186.10 L526.15,1186.10 L526.15,1200.50 L530.57,1200.50 L530.57,1207.70 L534.99,1207.70 L534.99,1207.70 L539.41,1207.70 L539.41,1200.50 L543.83,1200.50 L543.83,1200.50 L548.25,1200.50 L548.25,1193.30 L552.67,1193.30 L552.67,1186.10 L557.10,1186.10 L557.10,1186.10 L561.52,1186.10 L561.52,1186.10 L565.94,1186.10 L565.94,1207.70 L570.36,1207.70 L570.36,1193.30 L574.78,1193.30 L574.78,1193.30 L579.20,1193.30 L579.20,1186.10 L583.62,1186.10 L583.62,1193.30 L588.04,1193.30 L588.04,1207.70 L592.46,1207.70 L592.46,1186.10 L596.88,1186.10 L596.88,1186.10 L601.30,1186.10 L601.30,1186.10 L605.72,1186.10 L605.72,1207.70 L610.14,1207.70 L610.14,1200.50 L614.56,1200.50 L614.56,1207.70 L618.98,1207.70 L618.98,1200.50 L623.41,1200.50 L623.41,1207.70 L627.83,1207.70 L627.83,1186.10 L632.25,1186.10 L632.25,1200.50 L636.67,1200.50 L636.67,1207.70 L641.09,1207.70 L641.09,1200.50 L645.51,1200.50 L645.51,1193.30 L649.93,1193.30 L649.93,1193.30 L654.35,1193.30 L654.35,1200.50 L658.77,1200.50 L658.77,1200.50 L663.19,1200.50 L663.19,1193.30 L667.61,1193.30 L667.61,1200.50 L672.03,1200.50 L672.03,1200.50 L676.45,1200.50 L676.45,1200.50 L680.87,1200.50 L680.87,1200.50 L685.29,1200.50 L685.29,1193.30 L689.72,1193.30 L689.72,1186.10 L694.14,1186.10 L694.14,1178.90 L698.56,1178.90 L698.56,1186.10 L702.98,1186.10 L702.98,1186.10 L707.40,1186.10 L707.40,1200.50 L711.82,1200.50 L711.82,1193.30 L716.24,1193.30 L716.24,1186.10 L720.66,1186.10 L720.66,1200.50 L725.08,1200.50 L725.08,1186.10 L729.50,1186.10 L729.50,1207.70 L733.92,1207.70 L733.92,1207.70 L738.34,1207.70 L738.34,1164.50 L742.76,1164.50 L742.76,1207.70 L747.18,1207.70 L747.18,1178.90 L751.61,1178.90 L751.61,1178.90 L756.03,1178.90 L756.03,1178.90 L760.45,1178.90 L760.45,1171.70 L764.87,1171.70 L764.87,1200.50 L769.29,1200.50 L769.29,1200.50 L773.71,1200.50 L773.71,1200.50 L778.13,1200.50 L778.13,1186.10 L782.55,1186.10 L782.55,1193.30 L786.97,1193.30 L786.97,1171.70 L791.39,1171.70 L791.39,1186.10 L795.81,1186.10 L795.81,1193.30 L800.23,1193.30 L800.23,1186.10 L804.65,1186.10 L804.65,1200.50 L809.07,1200.50 L809.07,1193.30 L813.49,1193.30 L813.49,1207.70 Z" fill="#f27370" stroke="#a0484a" stroke-width="1.6"/>
<line x1="590.7" y1="1208.2" x2="590.7" y2="1211.7" stroke="#231f20" stroke-width="1.2"/>
<path d="M488.6 1285.8h0M487.8 1266.5h0M494.2 1271.3h0M491.9 1285.8h0M494.4 1256.8h0M493.6 1261.6h0M492.5 1247.2h0M493.9 1295.5h0M496.2 1266.5h0M497.3 1252.0h0M505.9 1271.3h0M506.0 1266.5h0M506.8 1285.8h0M511.7 1281.0h0M509.8 1252.0h0M512.3 1242.3h0M509.5 1227.8h0M513.5 1247.2h0M519.5 1271.3h0M518.5 1261.6h0M519.0 1300.3h0M524.1 1227.8h0M523.3 1276.1h0M525.5 1223.0h0M527.5 1232.7h0M541.7 1247.2h0M547.4 1252.0h0M550.7 1247.2h0M551.3 1266.5h0M555.5 1271.3h0M555.2 1295.5h0M556.5 1232.7h0M560.9 1300.3h0M559.3 1271.3h0M560.6 1247.2h0M563.5 1242.3h0M562.0 1295.5h0M565.1 1252.0h0M574.1 1242.3h0M574.0 1295.5h0M576.9 1237.5h0M577.8 1290.6h0M581.6 1242.3h0M581.3 1285.8h0M581.3 1295.5h0M584.4 1300.3h0M584.9 1285.8h0M593.7 1247.2h0M594.9 1290.6h0M594.8 1232.7h0M598.3 1242.3h0M600.0 1290.6h0M600.8 1271.3h0M604.3 1237.5h0M602.6 1242.3h0M604.5 1247.2h0M611.8 1290.6h0M621.2 1290.6h0M630.6 1227.8h0M628.8 1285.8h0M631.7 1271.3h0M634.6 1261.6h0M644.9 1252.0h0M646.9 1247.2h0M647.5 1256.8h0M651.5 1242.3h0M651.3 1261.6h0M658.0 1247.2h0M661.6 1242.3h0M664.6 1247.2h0M665.5 1261.6h0M670.1 1256.8h0M675.7 1290.6h0M678.7 1295.5h0M683.9 1300.3h0M686.3 1295.5h0M688.6 1276.1h0M690.8 1281.0h0M693.2 1223.0h0M692.1 1261.6h0M697.3 1281.0h0M696.6 1295.5h0M695.0 1237.5h0M695.4 1266.5h0M699.4 1271.3h0M702.2 1242.3h0M700.2 1256.8h0M706.4 1237.5h0M705.6 1276.1h0M706.1 1252.0h0M708.8 1252.0h0M715.7 1252.0h0M712.5 1285.8h0M717.9 1256.8h0M716.7 1237.5h0M717.1 1271.3h0M721.8 1276.1h0M727.0 1242.3h0M726.3 1295.5h0M728.4 1261.6h0M738.9 1227.8h0M741.2 1290.6h0M741.8 1276.1h0M740.2 1271.3h0M741.4 1252.0h0M741.2 1281.0h0M749.3 1227.8h0M750.6 1261.6h0M747.7 1281.0h0M750.7 1237.5h0M752.6 1261.6h0M755.0 1276.1h0M752.1 1295.5h0M753.9 1232.7h0M757.8 1281.0h0M757.3 1256.8h0M759.3 1227.8h0M759.5 1247.2h0M761.9 1232.7h0M762.0 1285.8h0M763.6 1271.3h0M763.6 1252.0h0M764.2 1223.0h0M766.8 1281.0h0M770.3 1276.1h0M776.0 1281.0h0M780.6 1285.8h0M779.9 1271.3h0M781.5 1227.8h0M786.1 1266.5h0M786.0 1232.7h0M787.9 1237.5h0M790.8 1271.3h0M789.4 1252.0h0M788.2 1256.8h0M789.0 1223.0h0M791.9 1247.2h0M792.4 1285.8h0M792.4 1295.5h0M798.8 1290.6h0M799.4 1252.0h0M801.2 1247.2h0M803.7 1295.5h0M801.9 1242.3h0M807.7 1237.5h0M810.4 1252.0h0M812.2 1261.6h0" stroke="#ef6566" stroke-width="6.5" stroke-linecap="round" fill="none"/>
<path d="M111.0,1339.5 220.4,1339.5 220.4,1339.5 221.5,1339.5 222.6,1339.7 223.7,1339.8 224.8,1340.1 225.9,1340.4 227.0,1340.8 228.1,1341.3 229.2,1341.7 230.3,1342.2 231.4,1342.7 232.6,1343.2 233.7,1343.7 234.8,1344.1 235.9,1344.6 237.0,1344.9 238.1,1345.3 239.2,1345.5 240.3,1345.7 241.4,1345.8 242.5,1345.8 243.6,1345.8 244.7,1345.7 245.8,1345.5 246.9,1345.2 248.0,1344.9 249.1,1344.5 250.2,1344.0 251.3,1343.6 252.4,1343.1 253.5,1342.6 254.6,1342.1 255.7,1341.6 256.9,1341.1 258.0,1340.7 259.1,1340.4 260.2,1340.0 261.3,1339.8 262.4,1339.6 263.5,1339.5 264.6,1339.5 265.7,1339.6 266.8,1339.7 267.9,1339.9 269.0,1340.2 270.1,1340.5 271.2,1340.9 272.3,1341.4 273.4,1341.8 274.5,1342.3 275.6,1342.8 276.7,1343.3 277.8,1343.8 278.9,1344.3 280.0,1344.7 281.2,1345.0 282.3,1345.3 283.4,1345.6 284.5,1345.7 285.6,1345.8 286.7,1345.8 287.8,1345.8 288.9,1345.6 290.0,1345.4 291.1,1345.1 292.2,1344.8 293.3,1344.4 294.4,1343.9 295.5,1343.4 296.6,1342.9 297.7,1342.4 298.8,1342.0 299.9,1341.5 301.0,1341.0 302.1,1340.6 303.2,1340.3 304.3,1340.0 305.5,1339.7 306.6,1339.6 307.7,1339.5 308.8,1339.5 309.9,1339.6 311.0,1339.7 312.1,1340.0 313.2,1340.3 314.3,1340.6 315.4,1341.0 316.5,1341.5 317.6,1342.0 318.7,1342.5 319.8,1343.0 320.9,1343.5 322.0,1343.9 323.1,1344.4 324.2,1344.8 325.3,1345.1 326.4,1345.4 327.5,1345.6 328.6,1345.8 329.8,1345.8 330.9,1345.8 332.0,1345.7 333.1,1345.6 334.2,1345.3 335.3,1345.0 336.4,1344.7 337.5,1344.2 338.6,1343.8 339.7,1343.3 340.8,1342.8 341.9,1342.3 343.0,1341.8 344.1,1341.4 345.2,1340.9 346.3,1340.5 347.4,1340.2 348.5,1339.9 349.6,1339.7 350.7,1339.6 351.8,1339.5 352.9,1339.5 354.1,1339.6 355.2,1339.8 356.3,1340.0 357.4,1340.4 358.5,1340.7 359.6,1341.1 360.7,1341.6 361.8,1342.1 362.9,1342.6 364.0,1343.1 365.1,1343.6 366.2,1344.0 367.3,1344.5 368.4,1344.9 369.5,1345.2 370.6,1345.5 371.7,1345.7 372.8,1345.8 373.9,1345.8 375.0,1345.8 376.1,1345.7 377.2,1345.5 378.4,1345.3 379.5,1344.9 380.6,1344.6 381.7,1344.1 382.8,1343.7 383.9,1343.2 385.0,1342.7 386.1,1342.2 387.2,1341.7 388.3,1341.2 389.4,1340.8 390.5,1340.4 391.6,1340.1 392.7,1339.8 393.8,1339.7 394.9,1339.5 396.0,1339.5 397.1,1339.5 398.2,1339.7 399.3,1339.9 400.4,1340.1 401.5,1340.4 402.6,1340.8 403.8,1341.3 404.9,1341.7 406.0,1342.2 407.1,1342.7 408.2,1343.2 409.3,1343.7 410.4,1344.2 411.5,1344.6 412.6,1345.0 413.7,1345.3 414.8,1345.5 415.9,1345.7 417.0,1345.8 418.1,1345.8 419.2,1345.8 420.3,1345.7 421.4,1345.5 422.5,1345.2 423.6,1344.8 424.7,1344.5 425.8,1344.0 427.0,1343.6 428.1,1343.1 429.2,1342.6 430.3,1342.1 431.4,1341.6 432.5,1341.1 433.6,1340.7 434.7,1340.3 435.8,1340.0 436.9,1339.8 438.0,1339.6 439.1,1339.5 439.1,1381.5 438.0,1381.4 436.9,1381.2 435.8,1381.0 434.7,1380.7 433.6,1380.3 432.5,1379.9 431.4,1379.4 430.3,1378.9 429.2,1378.4 428.1,1377.9 427.0,1377.4 425.8,1377.0 424.7,1376.5 423.6,1376.2 422.5,1375.8 421.4,1375.5 420.3,1375.3 419.2,1375.2 418.1,1375.2 417.0,1375.2 415.9,1375.3 414.8,1375.5 413.7,1375.7 412.6,1376.0 411.5,1376.4 410.4,1376.8 409.3,1377.3 408.2,1377.8 407.1,1378.3 406.0,1378.8 404.9,1379.3 403.8,1379.7 402.6,1380.2 401.5,1380.6 400.4,1380.9 399.3,1381.1 398.2,1381.3 397.1,1381.5 396.0,1381.5 394.9,1381.5 393.8,1381.3 392.7,1381.2 391.6,1380.9 390.5,1380.6 389.4,1380.2 388.3,1379.8 387.2,1379.3 386.1,1378.8 385.0,1378.3 383.9,1377.8 382.8,1377.3 381.7,1376.9 380.6,1376.4 379.5,1376.1 378.4,1375.7 377.2,1375.5 376.1,1375.3 375.0,1375.2 373.9,1375.2 372.8,1375.2 371.7,1375.3 370.6,1375.5 369.5,1375.8 368.4,1376.1 367.3,1376.5 366.2,1377.0 365.1,1377.4 364.0,1377.9 362.9,1378.4 361.8,1378.9 360.7,1379.4 359.6,1379.9 358.5,1380.3 357.4,1380.6 356.3,1381.0 355.2,1381.2 354.1,1381.4 352.9,1381.5 351.8,1381.5 350.7,1381.4 349.6,1381.3 348.5,1381.1 347.4,1380.8 346.3,1380.5 345.2,1380.1 344.1,1379.6 343.0,1379.2 341.9,1378.7 340.8,1378.2 339.7,1377.7 338.6,1377.2 337.5,1376.8 336.4,1376.3 335.3,1376.0 334.2,1375.7 333.1,1375.4 332.0,1375.3 330.9,1375.2 329.8,1375.2 328.6,1375.2 327.5,1375.4 326.4,1375.6 325.3,1375.9 324.2,1376.2 323.1,1376.6 322.0,1377.1 320.9,1377.5 319.8,1378.0 318.7,1378.5 317.6,1379.0 316.5,1379.5 315.4,1380.0 314.3,1380.4 313.2,1380.7 312.1,1381.0 311.0,1381.3 309.9,1381.4 308.8,1381.5 307.7,1381.5 306.6,1381.4 305.5,1381.3 304.3,1381.0 303.2,1380.7 302.1,1380.4 301.0,1380.0 299.9,1379.5 298.8,1379.0 297.7,1378.6 296.6,1378.1 295.5,1377.6 294.4,1377.1 293.3,1376.6 292.2,1376.2 291.1,1375.9 290.0,1375.6 288.9,1375.4 287.8,1375.2 286.7,1375.2 285.6,1375.2 284.5,1375.3 283.4,1375.4 282.3,1375.7 281.2,1376.0 280.0,1376.3 278.9,1376.7 277.8,1377.2 276.7,1377.7 275.6,1378.2 274.5,1378.7 273.4,1379.2 272.3,1379.6 271.2,1380.1 270.1,1380.5 269.0,1380.8 267.9,1381.1 266.8,1381.3 265.7,1381.4 264.6,1381.5 263.5,1381.5 262.4,1381.4 261.3,1381.2 260.2,1381.0 259.1,1380.6 258.0,1380.3 256.9,1379.9 255.7,1379.4 254.6,1378.9 253.5,1378.4 252.4,1377.9 251.3,1377.4 250.2,1377.0 249.1,1376.5 248.0,1376.1 246.9,1375.8 245.8,1375.5 244.7,1375.3 243.6,1375.2 242.5,1375.2 241.4,1375.2 240.3,1375.3 239.2,1375.5 238.1,1375.7 237.0,1376.1 235.9,1376.4 234.8,1376.9 233.7,1377.3 232.6,1377.8 231.4,1378.3 230.3,1378.8 229.2,1379.3 228.1,1379.7 227.0,1380.2 225.9,1380.6 224.8,1380.9 223.7,1381.2 222.6,1381.3 221.5,1381.5 220.4,1381.5 220.4,1381.5 111.0,1381.5 Z" fill="#d9d9d9"/>
<path d="M479.0,1339.5 588.7,1339.5 588.7,1339.5 589.8,1339.5 590.9,1339.7 592.0,1339.9 593.1,1340.1 594.2,1340.4 595.3,1340.8 596.4,1341.3 597.5,1341.7 598.7,1342.2 599.8,1342.7 600.9,1343.2 602.0,1343.7 603.1,1344.2 604.2,1344.6 605.3,1345.0 606.4,1345.3 607.5,1345.5 608.6,1345.7 609.7,1345.8 610.8,1345.8 611.9,1345.8 613.0,1345.7 614.1,1345.5 615.2,1345.2 616.3,1344.8 617.4,1344.5 618.6,1344.0 619.7,1343.6 620.8,1343.1 621.9,1342.6 623.0,1342.1 624.1,1341.6 625.2,1341.1 626.3,1340.7 627.4,1340.3 628.5,1340.0 629.6,1339.8 630.7,1339.6 631.8,1339.5 632.9,1339.5 634.0,1339.6 635.1,1339.7 636.2,1339.9 637.3,1340.2 638.5,1340.5 639.6,1340.9 640.7,1341.4 641.8,1341.9 642.9,1342.4 644.0,1342.9 645.1,1343.3 646.2,1343.8 647.3,1344.3 648.4,1344.7 649.5,1345.1 650.6,1345.4 651.7,1345.6 652.8,1345.7 653.9,1345.8 655.0,1345.8 656.1,1345.8 657.2,1345.6 658.4,1345.4 659.5,1345.1 660.6,1344.7 661.7,1344.3 662.8,1343.9 663.9,1343.4 665.0,1342.9 666.1,1342.4 667.2,1341.9 668.3,1341.4 669.4,1341.0 670.5,1340.6 671.6,1340.2 672.7,1340.0 673.8,1339.7 674.9,1339.6 676.0,1339.5 677.1,1339.5 678.2,1339.6 679.4,1339.8 680.5,1340.0 681.6,1340.3 682.7,1340.7 683.8,1341.1 684.9,1341.5 686.0,1342.0 687.1,1342.5 688.2,1343.0 689.3,1343.5 690.4,1344.0 691.5,1344.4 692.6,1344.8 693.7,1345.1 694.8,1345.4 695.9,1345.6 697.0,1345.8 698.2,1345.8 699.3,1345.8 700.4,1345.7 701.5,1345.6 702.6,1345.3 703.7,1345.0 704.8,1344.6 705.9,1344.2 707.0,1343.8 708.1,1343.3 709.2,1342.8 710.3,1342.3 711.4,1341.8 712.5,1341.3 713.6,1340.9 714.7,1340.5 715.8,1340.2 716.9,1339.9 718.0,1339.7 719.2,1339.6 720.3,1339.5 721.4,1339.5 722.5,1339.6 723.6,1339.8 724.7,1340.1 725.8,1340.4 726.9,1340.8 728.0,1341.2 729.1,1341.7 730.2,1342.1 731.3,1342.6 732.4,1343.1 733.5,1343.6 734.6,1344.1 735.7,1344.5 736.8,1344.9 738.0,1345.2 739.1,1345.5 740.2,1345.7 741.3,1345.8 742.4,1345.8 743.5,1345.8 744.6,1345.7 745.7,1345.5 746.8,1345.2 747.9,1344.9 749.0,1344.5 750.1,1344.1 751.2,1343.6 752.3,1343.1 753.4,1342.6 754.5,1342.1 755.6,1341.6 756.7,1341.2 757.9,1340.8 759.0,1340.4 760.1,1340.1 761.2,1339.8 762.3,1339.6 763.4,1339.5 764.5,1339.5 765.6,1339.6 766.7,1339.7 767.8,1339.9 768.9,1340.2 770.0,1340.5 771.1,1340.9 772.2,1341.3 773.3,1341.8 774.4,1342.3 775.5,1342.8 776.6,1343.3 777.8,1343.8 778.9,1344.2 780.0,1344.6 781.1,1345.0 782.2,1345.3 783.3,1345.6 784.4,1345.7 785.5,1345.8 786.6,1345.8 787.7,1345.8 788.8,1345.6 789.9,1345.4 791.0,1345.1 792.1,1344.8 793.2,1344.4 794.3,1343.9 795.4,1343.5 796.5,1343.0 797.7,1342.5 798.8,1342.0 799.9,1341.5 801.0,1341.1 802.1,1340.6 803.2,1340.3 804.3,1340.0 805.4,1339.8 806.5,1339.6 807.6,1339.5 807.6,1381.5 806.5,1381.4 805.4,1381.2 804.3,1381.0 803.2,1380.7 802.1,1380.4 801.0,1379.9 799.9,1379.5 798.8,1379.0 797.7,1378.5 796.5,1378.0 795.4,1377.5 794.3,1377.1 793.2,1376.6 792.1,1376.2 791.0,1375.9 789.9,1375.6 788.8,1375.4 787.7,1375.2 786.6,1375.2 785.5,1375.2 784.4,1375.3 783.3,1375.4 782.2,1375.7 781.1,1376.0 780.0,1376.4 778.9,1376.8 777.8,1377.2 776.6,1377.7 775.5,1378.2 774.4,1378.7 773.3,1379.2 772.2,1379.7 771.1,1380.1 770.0,1380.5 768.9,1380.8 767.8,1381.1 766.7,1381.3 765.6,1381.4 764.5,1381.5 763.4,1381.5 762.3,1381.4 761.2,1381.2 760.1,1380.9 759.0,1380.6 757.9,1380.2 756.7,1379.8 755.6,1379.4 754.5,1378.9 753.4,1378.4 752.3,1377.9 751.2,1377.4 750.1,1376.9 749.0,1376.5 747.9,1376.1 746.8,1375.8 745.7,1375.5 744.6,1375.3 743.5,1375.2 742.4,1375.2 741.3,1375.2 740.2,1375.3 739.1,1375.5 738.0,1375.8 736.8,1376.1 735.7,1376.5 734.6,1376.9 733.5,1377.4 732.4,1377.9 731.3,1378.4 730.2,1378.9 729.1,1379.3 728.0,1379.8 726.9,1380.2 725.8,1380.6 724.7,1380.9 723.6,1381.2 722.5,1381.4 721.4,1381.5 720.3,1381.5 719.2,1381.4 718.0,1381.3 716.9,1381.1 715.8,1380.8 714.7,1380.5 713.6,1380.1 712.5,1379.7 711.4,1379.2 710.3,1378.7 709.2,1378.2 708.1,1377.7 707.0,1377.2 705.9,1376.8 704.8,1376.4 703.7,1376.0 702.6,1375.7 701.5,1375.4 700.4,1375.3 699.3,1375.2 698.2,1375.2 697.0,1375.2 695.9,1375.4 694.8,1375.6 693.7,1375.9 692.6,1376.2 691.5,1376.6 690.4,1377.0 689.3,1377.5 688.2,1378.0 687.1,1378.5 686.0,1379.0 684.9,1379.5 683.8,1379.9 682.7,1380.3 681.6,1380.7 680.5,1381.0 679.4,1381.2 678.2,1381.4 677.1,1381.5 676.0,1381.5 674.9,1381.4 673.8,1381.3 672.7,1381.0 671.6,1380.8 670.5,1380.4 669.4,1380.0 668.3,1379.6 667.2,1379.1 666.1,1378.6 665.0,1378.1 663.9,1377.6 662.8,1377.1 661.7,1376.7 660.6,1376.3 659.5,1375.9 658.4,1375.6 657.2,1375.4 656.1,1375.2 655.0,1375.2 653.9,1375.2 652.8,1375.3 651.7,1375.4 650.6,1375.6 649.5,1375.9 648.4,1376.3 647.3,1376.7 646.2,1377.2 645.1,1377.7 644.0,1378.1 642.9,1378.6 641.8,1379.1 640.7,1379.6 639.6,1380.1 638.5,1380.5 637.3,1380.8 636.2,1381.1 635.1,1381.3 634.0,1381.4 632.9,1381.5 631.8,1381.5 630.7,1381.4 629.6,1381.2 628.5,1381.0 627.4,1380.7 626.3,1380.3 625.2,1379.9 624.1,1379.4 623.0,1378.9 621.9,1378.4 620.8,1377.9 619.7,1377.4 618.6,1377.0 617.4,1376.5 616.3,1376.2 615.2,1375.8 614.1,1375.5 613.0,1375.3 611.9,1375.2 610.8,1375.2 609.7,1375.2 608.6,1375.3 607.5,1375.5 606.4,1375.7 605.3,1376.0 604.2,1376.4 603.1,1376.8 602.0,1377.3 600.9,1377.8 599.8,1378.3 598.7,1378.8 597.5,1379.3 596.4,1379.7 595.3,1380.2 594.2,1380.6 593.1,1380.9 592.0,1381.1 590.9,1381.3 589.8,1381.5 588.7,1381.5 588.7,1381.5 479.0,1381.5 Z" fill="#d9d9d9"/>
<text x="91.9" y="1375.3" font-size="31" fill="#231f20" text-anchor="end" font-weight="normal" font-style="normal" >-15 dB</text>
<path d="M110.09,1497.40 L110.09,1490.46 L114.51,1490.46 L114.51,1497.40 L118.93,1497.40 L118.93,1490.46 L123.35,1490.46 L123.35,1469.64 L127.77,1469.64 L127.77,1483.52 L132.19,1483.52 L132.19,1483.52 L136.61,1483.52 L136.61,1462.70 L141.03,1462.70 L141.03,1469.64 L145.46,1469.64 L145.46,1476.58 L149.88,1476.58 L149.88,1490.46 L154.30,1490.46 L154.30,1483.52 L158.72,1483.52 L158.72,1497.40 L163.14,1497.40 L163.14,1476.58 L167.56,1476.58 L167.56,1469.64 L171.98,1469.64 L171.98,1462.70 L176.40,1462.70 L176.40,1483.52 L180.82,1483.52 L180.82,1483.52 L185.24,1483.52 L185.24,1490.46 L189.66,1490.46 L189.66,1469.64 L194.08,1469.64 L194.08,1490.46 L198.50,1490.46 L198.50,1462.70 L202.92,1462.70 L202.92,1490.46 L207.35,1490.46 L207.35,1483.52 L211.77,1483.52 L211.77,1476.58 L216.19,1476.58 L216.19,1462.70 L220.61,1462.70 L220.61,1469.64 L225.03,1469.64 L225.03,1455.76 L229.45,1455.76 L229.45,1441.88 L233.87,1441.88 L233.87,1455.76 L238.29,1455.76 L238.29,1441.88 L242.71,1441.88 L242.71,1469.64 L247.13,1469.64 L247.13,1490.46 L251.55,1490.46 L251.55,1483.52 L255.97,1483.52 L255.97,1469.64 L260.39,1469.64 L260.39,1469.64 L264.81,1469.64 L264.81,1476.58 L269.23,1476.58 L269.23,1483.52 L273.66,1483.52 L273.66,1441.88 L278.08,1441.88 L278.08,1386.36 L282.50,1386.36 L282.50,1441.88 L286.92,1441.88 L286.92,1490.46 L291.34,1490.46 L291.34,1490.46 L295.76,1490.46 L295.76,1490.46 L300.18,1490.46 L300.18,1490.46 L304.60,1490.46 L304.60,1476.58 L309.02,1476.58 L309.02,1469.64 L313.44,1469.64 L313.44,1434.94 L317.86,1434.94 L317.86,1462.70 L322.28,1462.70 L322.28,1434.94 L326.70,1434.94 L326.70,1476.58 L331.12,1476.58 L331.12,1462.70 L335.54,1462.70 L335.54,1469.64 L339.97,1469.64 L339.97,1434.94 L344.39,1434.94 L344.39,1462.70 L348.81,1462.70 L348.81,1462.70 L353.23,1462.70 L353.23,1476.58 L357.65,1476.58 L357.65,1428.00 L362.07,1428.00 L362.07,1434.94 L366.49,1434.94 L366.49,1462.70 L370.91,1462.70 L370.91,1469.64 L375.33,1469.64 L375.33,1483.52 L379.75,1483.52 L379.75,1483.52 L384.17,1483.52 L384.17,1469.64 L388.59,1469.64 L388.59,1483.52 L393.01,1483.52 L393.01,1476.58 L397.43,1476.58 L397.43,1469.64 L401.86,1469.64 L401.86,1469.64 L406.28,1469.64 L406.28,1434.94 L410.70,1434.94 L410.70,1476.58 L415.12,1476.58 L415.12,1462.70 L419.54,1462.70 L419.54,1476.58 L423.96,1476.58 L423.96,1483.52 L428.38,1483.52 L428.38,1490.46 L432.80,1490.46 L432.80,1497.40 L437.22,1497.40 L437.22,1490.46 L441.64,1490.46 L441.64,1497.40 Z" fill="#14b3b0" stroke="#0b8784" stroke-width="1.6" stroke-linejoin="miter"/>
<line x1="220.7" y1="1497.9" x2="220.7" y2="1501.4" stroke="#231f20" stroke-width="1.2"/>
<path d="M111.2 1578.6h0M120.8 1554.5h0M125.0 1549.6h0M124.1 1588.3h0M125.7 1520.7h0M126.9 1515.8h0M130.6 1515.8h0M130.8 1554.5h0M133.2 1554.5h0M134.1 1520.7h0M138.7 1559.3h0M139.6 1540.0h0M137.1 1554.5h0M137.2 1549.6h0M138.1 1530.3h0M144.5 1549.6h0M143.4 1540.0h0M141.5 1515.8h0M142.7 1511.0h0M148.6 1511.0h0M146.0 1549.6h0M148.3 1520.7h0M151.7 1520.7h0M155.4 1559.3h0M155.0 1564.1h0M166.4 1554.5h0M164.3 1525.5h0M165.0 1588.3h0M170.8 1583.5h0M170.2 1549.6h0M169.6 1535.2h0M171.5 1515.8h0M172.9 1540.0h0M173.5 1569.0h0M175.4 1559.3h0M172.4 1511.0h0M174.7 1535.2h0M178.7 1511.0h0M177.5 1564.1h0M184.3 1515.8h0M184.7 1578.6h0M189.2 1515.8h0M190.5 1525.5h0M191.6 1588.3h0M190.2 1564.1h0M190.8 1544.8h0M195.7 1564.1h0M200.1 1540.0h0M200.1 1549.6h0M202.5 1511.0h0M200.5 1559.3h0M200.0 1515.8h0M204.5 1540.0h0M210.6 1525.5h0M208.8 1511.0h0M214.9 1520.7h0M212.3 1511.0h0M213.2 1578.6h0M216.7 1540.0h0M219.8 1564.1h0M219.5 1525.5h0M218.9 1544.8h0M217.6 1559.3h0M223.2 1540.0h0M224.6 1520.7h0M222.6 1511.0h0M221.8 1515.8h0M228.2 1540.0h0M226.2 1564.1h0M228.3 1515.8h0M228.2 1544.8h0M227.7 1549.6h0M225.7 1530.3h0M230.6 1549.6h0M232.7 1544.8h0M230.1 1564.1h0M230.5 1559.3h0M232.4 1520.7h0M230.2 1535.2h0M232.9 1554.5h0M233.0 1593.1h0M234.9 1520.7h0M237.4 1559.3h0M237.2 1535.2h0M235.6 1573.8h0M234.7 1511.0h0M235.1 1569.0h0M239.3 1520.7h0M241.3 1578.6h0M239.0 1549.6h0M239.2 1540.0h0M239.1 1511.0h0M240.3 1569.0h0M241.2 1583.5h0M240.1 1544.8h0M243.3 1578.6h0M245.4 1549.6h0M246.6 1520.7h0M245.3 1511.0h0M250.0 1515.8h0M252.9 1511.0h0M253.2 1544.8h0M259.5 1540.0h0M259.6 1544.8h0M258.0 1549.6h0M257.5 1588.3h0M261.4 1549.6h0M263.5 1588.3h0M261.1 1540.0h0M261.2 1530.3h0M266.1 1540.0h0M265.7 1530.3h0M268.1 1549.6h0M272.8 1544.8h0M271.5 1540.0h0M274.2 1544.8h0M277.6 1520.7h0M275.9 1554.5h0M276.9 1583.5h0M277.1 1530.3h0M275.2 1588.3h0M274.2 1573.8h0M277.2 1511.0h0M281.4 1511.0h0M280.2 1588.3h0M280.5 1544.8h0M280.8 1583.5h0M281.1 1530.3h0M281.8 1525.5h0M281.9 1569.0h0M278.9 1578.6h0M281.1 1520.7h0M278.6 1540.0h0M278.9 1549.6h0M279.4 1515.8h0M279.0 1535.2h0M279.1 1564.1h0M279.3 1554.5h0M281.4 1559.3h0M286.3 1515.8h0M284.9 1535.2h0M283.1 1593.1h0M286.3 1525.5h0M284.5 1588.3h0M286.5 1544.8h0M286.0 1511.0h0M283.0 1554.5h0M289.7 1525.5h0M293.2 1578.6h0M299.5 1573.8h0M303.0 1573.8h0M307.9 1549.6h0M308.2 1564.1h0M307.6 1578.6h0M312.3 1540.0h0M312.0 1549.6h0M310.3 1564.1h0M309.5 1578.6h0M314.3 1554.5h0M314.9 1578.6h0M314.8 1540.0h0M315.6 1530.3h0M316.9 1544.8h0M317.0 1564.1h0M313.9 1588.3h0M315.3 1520.7h0M315.2 1593.1h0M318.5 1573.8h0M320.1 1564.1h0M321.4 1520.7h0M319.7 1569.0h0M319.2 1530.3h0M326.2 1569.0h0M323.6 1573.8h0M324.3 1544.8h0M323.6 1525.5h0M323.5 1520.7h0M325.2 1530.3h0M323.0 1578.6h0M323.7 1511.0h0M323.0 1554.5h0M327.3 1578.6h0M328.9 1530.3h0M328.8 1511.0h0M333.0 1515.8h0M333.1 1530.3h0M331.6 1511.0h0M334.0 1573.8h0M334.0 1525.5h0M336.2 1511.0h0M338.8 1515.8h0M336.6 1535.2h0M339.3 1520.7h0M343.8 1520.7h0M342.4 1569.0h0M343.8 1573.8h0M343.9 1583.5h0M343.7 1511.0h0M341.5 1540.0h0M341.9 1544.8h0M342.6 1530.3h0M343.7 1515.8h0M348.2 1530.3h0M347.3 1544.8h0M347.8 1520.7h0M346.3 1515.8h0M348.2 1573.8h0M349.6 1569.0h0M351.0 1554.5h0M351.0 1593.1h0M352.0 1583.5h0M352.5 1564.1h0M356.9 1540.0h0M357.1 1593.1h0M353.8 1544.8h0M361.0 1593.1h0M360.8 1530.3h0M359.5 1549.6h0M360.0 1535.2h0M359.2 1515.8h0M358.3 1525.5h0M361.4 1588.3h0M358.4 1564.1h0M359.4 1554.5h0M361.1 1573.8h0M362.9 1593.1h0M363.9 1535.2h0M362.8 1559.3h0M365.8 1520.7h0M363.4 1530.3h0M363.8 1511.0h0M362.7 1544.8h0M365.4 1540.0h0M363.2 1515.8h0M369.6 1593.1h0M369.5 1559.3h0M368.6 1525.5h0M369.1 1520.7h0M367.8 1540.0h0M371.6 1525.5h0M374.7 1540.0h0M373.0 1573.8h0M372.5 1520.7h0M377.7 1515.8h0M379.3 1540.0h0M383.3 1540.0h0M383.5 1525.5h0M385.4 1540.0h0M385.4 1564.1h0M385.6 1530.3h0M387.8 1554.5h0M390.8 1564.1h0M391.7 1559.3h0M394.8 1583.5h0M393.5 1578.6h0M396.0 1520.7h0M400.1 1564.1h0M398.1 1593.1h0M398.4 1549.6h0M399.5 1554.5h0M403.7 1593.1h0M405.8 1554.5h0M405.5 1583.5h0M405.1 1564.1h0M406.9 1583.5h0M409.5 1593.1h0M409.5 1530.3h0M409.5 1525.5h0M408.8 1564.1h0M407.1 1520.7h0M409.1 1569.0h0M408.8 1588.3h0M408.4 1573.8h0M412.8 1588.3h0M411.7 1583.5h0M412.9 1569.0h0M416.0 1588.3h0M416.1 1554.5h0M415.7 1515.8h0M417.5 1564.1h0M416.5 1593.1h0M422.8 1554.5h0M422.4 1588.3h0M421.9 1593.1h0M427.3 1535.2h0M426.6 1569.0h0M432.1 1535.2h0M439.2 1544.8h0" stroke="#17b5b0" stroke-width="6.5" stroke-linecap="round" fill="none"/>
<path d="M483.56,1497.90 L483.56,1497.90 L487.98,1497.90 L487.98,1490.55 L492.40,1490.55 L492.40,1483.20 L496.83,1483.20 L496.83,1475.85 L501.25,1475.85 L501.25,1490.55 L505.67,1490.55 L505.67,1475.85 L510.09,1475.85 L510.09,1483.20 L514.51,1483.20 L514.51,1475.85 L518.93,1475.85 L518.93,1483.20 L523.35,1483.20 L523.35,1483.20 L527.77,1483.20 L527.77,1483.20 L532.19,1483.20 L532.19,1475.85 L536.61,1475.85 L536.61,1468.50 L541.03,1468.50 L541.03,1475.85 L545.45,1475.85 L545.45,1461.15 L549.87,1461.15 L549.87,1490.55 L554.29,1490.55 L554.29,1461.15 L558.72,1461.15 L558.72,1446.45 L563.14,1446.45 L563.14,1483.20 L567.56,1483.20 L567.56,1490.55 L571.98,1490.55 L571.98,1490.55 L576.40,1490.55 L576.40,1490.55 L580.82,1490.55 L580.82,1461.15 L585.24,1461.15 L585.24,1475.85 L589.66,1475.85 L589.66,1490.55 L594.08,1490.55 L594.08,1490.55 L598.50,1490.55 L598.50,1497.90 L602.92,1497.90 L602.92,1490.55 L607.34,1490.55 L607.34,1483.20 L611.76,1483.20 L611.76,1483.20 L616.18,1483.20 L616.18,1475.85 L620.60,1475.85 L620.60,1475.85 L625.03,1475.85 L625.03,1483.20 L629.45,1483.20 L629.45,1475.85 L633.87,1475.85 L633.87,1483.20 L638.29,1483.20 L638.29,1475.85 L642.71,1475.85 L642.71,1475.85 L647.13,1475.85 L647.13,1490.55 L651.55,1490.55 L651.55,1483.20 L655.97,1483.20 L655.97,1468.50 L660.39,1468.50 L660.39,1468.50 L664.81,1468.50 L664.81,1490.55 L669.23,1490.55 L669.23,1490.55 L673.65,1490.55 L673.65,1490.55 L678.07,1490.55 L678.07,1468.50 L682.49,1468.50 L682.49,1497.90 L686.92,1497.90 L686.92,1475.85 L691.34,1475.85 L691.34,1483.20 L695.76,1483.20 L695.76,1490.55 L700.18,1490.55 L700.18,1475.85 L704.60,1475.85 L704.60,1483.20 L709.02,1483.20 L709.02,1483.20 L713.44,1483.20 L713.44,1483.20 L717.86,1483.20 L717.86,1483.20 L722.28,1483.20 L722.28,1483.20 L726.70,1483.20 L726.70,1490.55 L731.12,1490.55 L731.12,1490.55 L735.54,1490.55 L735.54,1490.55 L739.96,1490.55 L739.96,1475.85 L744.38,1475.85 L744.38,1483.20 L748.80,1483.20 L748.80,1461.15 L753.23,1461.15 L753.23,1475.85 L757.65,1475.85 L757.65,1483.20 L762.07,1483.20 L762.07,1483.20 L766.49,1483.20 L766.49,1483.20 L770.91,1483.20 L770.91,1475.85 L775.33,1475.85 L775.33,1483.20 L779.75,1483.20 L779.75,1453.80 L784.17,1453.80 L784.17,1490.55 L788.59,1490.55 L788.59,1468.50 L793.01,1468.50 L793.01,1483.20 L797.43,1483.20 L797.43,1468.50 L801.85,1468.50 L801.85,1490.55 L806.27,1490.55 L806.27,1483.20 L810.69,1483.20 L810.69,1490.55 L815.11,1490.55 L815.11,1497.90 Z" fill="#f27370" stroke="#a0484a" stroke-width="1.6"/>
<line x1="590.7" y1="1498.4" x2="590.7" y2="1501.9" stroke="#231f20" stroke-width="1.2"/>
<path d="M488.7 1557.4h0M495.9 1562.2h0M493.9 1533.2h0M497.6 1567.0h0M497.5 1591.2h0M498.6 1523.6h0M502.6 1562.2h0M506.9 1533.2h0M509.0 1552.5h0M509.3 1591.2h0M512.3 1538.1h0M511.8 1552.5h0M517.7 1533.2h0M515.4 1576.7h0M515.9 1571.9h0M520.6 1571.9h0M521.1 1538.1h0M526.4 1533.2h0M527.1 1576.7h0M530.3 1557.4h0M529.1 1591.2h0M535.0 1586.4h0M534.4 1523.6h0M535.8 1528.4h0M539.4 1581.5h0M540.0 1518.7h0M538.5 1567.0h0M538.0 1523.6h0M542.3 1528.4h0M543.5 1586.4h0M541.5 1571.9h0M547.8 1571.9h0M546.6 1538.1h0M549.4 1581.5h0M548.9 1586.4h0M546.4 1562.2h0M550.4 1576.7h0M555.4 1528.4h0M555.2 1523.6h0M554.8 1576.7h0M555.2 1591.2h0M555.9 1586.4h0M561.2 1581.5h0M562.5 1523.6h0M560.2 1591.2h0M562.7 1542.9h0M560.9 1576.7h0M561.5 1586.4h0M559.5 1528.4h0M564.3 1523.6h0M564.7 1586.4h0M568.7 1591.2h0M575.9 1567.0h0M578.0 1562.2h0M583.2 1547.7h0M581.3 1523.6h0M581.8 1538.1h0M584.8 1542.9h0M583.3 1518.7h0M588.6 1523.6h0M586.1 1542.9h0M585.8 1591.2h0M591.3 1538.1h0M595.8 1513.9h0M605.5 1552.5h0M611.0 1542.9h0M608.5 1523.6h0M614.0 1547.7h0M615.7 1523.6h0M619.3 1552.5h0M617.4 1571.9h0M618.9 1567.0h0M622.2 1567.0h0M623.0 1528.4h0M623.8 1557.4h0M627.2 1552.5h0M628.1 1591.2h0M631.1 1557.4h0M632.5 1567.0h0M630.6 1523.6h0M634.9 1562.2h0M635.7 1523.6h0M640.3 1547.7h0M640.6 1518.7h0M640.4 1576.7h0M645.6 1518.7h0M645.9 1533.2h0M646.4 1586.4h0M648.8 1542.9h0M654.9 1581.5h0M654.4 1518.7h0M657.3 1576.7h0M657.9 1591.2h0M657.2 1538.1h0M657.4 1552.5h0M662.4 1571.9h0M661.1 1538.1h0M663.2 1533.2h0M662.3 1586.4h0M666.9 1528.4h0M670.0 1557.4h0M674.3 1552.5h0M680.9 1533.2h0M682.0 1562.2h0M681.9 1547.7h0M680.4 1513.9h0M689.5 1523.6h0M690.6 1513.9h0M687.5 1562.2h0M693.7 1528.4h0M692.5 1552.5h0M698.9 1547.7h0M702.0 1547.7h0M703.4 1591.2h0M702.8 1542.9h0M707.5 1542.9h0M705.6 1538.1h0M711.6 1538.1h0M712.8 1571.9h0M717.4 1542.9h0M716.3 1567.0h0M720.6 1586.4h0M721.6 1518.7h0M724.5 1533.2h0M723.4 1523.6h0M730.5 1528.4h0M733.8 1533.2h0M739.1 1528.4h0M743.1 1552.5h0M742.6 1557.4h0M740.5 1562.2h0M745.4 1547.7h0M745.2 1557.4h0M749.4 1562.2h0M752.2 1571.9h0M749.8 1586.4h0M751.3 1513.9h0M750.0 1557.4h0M755.0 1581.5h0M754.0 1557.4h0M755.9 1513.9h0M758.6 1586.4h0M758.3 1518.7h0M766.0 1591.2h0M765.4 1586.4h0M770.2 1571.9h0M767.3 1586.4h0M773.2 1576.7h0M772.3 1586.4h0M773.2 1552.5h0M778.6 1581.5h0M777.5 1533.2h0M782.1 1533.2h0M781.2 1542.9h0M782.5 1518.7h0M782.7 1567.0h0M780.4 1513.9h0M783.4 1571.9h0M787.0 1571.9h0M790.5 1576.7h0M791.8 1542.9h0M791.0 1562.2h0M791.8 1586.4h0M794.9 1581.5h0M795.6 1571.9h0M799.6 1576.7h0M798.6 1557.4h0M799.6 1586.4h0M799.2 1518.7h0M803.7 1523.6h0M809.7 1538.1h0M808.4 1547.7h0M813.8 1576.7h0" stroke="#ef6566" stroke-width="6.5" stroke-linecap="round" fill="none"/>
<path d="M111.0,1628.5 220.4,1628.5 220.4,1628.5 221.5,1628.5 222.6,1628.6 223.7,1628.8 224.8,1629.0 225.9,1629.2 227.0,1629.5 228.1,1629.8 229.2,1630.1 230.3,1630.5 231.4,1630.9 232.6,1631.2 233.7,1631.6 234.8,1631.9 235.9,1632.2 237.0,1632.5 238.1,1632.7 239.2,1632.9 240.3,1633.1 241.4,1633.1 242.5,1633.2 243.6,1633.1 244.7,1633.0 245.8,1632.9 246.9,1632.7 248.0,1632.4 249.1,1632.2 250.2,1631.8 251.3,1631.5 252.4,1631.1 253.5,1630.8 254.6,1630.4 255.7,1630.0 256.9,1629.7 258.0,1629.4 259.1,1629.1 260.2,1628.9 261.3,1628.7 262.4,1628.6 263.5,1628.5 264.6,1628.5 265.7,1628.5 266.8,1628.6 267.9,1628.8 269.0,1629.0 270.1,1629.3 271.2,1629.5 272.3,1629.9 273.4,1630.2 274.5,1630.6 275.6,1630.9 276.7,1631.3 277.8,1631.7 278.9,1632.0 280.0,1632.3 281.2,1632.6 282.3,1632.8 283.4,1633.0 284.5,1633.1 285.6,1633.2 286.7,1633.2 287.8,1633.1 288.9,1633.0 290.0,1632.8 291.1,1632.6 292.2,1632.4 293.3,1632.1 294.4,1631.7 295.5,1631.4 296.6,1631.0 297.7,1630.7 298.8,1630.3 299.9,1630.0 301.0,1629.6 302.1,1629.3 303.2,1629.1 304.3,1628.8 305.5,1628.7 306.6,1628.6 307.7,1628.5 308.8,1628.5 309.9,1628.6 311.0,1628.7 312.1,1628.8 313.2,1629.1 314.3,1629.3 315.4,1629.6 316.5,1630.0 317.6,1630.3 318.7,1630.7 319.8,1631.0 320.9,1631.4 322.0,1631.8 323.1,1632.1 324.2,1632.4 325.3,1632.6 326.4,1632.8 327.5,1633.0 328.6,1633.1 329.8,1633.2 330.9,1633.2 332.0,1633.1 333.1,1633.0 334.2,1632.8 335.3,1632.6 336.4,1632.3 337.5,1632.0 338.6,1631.7 339.7,1631.3 340.8,1630.9 341.9,1630.6 343.0,1630.2 344.1,1629.9 345.2,1629.5 346.3,1629.3 347.4,1629.0 348.5,1628.8 349.6,1628.6 350.7,1628.5 351.8,1628.5 352.9,1628.5 354.1,1628.6 355.2,1628.7 356.3,1628.9 357.4,1629.1 358.5,1629.4 359.6,1629.7 360.7,1630.0 361.8,1630.4 362.9,1630.8 364.0,1631.1 365.1,1631.5 366.2,1631.8 367.3,1632.2 368.4,1632.4 369.5,1632.7 370.6,1632.9 371.7,1633.0 372.8,1633.1 373.9,1633.2 375.0,1633.1 376.1,1633.1 377.2,1632.9 378.4,1632.7 379.5,1632.5 380.6,1632.2 381.7,1631.9 382.8,1631.6 383.9,1631.2 385.0,1630.8 386.1,1630.5 387.2,1630.1 388.3,1629.8 389.4,1629.5 390.5,1629.2 391.6,1628.9 392.7,1628.8 393.8,1628.6 394.9,1628.5 396.0,1628.5 397.1,1628.5 398.2,1628.6 399.3,1628.8 400.4,1629.0 401.5,1629.2 402.6,1629.5 403.8,1629.8 404.9,1630.1 406.0,1630.5 407.1,1630.9 408.2,1631.2 409.3,1631.6 410.4,1631.9 411.5,1632.2 412.6,1632.5 413.7,1632.7 414.8,1632.9 415.9,1633.1 417.0,1633.1 418.1,1633.2 419.2,1633.1 420.3,1633.0 421.4,1632.9 422.5,1632.7 423.6,1632.4 424.7,1632.1 425.8,1631.8 427.0,1631.5 428.1,1631.1 429.2,1630.8 430.3,1630.4 431.4,1630.0 432.5,1629.7 433.6,1629.4 434.7,1629.1 435.8,1628.9 436.9,1628.7 438.0,1628.6 439.1,1628.5 439.1,1670.2 438.0,1670.1 436.9,1670.0 435.8,1669.8 434.7,1669.6 433.6,1669.3 432.5,1669.0 431.4,1668.7 430.3,1668.3 429.2,1667.9 428.1,1667.6 427.0,1667.2 425.8,1666.9 424.7,1666.6 423.6,1666.3 422.5,1666.0 421.4,1665.8 420.3,1665.7 419.2,1665.6 418.1,1665.5 417.0,1665.6 415.9,1665.6 414.8,1665.8 413.7,1666.0 412.6,1666.2 411.5,1666.5 410.4,1666.8 409.3,1667.1 408.2,1667.5 407.1,1667.8 406.0,1668.2 404.9,1668.6 403.8,1668.9 402.6,1669.2 401.5,1669.5 400.4,1669.7 399.3,1669.9 398.2,1670.1 397.1,1670.2 396.0,1670.2 394.9,1670.2 393.8,1670.1 392.7,1669.9 391.6,1669.8 390.5,1669.5 389.4,1669.2 388.3,1668.9 387.2,1668.6 386.1,1668.2 385.0,1667.9 383.9,1667.5 382.8,1667.1 381.7,1666.8 380.6,1666.5 379.5,1666.2 378.4,1666.0 377.2,1665.8 376.1,1665.6 375.0,1665.6 373.9,1665.5 372.8,1665.6 371.7,1665.7 370.6,1665.8 369.5,1666.0 368.4,1666.3 367.3,1666.5 366.2,1666.9 365.1,1667.2 364.0,1667.6 362.9,1667.9 361.8,1668.3 360.7,1668.7 359.6,1669.0 358.5,1669.3 357.4,1669.6 356.3,1669.8 355.2,1670.0 354.1,1670.1 352.9,1670.2 351.8,1670.2 350.7,1670.2 349.6,1670.1 348.5,1669.9 347.4,1669.7 346.3,1669.4 345.2,1669.2 344.1,1668.8 343.0,1668.5 341.9,1668.1 340.8,1667.8 339.7,1667.4 338.6,1667.0 337.5,1666.7 336.4,1666.4 335.3,1666.1 334.2,1665.9 333.1,1665.7 332.0,1665.6 330.9,1665.5 329.8,1665.5 328.6,1665.6 327.5,1665.7 326.4,1665.9 325.3,1666.1 324.2,1666.3 323.1,1666.6 322.0,1666.9 320.9,1667.3 319.8,1667.7 318.7,1668.0 317.6,1668.4 316.5,1668.7 315.4,1669.1 314.3,1669.4 313.2,1669.6 312.1,1669.9 311.0,1670.0 309.9,1670.1 308.8,1670.2 307.7,1670.2 306.6,1670.1 305.5,1670.0 304.3,1669.9 303.2,1669.6 302.1,1669.4 301.0,1669.1 299.9,1668.7 298.8,1668.4 297.7,1668.0 296.6,1667.7 295.5,1667.3 294.4,1667.0 293.3,1666.6 292.2,1666.3 291.1,1666.1 290.0,1665.9 288.9,1665.7 287.8,1665.6 286.7,1665.5 285.6,1665.5 284.5,1665.6 283.4,1665.7 282.3,1665.9 281.2,1666.1 280.0,1666.4 278.9,1666.7 277.8,1667.0 276.7,1667.4 275.6,1667.8 274.5,1668.1 273.4,1668.5 272.3,1668.8 271.2,1669.2 270.1,1669.4 269.0,1669.7 267.9,1669.9 266.8,1670.1 265.7,1670.2 264.6,1670.2 263.5,1670.2 262.4,1670.1 261.3,1670.0 260.2,1669.8 259.1,1669.6 258.0,1669.3 256.9,1669.0 255.7,1668.7 254.6,1668.3 253.5,1667.9 252.4,1667.6 251.3,1667.2 250.2,1666.9 249.1,1666.5 248.0,1666.3 246.9,1666.0 245.8,1665.8 244.7,1665.7 243.6,1665.6 242.5,1665.5 241.4,1665.6 240.3,1665.6 239.2,1665.8 238.1,1666.0 237.0,1666.2 235.9,1666.5 234.8,1666.8 233.7,1667.1 232.6,1667.5 231.4,1667.8 230.3,1668.2 229.2,1668.6 228.1,1668.9 227.0,1669.2 225.9,1669.5 224.8,1669.7 223.7,1669.9 222.6,1670.1 221.5,1670.2 220.4,1670.2 220.4,1670.2 111.0,1670.2 Z" fill="#d9d9d9"/>
<path d="M479.0,1628.5 588.7,1628.5 588.7,1628.5 589.8,1628.5 590.9,1628.6 592.0,1628.8 593.1,1629.0 594.2,1629.2 595.3,1629.5 596.4,1629.8 597.5,1630.1 598.7,1630.5 599.8,1630.9 600.9,1631.2 602.0,1631.6 603.1,1631.9 604.2,1632.2 605.3,1632.5 606.4,1632.7 607.5,1632.9 608.6,1633.1 609.7,1633.1 610.8,1633.2 611.9,1633.1 613.0,1633.0 614.1,1632.9 615.2,1632.7 616.3,1632.4 617.4,1632.1 618.6,1631.8 619.7,1631.5 620.8,1631.1 621.9,1630.8 623.0,1630.4 624.1,1630.0 625.2,1629.7 626.3,1629.4 627.4,1629.1 628.5,1628.9 629.6,1628.7 630.7,1628.6 631.8,1628.5 632.9,1628.5 634.0,1628.5 635.1,1628.7 636.2,1628.8 637.3,1629.0 638.5,1629.3 639.6,1629.6 640.7,1629.9 641.8,1630.2 642.9,1630.6 644.0,1631.0 645.1,1631.3 646.2,1631.7 647.3,1632.0 648.4,1632.3 649.5,1632.6 650.6,1632.8 651.7,1633.0 652.8,1633.1 653.9,1633.2 655.0,1633.2 656.1,1633.1 657.2,1633.0 658.4,1632.8 659.5,1632.6 660.6,1632.4 661.7,1632.1 662.8,1631.7 663.9,1631.4 665.0,1631.0 666.1,1630.6 667.2,1630.3 668.3,1629.9 669.4,1629.6 670.5,1629.3 671.6,1629.0 672.7,1628.8 673.8,1628.7 674.9,1628.6 676.0,1628.5 677.1,1628.5 678.2,1628.6 679.4,1628.7 680.5,1628.9 681.6,1629.1 682.7,1629.4 683.8,1629.7 684.9,1630.0 686.0,1630.3 687.1,1630.7 688.2,1631.1 689.3,1631.4 690.4,1631.8 691.5,1632.1 692.6,1632.4 693.7,1632.7 694.8,1632.9 695.9,1633.0 697.0,1633.1 698.2,1633.2 699.3,1633.1 700.4,1633.1 701.5,1632.9 702.6,1632.8 703.7,1632.5 704.8,1632.3 705.9,1632.0 707.0,1631.6 708.1,1631.3 709.2,1630.9 710.3,1630.5 711.4,1630.2 712.5,1629.8 713.6,1629.5 714.7,1629.2 715.8,1629.0 716.9,1628.8 718.0,1628.6 719.2,1628.5 720.3,1628.5 721.4,1628.5 722.5,1628.6 723.6,1628.7 724.7,1628.9 725.8,1629.2 726.9,1629.4 728.0,1629.7 729.1,1630.1 730.2,1630.4 731.3,1630.8 732.4,1631.2 733.5,1631.5 734.6,1631.9 735.7,1632.2 736.8,1632.5 738.0,1632.7 739.1,1632.9 740.2,1633.0 741.3,1633.1 742.4,1633.2 743.5,1633.1 744.6,1633.0 745.7,1632.9 746.8,1632.7 747.9,1632.5 749.0,1632.2 750.1,1631.9 751.2,1631.5 752.3,1631.2 753.4,1630.8 754.5,1630.4 755.6,1630.1 756.7,1629.7 757.9,1629.4 759.0,1629.1 760.1,1628.9 761.2,1628.7 762.3,1628.6 763.4,1628.5 764.5,1628.5 765.6,1628.5 766.7,1628.6 767.8,1628.8 768.9,1629.0 770.0,1629.2 771.1,1629.5 772.2,1629.8 773.3,1630.2 774.4,1630.6 775.5,1630.9 776.6,1631.3 777.8,1631.6 778.9,1632.0 780.0,1632.3 781.1,1632.6 782.2,1632.8 783.3,1633.0 784.4,1633.1 785.5,1633.1 786.6,1633.2 787.7,1633.1 788.8,1633.0 789.9,1632.8 791.0,1632.6 792.1,1632.4 793.2,1632.1 794.3,1631.8 795.4,1631.4 796.5,1631.1 797.7,1630.7 798.8,1630.3 799.9,1630.0 801.0,1629.6 802.1,1629.3 803.2,1629.1 804.3,1628.9 805.4,1628.7 806.5,1628.6 807.6,1628.5 807.6,1670.2 806.5,1670.1 805.4,1670.0 804.3,1669.8 803.2,1669.6 802.1,1669.4 801.0,1669.1 799.9,1668.7 798.8,1668.4 797.7,1668.0 796.5,1667.6 795.4,1667.3 794.3,1666.9 793.2,1666.6 792.1,1666.3 791.0,1666.1 789.9,1665.9 788.8,1665.7 787.7,1665.6 786.6,1665.5 785.5,1665.6 784.4,1665.6 783.3,1665.7 782.2,1665.9 781.1,1666.1 780.0,1666.4 778.9,1666.7 777.8,1667.1 776.6,1667.4 775.5,1667.8 774.4,1668.1 773.3,1668.5 772.2,1668.9 771.1,1669.2 770.0,1669.5 768.9,1669.7 767.8,1669.9 766.7,1670.1 765.6,1670.2 764.5,1670.2 763.4,1670.2 762.3,1670.1 761.2,1670.0 760.1,1669.8 759.0,1669.6 757.9,1669.3 756.7,1669.0 755.6,1668.6 754.5,1668.3 753.4,1667.9 752.3,1667.5 751.2,1667.2 750.1,1666.8 749.0,1666.5 747.9,1666.2 746.8,1666.0 745.7,1665.8 744.6,1665.7 743.5,1665.6 742.4,1665.5 741.3,1665.6 740.2,1665.7 739.1,1665.8 738.0,1666.0 736.8,1666.2 735.7,1666.5 734.6,1666.8 733.5,1667.2 732.4,1667.5 731.3,1667.9 730.2,1668.3 729.1,1668.6 728.0,1669.0 726.9,1669.3 725.8,1669.5 724.7,1669.8 723.6,1670.0 722.5,1670.1 721.4,1670.2 720.3,1670.2 719.2,1670.2 718.0,1670.1 716.9,1669.9 715.8,1669.7 714.7,1669.5 713.6,1669.2 712.5,1668.9 711.4,1668.5 710.3,1668.2 709.2,1667.8 708.1,1667.4 707.0,1667.1 705.9,1666.7 704.8,1666.4 703.7,1666.2 702.6,1665.9 701.5,1665.8 700.4,1665.6 699.3,1665.6 698.2,1665.5 697.0,1665.6 695.9,1665.7 694.8,1665.8 693.7,1666.0 692.6,1666.3 691.5,1666.6 690.4,1666.9 689.3,1667.3 688.2,1667.6 687.1,1668.0 686.0,1668.4 684.9,1668.7 683.8,1669.0 682.7,1669.3 681.6,1669.6 680.5,1669.8 679.4,1670.0 678.2,1670.1 677.1,1670.2 676.0,1670.2 674.9,1670.1 673.8,1670.0 672.7,1669.9 671.6,1669.7 670.5,1669.4 669.4,1669.1 668.3,1668.8 667.2,1668.4 666.1,1668.1 665.0,1667.7 663.9,1667.3 662.8,1667.0 661.7,1666.6 660.6,1666.3 659.5,1666.1 658.4,1665.9 657.2,1665.7 656.1,1665.6 655.0,1665.5 653.9,1665.5 652.8,1665.6 651.7,1665.7 650.6,1665.9 649.5,1666.1 648.4,1666.4 647.3,1666.7 646.2,1667.0 645.1,1667.4 644.0,1667.7 642.9,1668.1 641.8,1668.5 640.7,1668.8 639.6,1669.1 638.5,1669.4 637.3,1669.7 636.2,1669.9 635.1,1670.0 634.0,1670.2 632.9,1670.2 631.8,1670.2 630.7,1670.1 629.6,1670.0 628.5,1669.8 627.4,1669.6 626.3,1669.3 625.2,1669.0 624.1,1668.7 623.0,1668.3 621.9,1667.9 620.8,1667.6 619.7,1667.2 618.6,1666.9 617.4,1666.6 616.3,1666.3 615.2,1666.0 614.1,1665.8 613.0,1665.7 611.9,1665.6 610.8,1665.5 609.7,1665.6 608.6,1665.6 607.5,1665.8 606.4,1666.0 605.3,1666.2 604.2,1666.5 603.1,1666.8 602.0,1667.1 600.9,1667.5 599.8,1667.8 598.7,1668.2 597.5,1668.6 596.4,1668.9 595.3,1669.2 594.2,1669.5 593.1,1669.7 592.0,1669.9 590.9,1670.1 589.8,1670.2 588.7,1670.2 588.7,1670.2 479.0,1670.2 Z" fill="#d9d9d9"/>
<text x="91.9" y="1664.5" font-size="31" fill="#231f20" text-anchor="end" font-weight="normal" font-style="normal" >-18 dB</text>
<path d="M110.09,1786.30 L110.09,1755.04 L114.51,1755.04 L114.51,1702.94 L118.93,1702.94 L118.93,1775.88 L123.35,1775.88 L123.35,1765.46 L127.77,1765.46 L127.77,1734.20 L132.19,1734.20 L132.19,1755.04 L136.61,1755.04 L136.61,1755.04 L141.03,1755.04 L141.03,1765.46 L145.46,1765.46 L145.46,1765.46 L149.88,1765.46 L149.88,1765.46 L154.30,1765.46 L154.30,1765.46 L158.72,1765.46 L158.72,1755.04 L163.14,1755.04 L163.14,1744.62 L167.56,1744.62 L167.56,1713.36 L171.98,1713.36 L171.98,1723.78 L176.40,1723.78 L176.40,1723.78 L180.82,1723.78 L180.82,1755.04 L185.24,1755.04 L185.24,1775.88 L189.66,1775.88 L189.66,1775.88 L194.08,1775.88 L194.08,1786.30 L198.50,1786.30 L198.50,1765.46 L202.92,1765.46 L202.92,1765.46 L207.35,1765.46 L207.35,1734.20 L211.77,1734.20 L211.77,1744.62 L216.19,1744.62 L216.19,1765.46 L220.61,1765.46 L220.61,1765.46 L225.03,1765.46 L225.03,1786.30 L229.45,1786.30 L229.45,1786.30 L233.87,1786.30 L233.87,1734.20 L238.29,1734.20 L238.29,1765.46 L242.71,1765.46 L242.71,1765.46 L247.13,1765.46 L247.13,1755.04 L251.55,1755.04 L251.55,1775.88 L255.97,1775.88 L255.97,1775.88 L260.39,1775.88 L260.39,1786.30 L264.81,1786.30 L264.81,1734.20 L269.23,1734.20 L269.23,1765.46 L273.66,1765.46 L273.66,1734.20 L278.08,1734.20 L278.08,1713.36 L282.50,1713.36 L282.50,1765.46 L286.92,1765.46 L286.92,1744.62 L291.34,1744.62 L291.34,1775.88 L295.76,1775.88 L295.76,1786.30 L300.18,1786.30 L300.18,1765.46 L304.60,1765.46 L304.60,1713.36 L309.02,1713.36 L309.02,1765.46 L313.44,1765.46 L313.44,1744.62 L317.86,1744.62 L317.86,1765.46 L322.28,1765.46 L322.28,1734.20 L326.70,1734.20 L326.70,1775.88 L331.12,1775.88 L331.12,1765.46 L335.54,1765.46 L335.54,1744.62 L339.97,1744.62 L339.97,1765.46 L344.39,1765.46 L344.39,1765.46 L348.81,1765.46 L348.81,1755.04 L353.23,1755.04 L353.23,1775.88 L357.65,1775.88 L357.65,1755.04 L362.07,1755.04 L362.07,1755.04 L366.49,1755.04 L366.49,1744.62 L370.91,1744.62 L370.91,1744.62 L375.33,1744.62 L375.33,1775.88 L379.75,1775.88 L379.75,1755.04 L384.17,1755.04 L384.17,1765.46 L388.59,1765.46 L388.59,1744.62 L393.01,1744.62 L393.01,1786.30 L397.43,1786.30 L397.43,1713.36 L401.86,1713.36 L401.86,1734.20 L406.28,1734.20 L406.28,1702.94 L410.70,1702.94 L410.70,1755.04 L415.12,1755.04 L415.12,1775.88 L419.54,1775.88 L419.54,1755.04 L423.96,1755.04 L423.96,1775.88 L428.38,1775.88 L428.38,1765.46 L432.80,1765.46 L432.80,1786.30 L437.22,1786.30 L437.22,1786.30 L441.64,1786.30 L441.64,1786.30 Z" fill="#14b3b0" stroke="#0b8784" stroke-width="1.6" stroke-linejoin="miter"/>
<line x1="220.7" y1="1786.8" x2="220.7" y2="1790.3" stroke="#231f20" stroke-width="1.2"/>
<path d="M113.0 1826.4h0M112.9 1840.9h0M112.1 1821.5h0M117.2 1831.2h0M117.7 1821.5h0M115.5 1840.9h0M117.0 1826.4h0M115.3 1860.2h0M116.5 1855.3h0M116.2 1816.7h0M116.2 1850.5h0M120.8 1855.3h0M124.1 1860.2h0M124.7 1821.5h0M128.8 1821.5h0M131.5 1826.4h0M129.6 1816.7h0M130.9 1850.5h0M130.4 1855.3h0M133.9 1855.3h0M132.7 1826.4h0M134.5 1840.9h0M139.6 1826.4h0M137.5 1840.9h0M137.9 1836.0h0M144.2 1826.4h0M142.5 1840.9h0M146.2 1840.9h0M146.8 1826.4h0M150.7 1816.7h0M152.7 1831.2h0M157.1 1836.0h0M156.0 1816.7h0M159.9 1836.0h0M161.5 1816.7h0M162.5 1860.2h0M165.8 1816.7h0M164.4 1855.3h0M165.6 1826.4h0M166.7 1850.5h0M170.8 1816.7h0M168.2 1821.5h0M169.9 1845.7h0M169.4 1840.9h0M168.4 1865.0h0M169.9 1869.8h0M170.2 1831.2h0M173.0 1821.5h0M175.9 1869.8h0M174.8 1845.7h0M172.5 1865.0h0M175.5 1840.9h0M174.0 1816.7h0M179.7 1845.7h0M178.1 1816.7h0M178.1 1869.8h0M177.5 1826.4h0M179.3 1821.5h0M177.5 1831.2h0M182.0 1869.8h0M183.1 1821.5h0M182.2 1826.4h0M187.6 1821.5h0M192.6 1850.5h0M201.5 1821.5h0M201.2 1831.2h0M204.4 1821.5h0M206.3 1855.3h0M209.6 1831.2h0M209.4 1845.7h0M210.0 1865.0h0M211.0 1821.5h0M210.3 1816.7h0M215.0 1865.0h0M213.4 1816.7h0M213.5 1836.0h0M212.5 1821.5h0M216.9 1836.0h0M217.7 1850.5h0M224.1 1850.5h0M221.2 1836.0h0M237.0 1836.0h0M234.7 1840.9h0M235.3 1826.4h0M236.1 1831.2h0M235.8 1821.5h0M239.8 1831.2h0M240.2 1840.9h0M245.8 1831.2h0M245.2 1816.7h0M250.1 1831.2h0M250.5 1865.0h0M250.3 1855.3h0M253.0 1826.4h0M258.4 1869.8h0M268.3 1836.0h0M267.1 1821.5h0M266.9 1855.3h0M265.9 1816.7h0M268.5 1826.4h0M271.8 1855.3h0M270.9 1826.4h0M275.9 1855.3h0M274.4 1850.5h0M276.6 1831.2h0M277.5 1845.7h0M276.3 1836.0h0M278.8 1850.5h0M281.8 1840.9h0M279.2 1816.7h0M280.3 1869.8h0M281.1 1826.4h0M281.1 1831.2h0M280.1 1821.5h0M285.4 1816.7h0M286.0 1821.5h0M288.9 1821.5h0M288.8 1860.2h0M288.7 1850.5h0M288.8 1831.2h0M293.1 1831.2h0M302.4 1840.9h0M303.9 1855.3h0M308.5 1816.7h0M306.2 1831.2h0M307.5 1826.4h0M306.3 1821.5h0M307.8 1836.0h0M305.3 1855.3h0M308.5 1845.7h0M313.0 1821.5h0M310.5 1860.2h0M316.5 1821.5h0M315.2 1845.7h0M314.7 1816.7h0M315.7 1836.0h0M319.6 1836.0h0M320.2 1840.9h0M325.1 1840.9h0M324.1 1860.2h0M323.8 1831.2h0M325.2 1845.7h0M324.8 1821.5h0M330.1 1840.9h0M334.6 1850.5h0M334.5 1821.5h0M339.2 1826.4h0M336.6 1850.5h0M336.6 1831.2h0M338.7 1865.0h0M343.7 1836.0h0M341.8 1850.5h0M347.9 1860.2h0M345.5 1855.3h0M352.3 1860.2h0M350.7 1826.4h0M349.6 1845.7h0M353.7 1845.7h0M360.1 1826.4h0M360.0 1816.7h0M361.0 1831.2h0M364.9 1831.2h0M366.0 1816.7h0M364.1 1855.3h0M367.5 1831.2h0M369.7 1855.3h0M370.2 1821.5h0M367.3 1816.7h0M372.1 1816.7h0M373.2 1821.5h0M371.8 1836.0h0M373.6 1850.5h0M376.6 1855.3h0M381.8 1836.0h0M383.2 1816.7h0M380.9 1831.2h0M386.3 1816.7h0M386.1 1836.0h0M392.5 1826.4h0M389.6 1831.2h0M390.8 1821.5h0M389.6 1840.9h0M400.7 1816.7h0M401.2 1860.2h0M400.3 1826.4h0M401.0 1821.5h0M400.0 1840.9h0M398.2 1850.5h0M400.3 1836.0h0M405.1 1850.5h0M405.1 1826.4h0M402.8 1855.3h0M405.2 1821.5h0M402.3 1845.7h0M406.8 1836.0h0M408.6 1826.4h0M409.8 1831.2h0M409.5 1850.5h0M406.8 1816.7h0M407.7 1821.5h0M410.2 1845.7h0M410.0 1855.3h0M414.4 1840.9h0M413.7 1845.7h0M411.5 1831.2h0M419.1 1831.2h0M422.2 1850.5h0M421.0 1826.4h0M420.7 1865.0h0M426.4 1869.8h0M428.9 1816.7h0M431.5 1836.0h0" stroke="#17b5b0" stroke-width="6.5" stroke-linecap="round" fill="none"/>
<path d="M482.41,1786.60 L482.41,1786.60 L487.04,1786.60 L487.04,1758.13 L492.36,1758.13 L492.36,1777.11 L496.99,1777.11 L496.99,1786.60 L500.00,1786.60 L500.00,1767.62 L505.09,1767.62 L505.09,1777.11 L510.18,1777.11 L510.18,1786.60 L513.19,1786.60 L513.19,1777.11 L518.51,1777.11 L518.51,1786.60 L522.45,1786.60 L522.45,1777.11 L531.24,1777.11 L531.24,1786.60 L535.64,1786.60 L535.64,1777.11 L540.50,1777.11 L540.50,1786.60 L544.43,1786.60 L544.43,1767.62 L549.06,1767.62 L549.06,1777.11 L557.86,1777.11 L557.86,1786.60 L561.79,1786.60 L561.79,1777.11 L565.96,1777.11 L565.96,1767.62 L571.05,1767.62 L571.05,1786.60 L583.78,1786.60 L583.78,1767.62 L588.41,1767.62 L588.41,1786.60 L592.58,1786.60 L592.58,1777.11 L600.45,1777.11 L600.45,1767.62 L605.77,1767.62 L605.77,1777.11 L610.40,1777.11 L610.40,1786.60 L618.50,1786.60 L618.50,1777.11 L627.76,1777.11 L627.76,1786.60 L631.23,1786.60 L631.23,1777.11 L636.32,1777.11 L636.32,1786.60 L640.49,1786.60 L640.49,1777.11 L645.58,1777.11 L645.58,1786.60 L657.84,1786.60 L657.84,1767.62 L662.94,1767.62 L662.94,1786.60 L675.20,1786.60 L675.20,1767.62 L679.83,1767.62 L679.83,1786.60 L683.30,1786.60 L683.30,1767.62 L688.40,1767.62 L688.40,1786.60 L696.73,1786.60 L696.73,1767.62 L701.82,1767.62 L701.82,1777.11 L706.45,1777.11 L706.45,1767.62 L711.08,1767.62 L711.08,1786.60 L722.65,1786.60 L722.65,1777.11 L737.00,1777.11 L737.00,1786.60 L744.64,1786.60 L744.64,1777.11 L757.83,1777.11 L757.83,1767.62 L763.15,1767.62 L763.15,1786.60 L766.16,1786.60 L766.16,1767.62 L771.72,1767.62 L771.72,1777.11 L776.35,1777.11 L776.35,1786.60 L779.36,1786.60 L779.36,1767.62 L784.68,1767.62 L784.68,1786.60 L792.55,1786.60 L792.55,1777.11 L797.18,1777.11 L797.18,1758.13 L802.50,1758.13 L802.50,1786.60 L810.60,1786.60 L810.60,1786.60 Z" fill="#f27370" stroke="#a0484a" stroke-width="1.6"/>
<line x1="590.7" y1="1787.1" x2="590.7" y2="1790.6" stroke="#231f20" stroke-width="1.2"/>
<path d="M581.0 1820.6h0M728.9 1820.6h0M696.7 1830.0h0M765.5 1830.0h0M487.3 1834.9h0M565.7 1834.9h0M600.7 1834.9h0M653.9 1834.9h0M681.0 1834.9h0M705.3 1834.9h0M763.2 1834.9h0M777.5 1834.9h0M795.6 1834.9h0M499.8 1839.5h0M531.7 1839.5h0M549.8 1839.5h0M591.9 1839.5h0M600.0 1839.5h0M622.7 1839.5h0M638.4 1839.5h0M671.3 1839.5h0M693.0 1839.5h0M742.3 1839.5h0M778.7 1839.5h0M792.5 1839.5h0M484.3 1844.4h0M497.0 1844.4h0M504.6 1844.4h0M545.8 1844.4h0M629.1 1844.4h0M697.7 1844.4h0M719.2 1844.4h0M751.8 1844.4h0M487.0 1849.3h0M672.4 1849.3h0M748.8 1853.9h0M489.3 1858.5h0M543.5 1858.5h0M558.8 1858.5h0M582.2 1858.5h0M604.1 1858.5h0M756.4 1858.5h0M510.4 1863.4h0M520.6 1863.4h0M524.3 1863.4h0M544.0 1863.4h0M565.7 1863.4h0M593.3 1863.4h0M618.0 1863.4h0M654.8 1863.4h0M683.5 1863.4h0M701.8 1863.4h0M723.8 1863.4h0M767.6 1863.4h0M796.0 1863.4h0M756.2 1868.2h0M793.2 1868.2h0" stroke="#ef6566" stroke-width="6.5" stroke-linecap="round" fill="none"/>
<rect x="111" y="1935.8" width="328.1" height="42" fill="#d9d9d9"/>
<rect x="479" y="1935.8" width="328.6" height="42" fill="#d9d9d9"/>
<text x="102.6" y="1967.5" font-size="31" fill="#231f20" text-anchor="end" font-weight="normal" font-style="normal" >unmod.</text>
<path d="M110.50,2080.80 L110.50,2067.76 L114.92,2067.76 L114.92,2067.24 L119.34,2067.24 L119.34,2067.00 L123.75,2067.00 L123.75,2066.35 L128.17,2066.35 L128.17,2067.24 L132.59,2067.24 L132.59,2066.44 L137.01,2066.44 L137.01,2070.37 L141.42,2070.37 L141.42,2068.45 L145.84,2068.45 L145.84,2066.35 L150.26,2066.35 L150.26,2067.64 L154.68,2067.64 L154.68,2066.54 L159.10,2066.54 L159.10,2070.00 L163.51,2070.00 L163.51,2068.44 L167.93,2068.44 L167.93,2069.42 L172.35,2069.42 L172.35,2068.11 L176.77,2068.11 L176.77,2067.97 L181.18,2067.97 L181.18,2070.44 L185.60,2070.44 L185.60,2069.55 L190.02,2069.55 L190.02,2069.27 L194.44,2069.27 L194.44,2066.47 L198.86,2066.47 L198.86,2067.13 L203.27,2067.13 L203.27,2069.80 L207.69,2069.80 L207.69,2066.99 L212.11,2066.99 L212.11,2069.89 L216.53,2069.89 L216.53,2067.78 L220.95,2067.78 L220.95,2069.94 L225.36,2069.94 L225.36,2070.49 L229.78,2070.49 L229.78,2066.67 L234.20,2066.67 L234.20,2069.58 L238.62,2069.58 L238.62,2069.55 L243.03,2069.55 L243.03,2066.18 L247.45,2066.18 L247.45,2066.66 L251.87,2066.66 L251.87,2069.23 L256.29,2069.23 L256.29,2066.27 L260.71,2066.27 L260.71,2068.13 L265.12,2068.13 L265.12,2067.52 L269.54,2067.52 L269.54,2069.60 L273.96,2069.60 L273.96,2066.36 L278.38,2066.36 L278.38,2067.46 L282.79,2067.46 L282.79,2066.25 L287.21,2066.25 L287.21,2066.57 L291.63,2066.57 L291.63,2069.19 L296.05,2069.19 L296.05,2068.91 L300.47,2068.91 L300.47,2069.77 L304.88,2069.77 L304.88,2069.86 L309.30,2069.86 L309.30,2070.21 L313.72,2070.21 L313.72,2069.17 L318.14,2069.17 L318.14,2067.85 L322.55,2067.85 L322.55,2070.49 L326.97,2070.49 L326.97,2067.52 L331.39,2067.52 L331.39,2069.01 L335.81,2069.01 L335.81,2069.14 L340.23,2069.14 L340.23,2066.90 L344.64,2066.90 L344.64,2068.38 L349.06,2068.38 L349.06,2069.11 L353.48,2069.11 L353.48,2068.38 L357.90,2068.38 L357.90,2067.40 L362.32,2067.40 L362.32,2070.25 L366.73,2070.25 L366.73,2066.21 L371.15,2066.21 L371.15,2070.40 L375.57,2070.40 L375.57,2067.20 L379.99,2067.20 L379.99,2066.78 L384.40,2066.78 L384.40,2070.42 L388.82,2070.42 L388.82,2067.03 L393.24,2067.03 L393.24,2068.89 L397.66,2068.89 L397.66,2067.95 L402.08,2067.95 L402.08,2070.46 L406.49,2070.46 L406.49,2070.29 L410.91,2070.29 L410.91,2069.70 L415.33,2069.70 L415.33,2066.30 L419.75,2066.30 L419.75,2069.64 L424.16,2069.64 L424.16,2067.17 L428.58,2067.17 L428.58,2066.41 L433.00,2066.41 L433.00,2080.80 Z" fill="#14b3b0" stroke="#0b8784" stroke-width="1.4"/>
<line x1="110" y1="2081" x2="441" y2="2081" stroke="#231f20" stroke-width="1.6"/>
<line x1="110.2" y1="2050" x2="110.2" y2="2081.5" stroke="#231f20" stroke-width="1.8"/>
<line x1="219.9" y1="2081" x2="219.9" y2="2085" stroke="#231f20" stroke-width="1.2"/>
<line x1="330.4" y1="2081" x2="330.4" y2="2085" stroke="#231f20" stroke-width="1.2"/>
<path d="M480.00,2082.20 L480.00,2070.43 L484.40,2070.43 L484.40,2072.82 L488.79,2072.82 L488.79,2072.78 L493.19,2072.78 L493.19,2072.10 L497.59,2072.10 L497.59,2071.10 L501.99,2071.10 L501.99,2073.77 L506.38,2073.77 L506.38,2071.21 L510.78,2071.21 L510.78,2071.01 L515.18,2071.01 L515.18,2070.76 L519.58,2070.76 L519.58,2074.05 L523.97,2074.05 L523.97,2070.42 L528.37,2070.42 L528.37,2073.84 L532.77,2073.84 L532.77,2072.84 L537.16,2072.84 L537.16,2071.76 L541.56,2071.76 L541.56,2070.53 L545.96,2070.53 L545.96,2072.84 L550.36,2072.84 L550.36,2070.50 L554.75,2070.50 L554.75,2072.02 L559.15,2072.02 L559.15,2072.95 L563.55,2072.95 L563.55,2072.93 L567.95,2072.93 L567.95,2073.49 L572.34,2073.49 L572.34,2073.89 L576.74,2073.89 L576.74,2073.60 L581.14,2073.60 L581.14,2071.44 L585.53,2071.44 L585.53,2070.21 L589.93,2070.21 L589.93,2073.55 L594.33,2073.55 L594.33,2074.01 L598.73,2074.01 L598.73,2070.25 L603.12,2070.25 L603.12,2072.07 L607.52,2072.07 L607.52,2072.58 L611.92,2072.58 L611.92,2073.25 L616.32,2073.25 L616.32,2071.82 L620.71,2071.82 L620.71,2070.89 L625.11,2070.89 L625.11,2072.38 L629.51,2072.38 L629.51,2072.51 L633.90,2072.51 L633.90,2073.98 L638.30,2073.98 L638.30,2070.54 L642.70,2070.54 L642.70,2074.07 L647.10,2074.07 L647.10,2072.23 L651.49,2072.23 L651.49,2070.85 L655.89,2070.85 L655.89,2073.68 L660.29,2073.68 L660.29,2071.27 L664.68,2071.27 L664.68,2070.40 L669.08,2070.40 L669.08,2071.68 L673.48,2071.68 L673.48,2071.05 L677.88,2071.05 L677.88,2073.77 L682.27,2073.77 L682.27,2072.46 L686.67,2072.46 L686.67,2073.60 L691.07,2073.60 L691.07,2070.82 L695.47,2070.82 L695.47,2073.02 L699.86,2073.02 L699.86,2072.39 L704.26,2072.39 L704.26,2070.20 L708.66,2070.20 L708.66,2070.79 L713.05,2070.79 L713.05,2070.30 L717.45,2070.30 L717.45,2072.39 L721.85,2072.39 L721.85,2072.25 L726.25,2072.25 L726.25,2071.28 L730.64,2071.28 L730.64,2072.28 L735.04,2072.28 L735.04,2073.04 L739.44,2073.04 L739.44,2072.58 L743.84,2072.58 L743.84,2073.61 L748.23,2073.61 L748.23,2072.69 L752.63,2072.69 L752.63,2070.25 L757.03,2070.25 L757.03,2070.36 L761.42,2070.36 L761.42,2071.69 L765.82,2071.69 L765.82,2072.20 L770.22,2072.20 L770.22,2072.85 L774.62,2072.85 L774.62,2073.84 L779.01,2073.84 L779.01,2073.11 L783.41,2073.11 L783.41,2071.07 L787.81,2071.07 L787.81,2070.73 L792.21,2070.73 L792.21,2072.75 L796.60,2072.75 L796.60,2071.06 L801.00,2071.06 L801.00,2082.20 Z" fill="#f27370" stroke="#a0484a" stroke-width="1.4"/>
<line x1="480" y1="2082.5" x2="809" y2="2082.5" stroke="#a0484a" stroke-width="1.4"/>
<line x1="589.4" y1="2082.5" x2="589.4" y2="2086" stroke="#231f20" stroke-width="1.2"/>
<line x1="699.4" y1="2082.5" x2="699.4" y2="2086" stroke="#231f20" stroke-width="1.2"/>
<line x1="809" y1="2082.5" x2="809" y2="2086" stroke="#231f20" stroke-width="1.2"/>
<text x="101.3" y="2073.8" font-size="31.5" fill="#231f20" text-anchor="end" font-weight="normal" font-style="normal" >250 Hz</text>
<path d="M111.7 2162.1h0M111.4 2093.1h0M114.4 2109.0h0M113.3 2183.4h0M113.8 2151.5h0M118.8 2109.0h0M116.6 2093.1h0M115.5 2156.8h0M122.9 2109.0h0M121.5 2156.8h0M122.5 2114.3h0M119.8 2093.1h0M124.6 2109.0h0M127.1 2162.1h0M126.9 2140.9h0M129.2 2162.1h0M131.4 2098.4h0M129.8 2093.1h0M130.2 2135.6h0M129.5 2172.8h0M134.6 2162.1h0M136.5 2103.7h0M133.1 2109.0h0M133.3 2119.7h0M135.8 2156.8h0M134.5 2183.4h0M133.2 2146.2h0M137.7 2103.7h0M138.3 2125.0h0M145.2 2103.7h0M142.6 2172.8h0M144.3 2135.6h0M144.2 2151.5h0M142.6 2178.1h0M146.8 2135.6h0M146.4 2178.1h0M149.0 2125.0h0M148.7 2162.1h0M149.5 2140.9h0M152.4 2140.9h0M153.2 2156.8h0M156.9 2156.8h0M162.7 2156.8h0M162.7 2151.5h0M159.8 2167.4h0M171.6 2162.1h0M170.7 2140.9h0M175.4 2183.4h0M178.6 2167.4h0M187.0 2103.7h0M188.5 2098.4h0M187.1 2114.3h0M191.0 2098.4h0M191.8 2114.3h0M196.2 2114.3h0M196.1 2135.6h0M200.3 2135.6h0M201.5 2183.4h0M211.5 2135.6h0M212.8 2140.9h0M215.0 2130.3h0M213.2 2109.0h0M214.3 2151.5h0M214.4 2103.7h0M218.9 2130.3h0M219.7 2167.4h0M219.8 2114.3h0M222.8 2167.4h0M221.8 2135.6h0M222.9 2119.7h0M224.1 2103.7h0M222.5 2114.3h0M227.7 2114.3h0M231.4 2130.3h0M236.1 2130.3h0M236.4 2119.7h0M240.6 2146.2h0M242.5 2098.4h0M239.2 2109.0h0M246.2 2098.4h0M246.1 2146.2h0M244.6 2109.0h0M246.8 2130.3h0M244.5 2156.8h0M249.4 2114.3h0M248.0 2183.4h0M249.4 2140.9h0M253.4 2146.2h0M255.2 2114.3h0M255.2 2098.4h0M258.3 2114.3h0M263.5 2114.3h0M263.5 2156.8h0M263.2 2146.2h0M267.4 2114.3h0M271.6 2130.3h0M270.6 2098.4h0M271.1 2178.1h0M272.0 2119.7h0M274.9 2178.1h0M279.2 2098.4h0M279.6 2183.4h0M280.6 2109.0h0M280.3 2140.9h0M284.5 2093.1h0M284.6 2140.9h0M290.9 2093.1h0M289.7 2167.4h0M289.8 2109.0h0M292.9 2109.0h0M293.5 2167.4h0M300.1 2178.1h0M300.0 2130.3h0M297.1 2093.1h0M301.7 2093.1h0M302.2 2167.4h0M301.5 2183.4h0M304.2 2156.8h0M311.4 2119.7h0M310.7 2125.0h0M312.2 2172.8h0M310.1 2140.9h0M310.8 2093.1h0M314.4 2098.4h0M316.3 2125.0h0M317.7 2140.9h0M317.4 2114.3h0M322.1 2125.0h0M320.8 2135.6h0M325.5 2130.3h0M325.3 2172.8h0M325.2 2183.4h0M328.8 2093.1h0M328.6 2167.4h0M328.2 2109.0h0M332.6 2109.0h0M333.6 2156.8h0M332.2 2098.4h0M339.3 2109.0h0M339.8 2156.8h0M340.9 2109.0h0M341.5 2156.8h0M342.3 2178.1h0M341.8 2183.4h0M346.3 2183.4h0M348.4 2151.5h0M347.2 2178.1h0M346.8 2119.7h0M351.4 2119.7h0M351.8 2178.1h0M352.5 2093.1h0M349.9 2162.1h0M351.4 2130.3h0M357.3 2130.3h0M356.1 2178.1h0M361.8 2119.7h0M358.8 2103.7h0M363.7 2119.7h0M370.2 2125.0h0M380.8 2125.0h0M380.6 2130.3h0M382.6 2140.9h0M385.5 2125.0h0M385.5 2167.4h0M385.9 2135.6h0M392.5 2167.4h0M391.0 2125.0h0M396.3 2103.7h0M396.0 2135.6h0M400.2 2135.6h0M400.7 2146.2h0M400.8 2130.3h0M400.8 2151.5h0M403.8 2130.3h0M405.8 2119.7h0M403.8 2140.9h0M408.1 2119.7h0M411.8 2098.4h0M413.1 2125.0h0M417.7 2098.4h0M418.4 2125.0h0M421.9 2125.0h0M425.6 2183.4h0M430.1 2183.4h0M430.3 2103.7h0M431.4 2140.9h0M436.1 2178.1h0" stroke="#17b5b0" stroke-width="6.5" stroke-linecap="round" fill="none"/>
<path d="M493.2 2108.5h0M493.5 2130.0h0M492.3 2167.6h0M495.3 2113.8h0M496.9 2183.7h0M502.5 2119.2h0M501.8 2156.8h0M503.8 2092.4h0M505.7 2103.1h0M506.2 2087.0h0M508.0 2108.5h0M509.7 2146.1h0M508.4 2183.7h0M526.8 2162.2h0M525.9 2130.0h0M526.8 2092.4h0M526.3 2151.4h0M530.6 2097.7h0M531.1 2140.7h0M531.7 2130.0h0M530.3 2135.3h0M535.5 2135.3h0M544.6 2092.4h0M549.0 2097.7h0M548.1 2172.9h0M553.0 2130.0h0M553.2 2172.9h0M553.1 2087.0h0M559.9 2135.3h0M557.0 2178.3h0M566.5 2130.0h0M566.7 2172.9h0M571.9 2124.6h0M575.3 2119.2h0M575.8 2113.8h0M584.3 2087.0h0M585.6 2135.3h0M584.9 2103.1h0M590.3 2097.7h0M590.9 2172.9h0M590.9 2124.6h0M592.6 2113.8h0M597.9 2124.6h0M598.5 2108.5h0M598.0 2151.4h0M601.2 2156.8h0M602.0 2087.0h0M602.0 2097.7h0M603.8 2140.7h0M608.0 2103.1h0M610.3 2087.0h0M613.1 2103.1h0M615.3 2178.3h0M615.3 2140.7h0M615.5 2172.9h0M621.1 2183.7h0M621.7 2135.3h0M620.5 2156.8h0M623.4 2162.2h0M625.5 2183.7h0M634.2 2119.2h0M631.8 2108.5h0M635.1 2151.4h0M633.6 2087.0h0M637.0 2140.7h0M637.5 2092.4h0M643.1 2097.7h0M643.2 2146.1h0M647.8 2140.7h0M647.3 2146.1h0M651.6 2140.7h0M651.7 2146.1h0M654.5 2119.2h0M661.2 2162.2h0M661.5 2140.7h0M665.1 2146.1h0M664.9 2167.6h0M662.8 2092.4h0M663.5 2119.2h0M669.3 2151.4h0M667.3 2124.6h0M668.9 2172.9h0M674.0 2178.3h0M672.3 2151.4h0M673.7 2156.8h0M677.7 2162.2h0M678.2 2130.0h0M687.3 2183.7h0M688.2 2113.8h0M691.6 2087.0h0M696.0 2087.0h0M694.1 2156.8h0M700.8 2178.3h0M699.9 2183.7h0M700.4 2151.4h0M700.3 2113.8h0M702.5 2119.2h0M709.8 2124.6h0M707.8 2108.5h0M709.3 2119.2h0M716.2 2178.3h0M716.3 2130.0h0M716.9 2113.8h0M718.5 2108.5h0M719.1 2124.6h0M717.0 2087.0h0M726.8 2108.5h0M724.7 2140.7h0M730.9 2135.3h0M734.9 2130.0h0M733.4 2087.0h0M734.3 2178.3h0M743.9 2162.2h0M745.5 2167.6h0M745.5 2087.0h0M742.8 2113.8h0M747.1 2162.2h0M747.5 2108.5h0M750.2 2130.0h0M754.5 2124.6h0M752.8 2087.0h0M753.1 2151.4h0M754.3 2130.0h0M759.0 2130.0h0M760.6 2130.0h0M760.8 2087.0h0M773.4 2103.1h0M775.1 2113.8h0M780.7 2140.7h0M783.8 2146.1h0M787.6 2151.4h0M791.1 2178.3h0M791.9 2156.8h0M798.1 2162.2h0M802.7 2124.6h0M800.5 2146.1h0M800.4 2130.0h0" stroke="#ef6566" stroke-width="6.5" stroke-linecap="round" fill="none"/>
<path d="M110.1,2093.4 L110.1,2188 L441,2188" fill="none" stroke="#231f20" stroke-width="2"/>
<line x1="110.1" y1="2188" x2="110.1" y2="2182" stroke="#231f20" stroke-width="1.6"/>
<line x1="219.9" y1="2188" x2="219.9" y2="2182" stroke="#231f20" stroke-width="1.6"/>
<line x1="330.4" y1="2188" x2="330.4" y2="2182" stroke="#231f20" stroke-width="1.6"/>
<line x1="440.5" y1="2188" x2="440.5" y2="2182" stroke="#231f20" stroke-width="1.6"/>
<text x="94.5" y="2115.5" font-size="30" fill="#231f20" text-anchor="end" font-weight="normal" font-style="normal" >20</text>
<text x="94.5" y="2202.0" font-size="30" fill="#231f20" text-anchor="end" font-weight="normal" font-style="normal" >0</text>
<text x="113.7" y="2230.4" font-size="30" fill="#231f20" text-anchor="middle" font-weight="normal" font-style="normal" >-500</text>
<text x="220.0" y="2230.4" font-size="30" fill="#231f20" text-anchor="middle" font-weight="normal" font-style="normal" >0</text>
<text x="331.0" y="2230.4" font-size="30" fill="#231f20" text-anchor="middle" font-weight="normal" font-style="normal" >500</text>
<text x="434.0" y="2230.4" font-size="30" fill="#231f20" text-anchor="middle" font-weight="normal" font-style="normal" >1000</text>
<text x="274.0" y="2265.0" font-size="30" fill="#231f20" text-anchor="middle" font-weight="normal" font-style="normal" >Time (ms)</text>
<text transform="translate(37.5,2143.5) rotate(-90)" font-size="30" fill="#231f20" text-anchor="middle"># Trials</text>
<defs><clipPath id="clip469"><rect x="1048" y="54" width="420" height="415.5"/></clipPath></defs>
<g clip-path="url(#clip469)" fill="none" stroke="#14b3b0" stroke-width="2" stroke-opacity="0.32"><path d="M1048.3,429.9 1058.9,428.5 1069.5,427.1 1080.1,425.7 1090.6,424.3 1101.2,422.9 1111.8,421.4 1122.4,419.8 1132.0,417.9 1140.6,415.7 1149.2,412.8 1157.8,408.4 1166.4,401.6 1175.0,390.5 1183.6,372.6 1192.2,345.2 1200.8,307.9 1209.5,264.6 1218.1,222.8 1226.8,189.3 1235.4,165.9 1244.0,151.0 1252.7,141.9 1261.6,136.2 1270.9,132.5 1280.2,129.9 1289.4,127.9 1298.7,126.1 1308.0,124.6 1317.2,123.1 1326.5,121.7 1335.7,120.3 1344.8,118.9 1354.0,117.5 1363.1,116.1 1372.3,114.8 1381.5,113.4 1390.6,112.0 1399.7,110.7 1408.7,109.3 1417.6,107.9 1426.6,106.5 1435.6,105.2 1444.6,103.8 1453.5,102.4 1462.5,101.0"/><path d="M1127.7,375.9 1136.3,368.1 1144.9,359.3 1153.5,349.6 1162.1,338.8 1170.7,327.2 1179.3,314.6 1187.9,301.4 1196.5,287.6 1205.2,273.5 1213.8,259.3 1222.4,245.4 1231.1,231.8 1239.7,218.9 1248.4,206.7 1257.0,195.5 1266.3,185.2 1275.5,176.0 1284.8,167.7 1294.1,160.3 1303.3,153.9 1312.6,148.1 1321.9,143.1 1331.1,138.8 1340.2,134.9 1349.4,131.5 1358.6,128.5 1367.7,125.9 1376.9,123.5 1386.0,121.4 1395.2,119.4"/><path d="M1048.3,360.4 1058.9,355.7 1069.5,350.7 1080.1,345.7 1090.6,340.5 1101.2,335.2 1111.8,329.7 1122.4,324.1 1132.0,318.3 1140.6,312.4 1149.2,306.3 1157.8,300.1 1166.4,293.7 1175.0,287.1 1183.6,280.4 1192.2,273.5 1200.8,266.4 1209.5,259.2 1218.1,251.8 1226.8,244.2 1235.4,236.5 1244.0,228.6 1252.7,220.6 1261.6,212.4 1270.9,204.0 1280.2,195.5 1289.4,186.9 1298.7,178.1 1308.0,169.1 1317.2,160.1 1326.5,150.9 1335.7,141.6 1344.8,132.2 1354.0,122.7 1363.1,113.0 1372.3,103.4 1381.5,93.6 1390.6,83.8 1399.7,73.9 1408.7,64.0 1417.6,54.0 1426.6,49.7"/><path d="M1048.3,408.0 1058.9,407.6 1069.5,407.2 1080.1,406.7 1090.6,406.2 1101.2,405.5 1111.8,404.7 1122.4,403.5 1132.0,401.9 1140.6,399.6 1149.2,396.2 1157.8,391.0 1166.4,383.4 1175.0,372.1 1183.6,355.9 1192.2,333.8 1200.8,305.3 1209.5,271.6 1218.1,235.4 1226.8,200.4 1235.4,169.8 1244.0,145.4 1252.7,127.1 1261.6,114.3 1270.9,105.4 1280.2,99.5 1289.4,95.5 1298.7,92.9 1308.0,91.0 1317.2,89.7 1326.5,88.8 1335.7,88.1 1344.8,87.5 1354.0,87.0 1363.1,86.5 1372.3,86.1 1381.5,85.7 1390.6,85.4 1399.7,85.0 1408.7,84.6 1417.6,84.3 1426.6,83.9 1435.6,83.5 1444.6,83.2 1453.5,82.8 1462.5,82.5"/><path d="M1127.7,413.6 1136.3,413.3 1144.9,413.1 1153.5,412.8 1162.1,412.5 1170.7,412.3 1179.3,412.0 1187.9,411.7 1196.5,411.4 1205.2,411.2 1213.8,410.9 1222.4,410.6 1231.1,410.4 1239.7,410.1 1248.4,409.8 1257.0,409.6 1266.3,409.3 1275.5,409.0 1284.8,408.8 1294.1,408.5 1303.3,408.2 1312.6,407.9 1321.9,407.6 1331.1,407.3 1340.2,407.0 1349.4,406.6 1358.6,406.3 1367.7,405.8 1376.9,405.3 1386.0,404.7 1395.2,403.8"/><path d="M1048.3,412.6 1058.9,412.4 1069.5,412.1 1080.1,411.9 1090.6,411.6 1101.2,411.4 1111.8,411.1 1122.4,410.9 1132.0,410.6 1140.6,410.4 1149.2,410.1 1157.8,409.9 1166.4,409.6 1175.0,409.4 1183.6,409.1 1192.2,408.9 1200.8,408.6 1209.5,408.4 1218.1,408.2 1226.8,407.9 1235.4,407.7 1244.0,407.4 1252.7,407.2 1261.6,406.9 1270.9,406.7 1280.2,406.4 1289.4,406.2 1298.7,405.9 1308.0,405.7 1317.2,405.4 1326.5,405.2 1335.7,404.9 1344.8,404.7 1354.0,404.4 1363.1,404.1 1372.3,403.8 1381.5,403.4 1390.6,403.0 1399.7,402.5 1408.7,401.9 1417.6,400.9 1426.6,399.6 1435.6,397.6 1444.6,394.6 1453.5,390.0 1462.5,383.0"/><path d="M1048.3,459.3 1058.9,457.7 1069.5,456.1 1080.1,454.5 1090.6,453.0 1101.2,451.4 1111.8,449.8 1122.4,448.2 1132.0,446.7 1140.6,445.1 1149.2,443.5 1157.8,441.9 1166.4,440.4 1175.0,438.8 1183.6,437.2 1192.2,435.6 1200.8,434.0 1209.5,432.4 1218.1,430.8 1226.8,429.2 1235.4,427.5 1244.0,425.9 1252.7,424.1 1261.6,422.4 1270.9,420.5 1280.2,418.5 1289.4,416.4 1298.7,414.1 1308.0,411.4 1317.2,408.4 1326.5,404.8 1335.7,400.6 1344.8,395.4 1354.0,389.1 1363.1,381.5 1372.3,372.3 1381.5,361.6 1390.6,349.4 1399.7,336.1 1408.7,322.2 1417.6,308.4 1426.6,295.3 1435.6,283.5 1444.6,273.2 1453.5,264.5 1462.5,257.2"/><path d="M1257.0,383.2 1266.3,375.3 1275.5,366.0 1284.8,355.3 1294.1,343.0 1303.3,329.2 1312.6,314.0 1321.9,297.6 1331.1,280.4 1340.2,262.8 1349.4,245.2 1358.6,228.1 1367.7,212.0 1376.9,197.1 1386.0,183.7 1395.2,171.8 1404.2,161.4 1413.1,152.5 1422.1,144.8 1431.1,138.3 1440.1,132.9 1449.0,128.2 1458.0,124.3"/><path d="M1127.7,430.2 1136.3,430.0 1144.9,429.7 1153.5,429.4 1162.1,429.1 1170.7,428.7 1179.3,428.2 1187.9,427.7 1196.5,427.0 1205.2,426.2 1213.8,425.3 1222.4,424.1 1231.1,422.7 1239.7,421.0 1248.4,419.1 1257.0,416.7 1266.3,413.9 1275.5,410.6 1284.8,406.8 1294.1,402.4 1303.3,397.6 1312.6,392.2 1321.9,386.4 1331.1,380.2 1340.2,373.8 1349.4,367.3 1358.6,361.0 1367.7,354.8 1376.9,349.0 1386.0,343.7 1395.2,338.9 1404.2,334.7 1413.1,330.9 1422.1,327.7 1431.1,325.0 1440.1,322.6 1449.0,320.7 1458.0,319.0"/><path d="M1127.7,443.2 1136.3,443.1 1144.9,443.0 1153.5,442.9 1162.1,442.8 1170.7,442.7 1179.3,442.6 1187.9,442.5 1196.5,442.4 1205.2,442.3 1213.8,442.2 1222.4,442.1 1231.1,442.0 1239.7,441.9 1248.4,441.8 1257.0,441.7 1266.3,441.6 1275.5,441.5 1284.8,441.4 1294.1,441.3 1303.3,441.2 1312.6,441.1 1321.9,441.0 1331.1,440.9 1340.2,440.8 1349.4,440.7 1358.6,440.6 1367.7,440.5 1376.9,440.4 1386.0,440.3 1395.2,440.2 1404.2,440.0 1413.1,439.8 1422.1,439.3 1431.1,438.5 1440.1,436.9 1449.0,433.6 1458.0,426.6"/><path d="M1127.7,426.3 1136.3,423.4 1144.9,420.2 1153.5,416.4 1162.1,412.1 1170.7,407.2 1179.3,401.5 1187.9,394.9 1196.5,387.4 1205.2,378.6 1213.8,368.6 1222.4,357.1 1231.1,343.9 1239.7,328.9 1248.4,311.8 1257.0,292.4 1266.3,270.6 1275.5,246.1 1284.8,219.0 1294.1,189.1 1303.3,156.4 1312.6,121.1 1321.9,83.3 1331.1,49.7"/><path d="M1048.3,412.6 1058.9,406.3 1069.5,399.5 1080.1,391.8 1090.6,383.3 1101.2,373.8 1111.8,363.2 1122.4,351.5 1132.0,338.4 1140.6,323.9 1149.2,307.9 1157.8,290.1 1166.4,270.5 1175.0,249.0 1183.6,225.4 1192.2,199.7 1200.8,171.8 1209.5,141.7 1218.1,109.4 1226.8,75.0 1235.4,49.7"/><path d="M1048.3,449.6 1058.9,449.4 1069.5,449.2 1080.1,449.1 1090.6,448.9 1101.2,448.7 1111.8,448.6 1122.4,448.4 1132.0,448.2 1140.6,448.1 1149.2,447.9 1157.8,447.7 1166.4,447.6 1175.0,447.4 1183.6,447.2 1192.2,447.0 1200.8,446.9 1209.5,446.7 1218.1,446.5 1226.8,446.4 1235.4,446.2 1244.0,446.0 1252.7,445.8 1261.6,445.7 1270.9,445.5 1280.2,445.2 1289.4,445.0 1298.7,444.8 1308.0,444.5 1317.2,444.1 1326.5,443.7 1335.7,443.1 1344.8,442.3 1354.0,441.3 1363.1,439.9 1372.3,438.0 1381.5,435.2 1390.6,431.4 1399.7,426.0 1408.7,418.6 1417.6,408.5 1426.6,395.0 1435.6,377.7 1444.6,356.2 1453.5,331.0 1462.5,303.2"/><path d="M1048.3,439.7 1058.9,438.7 1069.5,437.6 1080.1,436.5 1090.6,435.5 1101.2,434.4 1111.8,433.3 1122.4,432.3 1132.0,431.2 1140.6,430.1 1149.2,429.1 1157.8,428.0 1166.4,426.9 1175.0,425.9 1183.6,424.8 1192.2,423.7 1200.8,422.7 1209.5,421.6 1218.1,420.5 1226.8,419.5 1235.4,418.4 1244.0,417.3 1252.7,416.3 1261.6,415.2 1270.9,414.1 1280.2,413.0 1289.4,411.9 1298.7,410.7 1308.0,409.5 1317.2,408.2 1326.5,406.7 1335.7,404.9 1344.8,402.7 1354.0,399.6 1363.1,395.3 1372.3,388.7 1381.5,378.7 1390.6,363.2 1399.7,339.5 1408.7,304.5 1417.6,255.5 1426.6,192.5 1435.6,120.0 1444.6,49.7"/><path d="M1048.3,429.7 1058.9,429.2 1069.5,428.8 1080.1,428.3 1090.6,427.8 1101.2,427.3 1111.8,426.8 1122.4,426.4 1132.0,425.9 1140.6,425.4 1149.2,424.9 1157.8,424.5 1166.4,424.0 1175.0,423.5 1183.6,423.0 1192.2,422.5 1200.8,422.1 1209.5,421.6 1218.1,421.1 1226.8,420.6 1235.4,420.1 1244.0,419.7 1252.7,419.2 1261.6,418.7 1270.9,418.2 1280.2,417.7 1289.4,417.3 1298.7,416.8 1308.0,416.3 1317.2,415.8 1326.5,415.3 1335.7,414.8 1344.8,414.2 1354.0,413.6 1363.1,412.9 1372.3,411.8 1381.5,410.3 1390.6,407.8 1399.7,403.5 1408.7,395.6 1417.6,381.5 1426.6,356.4 1435.6,314.4 1444.6,250.9 1453.5,168.3 1462.5,80.0"/><path d="M1192.2,409.2 1200.8,404.4 1209.5,398.9 1218.1,392.9 1226.8,386.2 1235.4,378.9 1244.0,371.0 1252.7,362.5 1261.6,353.5 1270.9,344.1 1280.2,334.4 1289.4,324.6 1298.7,314.6 1308.0,304.8 1317.2,295.3 1326.5,286.1 1335.7,277.3 1344.8,269.1 1354.0,261.4 1363.1,254.4 1372.3,248.1 1381.5,242.3 1390.6,237.1 1399.7,232.6 1408.7,228.5 1417.6,224.9 1426.6,221.8 1435.6,219.0 1444.6,216.6 1453.5,214.5 1462.5,212.7"/><path d="M1048.3,328.6 1058.9,325.8 1069.5,322.9 1080.1,319.9 1090.6,316.8 1101.2,313.6 1111.8,310.3 1122.4,306.9 1132.0,303.4 1140.6,299.8 1149.2,296.2 1157.8,292.4 1166.4,288.5 1175.0,284.5 1183.6,280.4 1192.2,276.2 1200.8,272.0 1209.5,267.6 1218.1,263.1 1226.8,258.5 1235.4,253.8 1244.0,249.0 1252.7,244.1 1261.6,239.1 1270.9,234.0 1280.2,228.8 1289.4,223.5 1298.7,218.2 1308.0,212.7 1317.2,207.2 1326.5,201.6 1335.7,195.9 1344.8,190.2 1354.0,184.4 1363.1,178.5 1372.3,172.5 1381.5,166.6 1390.6,160.5"/><path d="M1192.2,434.1 1200.8,434.0 1209.5,433.9 1218.1,433.8 1226.8,433.6 1235.4,433.5 1244.0,433.4 1252.7,433.3 1261.6,433.2 1270.9,433.1 1280.2,433.0 1289.4,432.9 1298.7,432.7 1308.0,432.6 1317.2,432.5 1326.5,432.3 1335.7,432.2 1344.8,431.9 1354.0,431.6 1363.1,431.2 1372.3,430.4 1381.5,429.2 1390.6,427.0 1399.7,423.3 1408.7,417.0 1417.6,406.2 1426.6,388.7 1435.6,361.8 1444.6,324.2 1453.5,278.2 1462.5,230.2"/><path d="M1127.7,448.1 1136.3,446.6 1144.9,445.1 1153.5,443.6 1162.1,442.2 1170.7,440.7 1179.3,439.2 1187.9,437.8 1196.5,436.3 1205.2,434.8 1213.8,433.3 1222.4,431.8 1231.1,430.4 1239.7,428.9 1248.4,427.4 1257.0,425.9 1266.3,424.3 1275.5,422.8 1284.8,421.2 1294.1,419.6 1303.3,418.0 1312.6,416.3 1321.9,414.5 1331.1,412.5 1340.2,410.4 1349.4,408.0 1358.6,405.3 1367.7,402.2 1376.9,398.4 1386.0,393.7 1395.2,387.9 1404.2,380.6 1413.1,371.2 1422.1,359.1 1431.1,343.6 1440.1,323.9 1449.0,299.1 1458.0,268.5"/><path d="M1048.3,447.1 1058.9,445.8 1069.5,444.5 1080.1,443.2 1090.6,442.0 1101.2,440.7 1111.8,439.4 1122.4,438.1 1132.0,436.8 1140.6,435.5 1149.2,434.2 1157.8,432.9 1166.4,431.6 1175.0,430.2 1183.6,428.9 1192.2,427.5 1200.8,426.1 1209.5,424.7 1218.1,423.2 1226.8,421.7 1235.4,420.1 1244.0,418.5 1252.7,416.7 1261.6,414.7 1270.9,412.6 1280.2,410.2 1289.4,407.5 1298.7,404.3 1308.0,400.7 1317.2,396.5 1326.5,391.5 1335.7,385.6 1344.8,378.7 1354.0,370.6 1363.1,361.2 1372.3,350.6 1381.5,338.7 1390.6,325.9"/><path d="M1048.3,415.7 1058.9,414.3 1069.5,412.9 1080.1,411.5 1090.6,410.1 1101.2,408.7 1111.8,407.3 1122.4,405.8 1132.0,404.3 1140.6,402.8 1149.2,401.3 1157.8,399.7 1166.4,398.0 1175.0,396.4 1183.6,394.6 1192.2,392.8 1200.8,390.9 1209.5,388.8 1218.1,386.7 1226.8,384.4 1235.4,382.0 1244.0,379.4 1252.7,376.5 1261.6,373.5 1270.9,370.1 1280.2,366.5 1289.4,362.6 1298.7,358.3 1308.0,353.6 1317.2,348.6 1326.5,343.2 1335.7,337.4 1344.8,331.3 1354.0,324.8 1363.1,318.1 1372.3,311.2 1381.5,304.1 1390.6,296.9 1399.7,289.7 1408.7,282.7 1417.6,275.8 1426.6,269.2 1435.6,262.9 1444.6,256.9 1453.5,251.3 1462.5,246.1"/><path d="M1192.2,393.3 1200.8,389.9 1209.5,385.5 1218.1,380.0 1226.8,373.3 1235.4,365.4 1244.0,356.3 1252.7,346.4 1261.6,336.2 1270.9,326.3 1280.2,317.3 1289.4,309.4 1298.7,302.8 1308.0,297.4 1317.2,293.1 1326.5,289.7 1335.7,287.0 1344.8,284.8 1354.0,283.0 1363.1,281.4 1372.3,280.1 1381.5,278.9 1390.6,277.8 1399.7,276.7 1408.7,275.8 1417.6,274.8 1426.6,273.9 1435.6,273.0 1444.6,272.1 1453.5,271.2 1462.5,270.3"/><path d="M1048.3,461.2 1058.9,461.1 1069.5,461.0 1080.1,460.9 1090.6,460.8 1101.2,460.6 1111.8,460.5 1122.4,460.4 1132.0,460.3 1140.6,460.2 1149.2,460.1 1157.8,460.0 1166.4,459.9 1175.0,459.8 1183.6,459.6 1192.2,459.5 1200.8,459.4 1209.5,459.3 1218.1,459.2 1226.8,459.1 1235.4,459.0 1244.0,458.9 1252.7,458.7 1261.6,458.6 1270.9,458.5 1280.2,458.4 1289.4,458.3 1298.7,458.2 1308.0,458.0 1317.2,457.9 1326.5,457.7 1335.7,457.5 1344.8,457.2 1354.0,456.7 1363.1,455.8 1372.3,454.1 1381.5,451.0 1390.6,445.4 1399.7,435.1 1408.7,417.5 1417.6,389.7 1426.6,351.6 1435.6,308.5 1444.6,269.1 1453.5,239.4 1462.5,220.2"/><path d="M1127.7,435.1 1136.3,433.1 1144.9,430.9 1153.5,428.6 1162.1,426.0 1170.7,423.2 1179.3,420.1 1187.9,416.8 1196.5,413.1 1205.2,409.0 1213.8,404.6 1222.4,399.7 1231.1,394.4 1239.7,388.6 1248.4,382.2 1257.0,375.2 1266.3,367.5 1275.5,359.2 1284.8,350.1 1294.1,340.2 1303.3,329.6 1312.6,318.1 1321.9,305.8 1331.1,292.7 1340.2,278.7 1349.4,263.9 1358.6,248.3 1367.7,232.0 1376.9,215.1 1386.0,197.5 1395.2,179.5 1404.2,161.2 1413.1,142.6 1422.1,123.9 1431.1,105.2 1440.1,86.7 1449.0,68.5 1458.0,50.7"/><path d="M1048.3,427.3 1058.9,425.8 1069.5,424.2 1080.1,422.4 1090.6,420.5 1101.2,418.4 1111.8,416.1 1122.4,413.5 1132.0,410.7 1140.6,407.4 1149.2,403.8 1157.8,399.7 1166.4,395.1 1175.0,389.8 1183.6,383.8 1192.2,377.0 1200.8,369.3 1209.5,360.7 1218.1,351.0 1226.8,340.3 1235.4,328.6 1244.0,315.9 1252.7,302.2 1261.6,287.8 1270.9,272.8 1280.2,257.5 1289.4,242.0 1298.7,226.7 1308.0,211.7 1317.2,197.4 1326.5,183.8 1335.7,171.2 1344.8,159.5 1354.0,148.9 1363.1,139.3 1372.3,130.8 1381.5,123.2 1390.6,116.4 1399.7,110.5 1408.7,105.3 1417.6,100.7 1426.6,96.6 1435.6,93.1 1444.6,89.9 1453.5,87.0 1462.5,84.5"/><path d="M1048.3,423.4 1058.9,423.0 1069.5,422.6 1080.1,422.1 1090.6,421.7 1101.2,421.3 1111.8,420.9 1122.4,420.4 1132.0,420.0 1140.6,419.5 1149.2,419.1 1157.8,418.6 1166.4,418.0 1175.0,417.5 1183.6,416.9 1192.2,416.2 1200.8,415.4 1209.5,414.5 1218.1,413.5 1226.8,412.3 1235.4,410.9 1244.0,409.1 1252.7,407.0 1261.6,404.3 1270.9,401.0 1280.2,397.0 1289.4,392.0 1298.7,385.9 1308.0,378.6 1317.2,369.8 1326.5,359.6 1335.7,348.0 1344.8,335.1 1354.0,321.2 1363.1,306.8 1372.3,292.3 1381.5,278.3 1390.6,265.2 1399.7,253.3 1408.7,242.9 1417.6,233.9 1426.6,226.3 1435.6,220.0 1444.6,214.8 1453.5,210.6 1462.5,207.2"/><path d="M1127.7,429.1 1136.3,427.3 1144.9,425.3 1153.5,423.2 1162.1,420.9 1170.7,418.4 1179.3,415.8 1187.9,412.9 1196.5,409.8 1205.2,406.5 1213.8,402.8 1222.4,398.9 1231.1,394.6 1239.7,390.0 1248.4,384.9 1257.0,379.5 1266.3,373.5 1275.5,367.1 1284.8,360.1 1294.1,352.6 1303.3,344.4 1312.6,335.5 1321.9,325.9 1331.1,315.6 1340.2,304.5 1349.4,292.6 1358.6,279.8 1367.7,266.1 1376.9,251.5 1386.0,236.0 1395.2,219.6 1404.2,202.2 1413.1,184.0 1422.1,164.9 1431.1,144.9 1440.1,124.2 1449.0,102.7 1458.0,80.6"/><path d="M1257.0,386.0 1266.3,381.5 1275.5,376.6 1284.8,371.2 1294.1,365.4 1303.3,359.1 1312.6,352.2 1321.9,344.7 1331.1,336.6 1340.2,327.8 1349.4,318.2 1358.6,307.8 1367.7,296.6 1376.9,284.5 1386.0,271.6 1395.2,257.7 1404.2,242.9 1413.1,227.3 1422.1,210.7 1431.1,193.4 1440.1,175.4 1449.0,156.7 1458.0,137.5"/><path d="M1192.2,430.0 1200.8,429.8 1209.5,429.6 1218.1,429.3 1226.8,429.1 1235.4,428.9 1244.0,428.6 1252.7,428.4 1261.6,428.1 1270.9,427.9 1280.2,427.7 1289.4,427.4 1298.7,427.2 1308.0,427.0 1317.2,426.7 1326.5,426.5 1335.7,426.3 1344.8,426.0 1354.0,425.8 1363.1,425.5 1372.3,425.3 1381.5,425.1 1390.6,424.8 1399.7,424.5 1408.7,424.0 1417.6,423.4 1426.6,422.3 1435.6,420.1 1444.6,415.7 1453.5,406.7 1462.5,389.1"/><path d="M1192.2,414.4 1200.8,404.8 1209.5,393.0 1218.1,378.4 1226.8,360.3 1235.4,338.0 1244.0,310.5 1252.7,277.0 1261.6,236.5 1270.9,188.1 1280.2,131.4 1289.4,66.2 1298.7,49.7"/><path d="M1048.3,420.2 1058.9,420.1 1069.5,420.0 1080.1,420.0 1090.6,419.9 1101.2,419.9 1111.8,419.8 1122.4,419.7 1132.0,419.7 1140.6,419.6 1149.2,419.6 1157.8,419.5 1166.4,419.4 1175.0,419.4 1183.6,419.3 1192.2,419.3 1200.8,419.2 1209.5,419.1 1218.1,419.1 1226.8,419.0 1235.4,418.9 1244.0,418.9 1252.7,418.8 1261.6,418.7 1270.9,418.6 1280.2,418.4 1289.4,418.3 1298.7,418.1 1308.0,417.8 1317.2,417.5 1326.5,417.0 1335.7,416.4 1344.8,415.5 1354.0,414.3 1363.1,412.6 1372.3,410.2 1381.5,406.9 1390.6,402.3 1399.7,395.9 1408.7,387.0 1417.6,374.9 1426.6,358.7 1435.6,337.2 1444.6,309.5 1453.5,275.0 1462.5,233.7"/><path d="M1192.2,448.1 1200.8,447.5 1209.5,447.0 1218.1,446.5 1226.8,445.9 1235.4,445.4 1244.0,444.9 1252.7,444.3 1261.6,443.8 1270.9,443.3 1280.2,442.8 1289.4,442.2 1298.7,441.7 1308.0,441.2 1317.2,440.6 1326.5,440.1 1335.7,439.6 1344.8,439.0 1354.0,438.5 1363.1,438.0 1372.3,437.4 1381.5,436.9 1390.6,436.4 1399.7,435.8 1408.7,435.3 1417.6,434.7 1426.6,434.0 1435.6,433.2 1444.6,432.2 1453.5,430.7 1462.5,428.0"/><path d="M1127.7,442.1 1136.3,440.0 1144.9,437.7 1153.5,435.1 1162.1,432.4 1170.7,429.4 1179.3,426.1 1187.9,422.5 1196.5,418.6 1205.2,414.3 1213.8,409.5 1222.4,404.4 1231.1,398.7 1239.7,392.5 1248.4,385.7 1257.0,378.2 1266.3,370.1 1275.5,361.2 1284.8,351.5 1294.1,341.1 1303.3,329.7 1312.6,317.4 1321.9,304.2 1331.1,290.0 1340.2,274.8 1349.4,258.6 1358.6,241.5 1367.7,223.5 1376.9,204.6 1386.0,184.9 1395.2,164.5 1404.2,143.5 1413.1,121.9 1422.1,100.1 1431.1,78.0 1440.1,55.9 1449.0,49.7"/><path d="M1048.3,440.8 1058.9,439.9 1069.5,438.9 1080.1,438.0 1090.6,436.9 1101.2,435.8 1111.8,434.7 1122.4,433.4 1132.0,432.0 1140.6,430.6 1149.2,429.0 1157.8,427.3 1166.4,425.3 1175.0,423.3 1183.6,420.9 1192.2,418.4 1200.8,415.6 1209.5,412.5 1218.1,409.1 1226.8,405.3 1235.4,401.2 1244.0,396.8 1252.7,392.0 1261.6,386.8 1270.9,381.3 1280.2,375.5 1289.4,369.5 1298.7,363.2 1308.0,356.8 1317.2,350.4 1326.5,343.9 1335.7,337.6 1344.8,331.5 1354.0,325.5 1363.1,319.9 1372.3,314.5 1381.5,309.5 1390.6,304.9 1399.7,300.6 1408.7,296.7 1417.6,293.1 1426.6,289.8 1435.6,286.9 1444.6,284.2 1453.5,281.8 1462.5,279.6"/><path d="M1192.2,408.3 1200.8,407.2 1209.5,406.2 1218.1,405.1 1226.8,404.1 1235.4,403.0 1244.0,402.0 1252.7,400.9 1261.6,399.8 1270.9,398.8 1280.2,397.7 1289.4,396.6 1298.7,395.6 1308.0,394.5 1317.2,393.3 1326.5,392.2 1335.7,391.0 1344.8,389.7 1354.0,388.2 1363.1,386.5 1372.3,384.5 1381.5,381.9 1390.6,378.5 1399.7,373.8 1408.7,367.1 1417.6,357.4 1426.6,343.5 1435.6,323.6 1444.6,296.1 1453.5,259.6 1462.5,214.2"/><path d="M1257.0,303.6 1266.3,287.7 1275.5,269.9 1284.8,249.8 1294.1,227.3 1303.3,202.2 1312.6,174.4 1321.9,143.6 1331.1,109.9 1340.2,73.0 1349.4,49.7"/><path d="M1048.3,420.5 1058.9,416.9 1069.5,413.1 1080.1,409.1 1090.6,404.7 1101.2,399.9 1111.8,394.8 1122.4,389.3 1132.0,383.2 1140.6,376.7 1149.2,369.6 1157.8,361.8 1166.4,353.4 1175.0,344.2 1183.6,334.2 1192.2,323.3 1200.8,311.5 1209.5,298.7 1218.1,284.9 1226.8,270.0 1235.4,254.0 1244.0,236.9 1252.7,218.6 1261.6,199.2 1270.9,178.8 1280.2,157.3 1289.4,134.8 1298.7,111.5 1308.0,87.5 1317.2,62.9 1326.5,49.7"/><path d="M1048.3,413.5 1058.9,413.4 1069.5,413.3 1080.1,413.3 1090.6,413.2 1101.2,413.1 1111.8,412.9 1122.4,412.7 1132.0,412.4 1140.6,411.9 1149.2,411.3 1157.8,410.4 1166.4,409.1 1175.0,407.2 1183.6,404.4 1192.2,400.4 1200.8,394.8 1209.5,386.9 1218.1,376.2 1226.8,362.2 1235.4,344.6 1244.0,323.8 1252.7,300.8 1261.6,277.1 1270.9,254.6 1280.2,234.7 1289.4,218.2 1298.7,205.3 1308.0,195.5 1317.2,188.4 1326.5,183.3 1335.7,179.8 1344.8,177.3 1354.0,175.6 1363.1,174.4 1372.3,173.6 1381.5,173.0 1390.6,172.6 1399.7,172.3 1408.7,172.1 1417.6,172.0 1426.6,171.9 1435.6,171.8 1444.6,171.7 1453.5,171.7 1462.5,171.6"/><path d="M1048.3,448.8 1058.9,447.1 1069.5,445.5 1080.1,443.9 1090.6,442.2 1101.2,440.6 1111.8,438.9 1122.4,437.3 1132.0,435.6 1140.6,433.9 1149.2,432.2 1157.8,430.5 1166.4,428.8 1175.0,427.1 1183.6,425.3 1192.2,423.5 1200.8,421.6 1209.5,419.7 1218.1,417.8 1226.8,415.7 1235.4,413.6 1244.0,411.3 1252.7,408.8 1261.6,406.2 1270.9,403.3 1280.2,400.2 1289.4,396.7 1298.7,392.7 1308.0,388.2 1317.2,383.0 1326.5,377.1 1335.7,370.1 1344.8,362.0 1354.0,352.5 1363.1,341.3 1372.3,328.1 1381.5,312.7 1390.6,294.6 1399.7,273.7 1408.7,249.5 1417.6,222.0 1426.6,190.9 1435.6,156.4 1444.6,118.8 1453.5,78.4 1462.5,49.7"/><path d="M1048.3,414.6 1058.9,413.4 1069.5,412.2 1080.1,411.0 1090.6,409.7 1101.2,408.5 1111.8,407.2 1122.4,405.8 1132.0,404.5 1140.6,403.0 1149.2,401.5 1157.8,399.9 1166.4,398.2 1175.0,396.3 1183.6,394.2 1192.2,391.8 1200.8,389.1 1209.5,386.0 1218.1,382.3 1226.8,377.8 1235.4,372.6 1244.0,366.2 1252.7,358.6 1261.6,349.4 1270.9,338.6 1280.2,325.8 1289.4,311.0 1298.7,294.2 1308.0,275.6 1317.2,255.7 1326.5,234.8 1335.7,213.8 1344.8,193.2 1354.0,173.6 1363.1,155.7 1372.3,139.6 1381.5,125.5 1390.6,113.4 1399.7,103.2 1408.7,94.6 1417.6,87.5 1426.6,81.5 1435.6,76.6 1444.6,72.5 1453.5,69.0 1462.5,66.0"/><path d="M1192.2,396.4 1200.8,395.2 1209.5,394.0 1218.1,392.9 1226.8,391.7 1235.4,390.5 1244.0,389.3 1252.7,388.2 1261.6,387.0 1270.9,385.8 1280.2,384.6 1289.4,383.4 1298.7,382.2 1308.0,381.0 1317.2,379.8 1326.5,378.5 1335.7,377.2 1344.8,375.7 1354.0,374.0 1363.1,371.9 1372.3,369.0 1381.5,364.8 1390.6,358.3 1399.7,348.1 1408.7,331.7 1417.6,306.4 1426.6,269.5 1435.6,220.9 1444.6,165.1 1453.5,110.6 1462.5,64.8"/><path d="M1127.7,440.7 1136.3,439.6 1144.9,438.4 1153.5,437.3 1162.1,436.1 1170.7,434.9 1179.3,433.8 1187.9,432.6 1196.5,431.5 1205.2,430.3 1213.8,429.2 1222.4,428.0 1231.1,426.9 1239.7,425.7 1248.4,424.5 1257.0,423.4 1266.3,422.2 1275.5,421.1 1284.8,419.9 1294.1,418.8 1303.3,417.6 1312.6,416.4 1321.9,415.2 1331.1,414.0 1340.2,412.8 1349.4,411.4 1358.6,409.9 1367.7,408.1 1376.9,405.8 1386.0,402.5 1395.2,397.4"/><path d="M1192.2,366.1 1200.8,359.8 1209.5,353.0 1218.1,345.3 1226.8,337.0 1235.4,327.8 1244.0,317.8 1252.7,306.8 1261.6,294.9 1270.9,281.9 1280.2,268.0 1289.4,253.0 1298.7,237.0 1308.0,219.9 1317.2,201.8 1326.5,182.8 1335.7,162.9 1344.8,142.2 1354.0,120.8 1363.1,98.9 1372.3,76.5 1381.5,53.9 1390.6,49.7"/><path d="M1048.3,449.0 1058.9,448.5 1069.5,447.9 1080.1,447.4 1090.6,446.8 1101.2,446.2 1111.8,445.7 1122.4,445.1 1132.0,444.5 1140.6,444.0 1149.2,443.4 1157.8,442.8 1166.4,442.2 1175.0,441.6 1183.6,440.9 1192.2,440.2 1200.8,439.5 1209.5,438.7 1218.1,437.9 1226.8,437.0 1235.4,436.0 1244.0,434.8 1252.7,433.4 1261.6,431.8 1270.9,429.9 1280.2,427.6 1289.4,424.7 1298.7,421.2 1308.0,416.8 1317.2,411.2 1326.5,404.3 1335.7,395.5 1344.8,384.4 1354.0,370.5 1363.1,353.1 1372.3,331.4 1381.5,304.7 1390.6,272.2 1399.7,233.3 1408.7,187.5 1417.6,134.8 1426.6,75.8 1435.6,49.7"/><path d="M1048.3,426.5 1058.9,424.9 1069.5,423.2 1080.1,421.1 1090.6,418.8 1101.2,416.2 1111.8,413.2 1122.4,409.9 1132.0,406.1 1140.6,401.7 1149.2,396.8 1157.8,391.2 1166.4,384.8 1175.0,377.6 1183.6,369.4 1192.2,360.1 1200.8,349.7 1209.5,337.8 1218.1,324.5 1226.8,309.5 1235.4,292.8 1244.0,274.0 1252.7,253.2 1261.6,230.1 1270.9,204.6 1280.2,176.6 1289.4,145.9 1298.7,112.7 1308.0,76.9 1317.2,49.7"/><path d="M1192.2,409.3 1200.8,407.5 1209.5,405.5 1218.1,403.5 1226.8,401.2 1235.4,398.8 1244.0,396.1 1252.7,393.1 1261.6,389.8 1270.9,386.1 1280.2,381.9 1289.4,377.0 1298.7,371.6 1308.0,365.2 1317.2,357.9 1326.5,349.5 1335.7,339.8 1344.8,328.5 1354.0,315.4 1363.1,300.2 1372.3,282.7 1381.5,262.6 1390.6,239.6 1399.7,213.5 1408.7,183.9 1417.6,150.9 1426.6,114.2 1435.6,74.0 1444.6,49.7"/><path d="M1127.7,426.5 1136.3,426.2 1144.9,426.0 1153.5,425.7 1162.1,425.4 1170.7,425.2 1179.3,424.8 1187.9,424.5 1196.5,424.1 1205.2,423.7 1213.8,423.3 1222.4,422.8 1231.1,422.2 1239.7,421.5 1248.4,420.8 1257.0,419.8 1266.3,418.8 1275.5,417.5 1284.8,416.0 1294.1,414.2 1303.3,412.0 1312.6,409.5 1321.9,406.5 1331.1,403.0 1340.2,398.9 1349.4,394.1 1358.6,388.7 1367.7,382.6 1376.9,375.9 1386.0,368.5 1395.2,360.7 1404.2,352.4 1413.1,344.0 1422.1,335.7 1431.1,327.5 1440.1,319.6 1449.0,312.3 1458.0,305.6"/><path d="M1257.0,366.3 1266.3,357.7 1275.5,348.1 1284.8,337.3 1294.1,325.3 1303.3,312.4 1312.6,298.7 1321.9,284.4 1331.1,269.9 1340.2,255.5 1349.4,241.5 1358.6,228.1 1367.7,215.7 1376.9,204.3 1386.0,194.0 1395.2,184.9 1404.2,176.9 1413.1,169.9 1422.1,163.9 1431.1,158.8 1440.1,154.4 1449.0,150.6 1458.0,147.4"/><path d="M1048.3,418.4 1058.9,416.5 1069.5,414.5 1080.1,412.3 1090.6,410.0 1101.2,407.4 1111.8,404.5 1122.4,401.4 1132.0,397.9 1140.6,394.2 1149.2,390.0 1157.8,385.4 1166.4,380.4 1175.0,374.8 1183.6,368.6 1192.2,361.8 1200.8,354.3 1209.5,346.0 1218.1,336.8 1226.8,326.7 1235.4,315.6 1244.0,303.5 1252.7,290.1 1261.6,275.4 1270.9,259.5 1280.2,242.1 1289.4,223.2 1298.7,202.7 1308.0,180.7 1317.2,157.0 1326.5,131.7 1335.7,104.8 1344.8,76.2 1354.0,49.7"/><path d="M1048.3,418.9 1058.9,418.4 1069.5,418.0 1080.1,417.5 1090.6,417.1 1101.2,416.7 1111.8,416.2 1122.4,415.8 1132.0,415.3 1140.6,414.9 1149.2,414.4 1157.8,414.0 1166.4,413.6 1175.0,413.1 1183.6,412.7 1192.2,412.2 1200.8,411.8 1209.5,411.3 1218.1,410.9 1226.8,410.4 1235.4,410.0 1244.0,409.5 1252.7,409.1 1261.6,408.6 1270.9,408.1 1280.2,407.5 1289.4,406.9 1298.7,406.2 1308.0,405.3 1317.2,404.1 1326.5,402.5 1335.7,400.1 1344.8,396.6 1354.0,391.4 1363.1,383.6 1372.3,372.5 1381.5,357.2 1390.6,337.8 1399.7,315.3 1408.7,292.1 1417.6,270.7 1426.6,252.9 1435.6,239.5 1444.6,229.9 1453.5,223.3 1462.5,218.9"/><path d="M1048.3,425.5 1058.9,424.3 1069.5,423.1 1080.1,421.9 1090.6,420.6 1101.2,419.4 1111.8,418.2 1122.4,417.0 1132.0,415.8 1140.6,414.5 1149.2,413.3 1157.8,412.1 1166.4,410.9 1175.0,409.7 1183.6,408.5 1192.2,407.2 1200.8,406.0 1209.5,404.8 1218.1,403.6 1226.8,402.4 1235.4,401.1 1244.0,399.9 1252.7,398.7 1261.6,397.5 1270.9,396.2 1280.2,395.0 1289.4,393.7 1298.7,392.4 1308.0,391.1 1317.2,389.7 1326.5,388.2 1335.7,386.5 1344.8,384.6 1354.0,382.2 1363.1,379.1 1372.3,375.0 1381.5,369.1 1390.6,360.8 1399.7,348.8 1408.7,331.9 1417.6,309.2 1426.6,280.6 1435.6,247.5 1444.6,213.2 1453.5,181.1 1462.5,154.0"/><path d="M1192.2,395.8 1200.8,384.3 1209.5,371.4 1218.1,357.3 1226.8,342.2 1235.4,326.5 1244.0,310.6 1252.7,295.1 1261.6,280.3 1270.9,266.6 1280.2,254.1 1289.4,243.1 1298.7,233.5 1308.0,225.2 1317.2,218.2 1326.5,212.3 1335.7,207.3 1344.8,203.1 1354.0,199.6 1363.1,196.6 1372.3,194.0 1381.5,191.8 1390.6,189.8 1399.7,188.1 1408.7,186.5 1417.6,185.1 1426.6,183.8 1435.6,182.5 1444.6,181.4 1453.5,180.3 1462.5,179.2"/><path d="M1048.3,459.8 1058.9,459.2 1069.5,458.6 1080.1,457.9 1090.6,457.3 1101.2,456.7 1111.8,456.0 1122.4,455.4 1132.0,454.8 1140.6,454.2 1149.2,453.5 1157.8,452.9 1166.4,452.3 1175.0,451.6 1183.6,451.0 1192.2,450.4 1200.8,449.8 1209.5,449.1 1218.1,448.5 1226.8,447.9 1235.4,447.2 1244.0,446.6 1252.7,445.9 1261.6,445.3 1270.9,444.6 1280.2,444.0 1289.4,443.3 1298.7,442.6 1308.0,441.9 1317.2,441.1 1326.5,440.3 1335.7,439.4 1344.8,438.4 1354.0,437.3 1363.1,436.0 1372.3,434.5 1381.5,432.6 1390.6,430.3 1399.7,427.4 1408.7,423.6 1417.6,418.7 1426.6,412.3 1435.6,404.0 1444.6,393.2 1453.5,379.1 1462.5,361.1"/><path d="M1127.7,384.9 1136.3,381.4 1144.9,377.5 1153.5,373.1 1162.1,368.2 1170.7,362.5 1179.3,356.3 1187.9,349.2 1196.5,341.4 1205.2,332.8 1213.8,323.5 1222.4,313.3 1231.1,302.5 1239.7,291.1 1248.4,279.2 1257.0,267.0 1266.3,254.7 1275.5,242.4 1284.8,230.3 1294.1,218.7 1303.3,207.5 1312.6,197.1 1321.9,187.3 1331.1,178.4 1340.2,170.2 1349.4,162.8 1358.6,156.2 1367.7,150.3 1376.9,145.0 1386.0,140.3 1395.2,136.2 1404.2,132.5 1413.1,129.3 1422.1,126.4 1431.1,123.9 1440.1,121.6 1449.0,119.5 1458.0,117.6"/><path d="M1127.7,406.5 1136.3,403.8 1144.9,400.8 1153.5,397.4 1162.1,393.7 1170.7,389.5 1179.3,384.8 1187.9,379.5 1196.5,373.7 1205.2,367.1 1213.8,359.6 1222.4,351.3 1231.1,341.9 1239.7,331.4 1248.4,319.7 1257.0,306.5 1266.3,291.8 1275.5,275.4 1284.8,257.3 1294.1,237.3 1303.3,215.2 1312.6,191.1 1321.9,164.9 1331.1,136.5 1340.2,106.0 1349.4,73.5 1358.6,49.7"/><path d="M1048.3,434.2 1058.9,431.6 1069.5,428.9 1080.1,426.1 1090.6,423.1 1101.2,419.9 1111.8,416.4 1122.4,412.6 1132.0,408.6 1140.6,404.2 1149.2,399.4 1157.8,394.2 1166.4,388.4 1175.0,382.1 1183.6,375.1 1192.2,367.4 1200.8,358.9 1209.5,349.5 1218.1,339.1 1226.8,327.5 1235.4,314.7 1244.0,300.6 1252.7,285.0 1261.6,267.8 1270.9,248.9 1280.2,228.3 1289.4,205.7 1298.7,181.3 1308.0,154.8 1317.2,126.3 1326.5,95.9 1335.7,63.7 1344.8,49.7"/><path d="M1257.0,427.8 1266.3,427.6 1275.5,427.5 1284.8,427.4 1294.1,427.2 1303.3,427.1 1312.6,427.0 1321.9,426.8 1331.1,426.7 1340.2,426.5 1349.4,426.3 1358.6,426.0 1367.7,425.6 1376.9,424.9 1386.0,423.8 1395.2,422.0 1404.2,419.0 1413.1,413.8 1422.1,405.2 1431.1,391.5 1440.1,371.0 1449.0,343.4 1458.0,311.0"/><path d="M1127.7,373.4 1136.3,367.0 1144.9,360.0 1153.5,352.1 1162.1,343.4 1170.7,333.9 1179.3,323.6 1187.9,312.5 1196.5,300.8 1205.2,288.5 1213.8,275.9 1222.4,262.9 1231.1,250.0 1239.7,237.2 1248.4,224.8 1257.0,212.8 1266.3,201.5 1275.5,190.9 1284.8,181.0 1294.1,172.0 1303.3,163.9 1312.6,156.5 1321.9,149.9 1331.1,144.0 1340.2,138.7 1349.4,134.0 1358.6,129.8 1367.7,126.1 1376.9,122.8 1386.0,119.9 1395.2,117.2"/><path d="M1257.0,428.2 1266.3,427.5 1275.5,426.8 1284.8,426.0 1294.1,425.3 1303.3,424.5 1312.6,423.7 1321.9,422.9 1331.1,422.1 1340.2,421.2 1349.4,420.2 1358.6,419.2 1367.7,417.9 1376.9,416.5 1386.0,414.9 1395.2,412.8 1404.2,410.3 1413.1,407.0 1422.1,402.7 1431.1,397.1 1440.1,389.6 1449.0,379.8 1458.0,366.8"/><path d="M1192.2,433.9 1200.8,428.4 1209.5,422.0 1218.1,414.3 1226.8,405.3 1235.4,394.8 1244.0,382.4 1252.7,368.0 1261.6,351.5 1270.9,332.6 1280.2,311.4 1289.4,287.7 1298.7,261.9 1308.0,234.1 1317.2,204.8 1326.5,174.6 1335.7,144.0 1344.8,113.8 1354.0,84.5 1363.1,56.7 1372.3,49.7"/><path d="M1127.7,418.6 1136.3,417.2 1144.9,415.7 1153.5,414.0 1162.1,412.1 1170.7,410.0 1179.3,407.6 1187.9,404.8 1196.5,401.6 1205.2,398.0 1213.8,393.9 1222.4,389.3 1231.1,384.0 1239.7,378.1 1248.4,371.5 1257.0,364.2 1266.3,356.3 1275.5,347.9 1284.8,338.9 1294.1,329.6 1303.3,320.0 1312.6,310.4 1321.9,300.9 1331.1,291.7 1340.2,283.0 1349.4,274.8 1358.6,267.1 1367.7,260.2 1376.9,253.9 1386.0,248.3 1395.2,243.3 1404.2,238.9 1413.1,235.1 1422.1,231.7 1431.1,228.7 1440.1,226.1 1449.0,223.8 1458.0,221.8"/><path d="M1048.3,443.2 1058.9,442.9 1069.5,442.5 1080.1,442.1 1090.6,441.8 1101.2,441.4 1111.8,441.0 1122.4,440.7 1132.0,440.3 1140.6,439.9 1149.2,439.6 1157.8,439.2 1166.4,438.8 1175.0,438.5 1183.6,438.1 1192.2,437.7 1200.8,437.4 1209.5,437.0 1218.1,436.6 1226.8,436.3 1235.4,435.9 1244.0,435.5 1252.7,435.2 1261.6,434.8 1270.9,434.4 1280.2,434.0 1289.4,433.6 1298.7,433.2 1308.0,432.8 1317.2,432.3 1326.5,431.8 1335.7,431.2 1344.8,430.6 1354.0,429.7 1363.1,428.7 1372.3,427.2 1381.5,425.3 1390.6,422.5"/><path d="M1048.3,454.2 1058.9,454.0 1069.5,453.7 1080.1,453.4 1090.6,453.1 1101.2,452.8 1111.8,452.6 1122.4,452.3 1132.0,452.0 1140.6,451.7 1149.2,451.4 1157.8,451.2 1166.4,450.9 1175.0,450.6 1183.6,450.3 1192.2,450.0 1200.8,449.8 1209.5,449.5 1218.1,449.2 1226.8,448.9 1235.4,448.6 1244.0,448.4 1252.7,448.1 1261.6,447.8 1270.9,447.5 1280.2,447.2 1289.4,446.9 1298.7,446.6 1308.0,446.3 1317.2,446.0 1326.5,445.6 1335.7,445.1 1344.8,444.5 1354.0,443.5 1363.1,442.1 1372.3,439.6 1381.5,435.5 1390.6,428.4 1399.7,416.2 1408.7,396.0 1417.6,364.2 1426.6,318.4 1435.6,260.4 1444.6,197.7 1453.5,140.9 1462.5,96.7"/><path d="M1048.3,463.1 1058.9,463.1 1069.5,463.0 1080.1,463.0 1090.6,462.9 1101.2,462.8 1111.8,462.7 1122.4,462.6 1132.0,462.5 1140.6,462.3 1149.2,462.2 1157.8,461.9 1166.4,461.7 1175.0,461.4 1183.6,461.0 1192.2,460.4 1200.8,459.8 1209.5,459.0 1218.1,458.0 1226.8,456.8 1235.4,455.2 1244.0,453.2 1252.7,450.6 1261.6,447.4 1270.9,443.4 1280.2,438.4 1289.4,432.1 1298.7,424.3 1308.0,414.6 1317.2,402.8 1326.5,388.3 1335.7,370.8 1344.8,350.1 1354.0,325.7 1363.1,297.7 1372.3,266.2 1381.5,231.4 1390.6,194.1 1399.7,155.2 1408.7,115.7 1417.6,76.9 1426.6,49.7"/><path d="M1048.3,458.8 1058.9,457.2 1069.5,455.6 1080.1,454.0 1090.6,452.5 1101.2,450.9 1111.8,449.3 1122.4,447.7 1132.0,446.1 1140.6,444.5 1149.2,443.0 1157.8,441.4 1166.4,439.8 1175.0,438.2 1183.6,436.6 1192.2,435.0 1200.8,433.4 1209.5,431.9 1218.1,430.3 1226.8,428.7 1235.4,427.1 1244.0,425.5 1252.7,423.9 1261.6,422.4 1270.9,420.8 1280.2,419.2 1289.4,417.6 1298.7,416.0 1308.0,414.4 1317.2,412.9 1326.5,411.3 1335.7,409.7 1344.8,408.1 1354.0,406.5 1363.1,404.9 1372.3,403.2 1381.5,401.4 1390.6,399.3 1399.7,396.7 1408.7,392.9 1417.6,386.7 1426.6,375.5 1435.6,354.7 1444.6,317.7 1453.5,259.2 1462.5,184.0"/></g>
<path d="M1048.8,56.0 L1048.8,469.5 L1463.5,469.5" fill="none" stroke="#231f20" stroke-width="2"/>
<line x1="1048.8" y1="469.5" x2="1055" y2="469.5" stroke="#231f20" stroke-width="1.8"/>
<text x="1032.0" y="480.8" font-size="31.5" fill="#231f20" text-anchor="end" font-weight="normal" font-style="normal" >0</text>
<line x1="1048.8" y1="387.5" x2="1055" y2="387.5" stroke="#231f20" stroke-width="1.8"/>
<text x="1032.0" y="398.8" font-size="31.5" fill="#231f20" text-anchor="end" font-weight="normal" font-style="normal" >0.5</text>
<line x1="1048.8" y1="305.5" x2="1055" y2="305.5" stroke="#231f20" stroke-width="1.8"/>
<text x="1032.0" y="316.8" font-size="31.5" fill="#231f20" text-anchor="end" font-weight="normal" font-style="normal" >1</text>
<line x1="1048.8" y1="223.5" x2="1055" y2="223.5" stroke="#231f20" stroke-width="1.8"/>
<text x="1032.0" y="234.8" font-size="31.5" fill="#231f20" text-anchor="end" font-weight="normal" font-style="normal" >1.5</text>
<line x1="1048.8" y1="141.5" x2="1055" y2="141.5" stroke="#231f20" stroke-width="1.8"/>
<text x="1032.0" y="152.8" font-size="31.5" fill="#231f20" text-anchor="end" font-weight="normal" font-style="normal" >2</text>
<line x1="1048.8" y1="59.5" x2="1055" y2="59.5" stroke="#231f20" stroke-width="1.8"/>
<text x="1032.0" y="70.8" font-size="31.5" fill="#231f20" text-anchor="end" font-weight="normal" font-style="normal" >2.5</text>
<line x1="1048.3" y1="469.5" x2="1048.3" y2="463.5" stroke="#231f20" stroke-width="1.8"/>
<text x="1039.3" y="512.8" font-size="31.5" fill="#231f20" text-anchor="middle" font-weight="normal" font-style="normal" >-18</text>
<line x1="1127.7" y1="469.5" x2="1127.7" y2="463.5" stroke="#231f20" stroke-width="1.8"/>
<text x="1109.3" y="512.8" font-size="31.5" fill="#231f20" text-anchor="middle" font-weight="normal" font-style="normal" >-15</text>
<line x1="1192.2" y1="469.5" x2="1192.2" y2="463.5" stroke="#231f20" stroke-width="1.8"/>
<text x="1178.8" y="512.8" font-size="31.5" fill="#231f20" text-anchor="middle" font-weight="normal" font-style="normal" >-12</text>
<line x1="1257.0" y1="469.5" x2="1257.0" y2="463.5" stroke="#231f20" stroke-width="1.8"/>
<text x="1248.3" y="512.8" font-size="31.5" fill="#231f20" text-anchor="middle" font-weight="normal" font-style="normal" >-9</text>
<line x1="1326.5" y1="469.5" x2="1326.5" y2="463.5" stroke="#231f20" stroke-width="1.8"/>
<text x="1317.8" y="512.8" font-size="31.5" fill="#231f20" text-anchor="middle" font-weight="normal" font-style="normal" >-6</text>
<line x1="1395.2" y1="469.5" x2="1395.2" y2="463.5" stroke="#231f20" stroke-width="1.8"/>
<text x="1387.3" y="512.8" font-size="31.5" fill="#231f20" text-anchor="middle" font-weight="normal" font-style="normal" >-3</text>
<line x1="1462.5" y1="469.5" x2="1462.5" y2="463.5" stroke="#231f20" stroke-width="1.8"/>
<text x="1456.1" y="512.8" font-size="31.5" fill="#231f20" text-anchor="middle" font-weight="normal" font-style="normal" >0</text>
<text x="1256.0" y="555.0" font-size="31" fill="#231f20" text-anchor="middle" font-weight="normal" font-style="normal" >AM Depth (dB re: 100%)</text>
<text transform="translate(967.2,264.0) rotate(-90)" font-size="31" fill="#231f20" text-anchor="middle">d-prime</text>
<line x1="1049" y1="305.5" x2="1462" y2="305.5" stroke="#231f20" stroke-width="2" stroke-dasharray="11,6"/>
<path d="M1092.5,415.5 1096.9,413.6 1101.3,411.8 1105.7,409.9 1110.1,408.0 1114.5,406.1 1119.0,404.2 1123.4,402.3 1127.8,400.4 1131.3,398.5 1134.9,396.6 1138.5,394.7 1142.1,392.7 1145.7,390.8 1149.3,388.9 1152.8,386.9 1156.4,385.0 1160.0,383.0 1163.6,381.0 1167.2,379.0 1170.8,377.0 1174.3,375.0 1177.9,373.0 1181.5,371.0 1185.1,369.0 1188.7,366.9 1192.2,364.8 1195.8,362.8 1199.4,360.7 1203.0,358.6 1206.6,356.5 1210.2,354.3 1213.8,352.2 1217.4,350.0 1221.0,347.8 1224.6,345.6 1228.2,343.4 1231.8,341.1 1235.4,338.9 1239.0,336.6 1242.6,334.2 1246.2,331.9 1249.8,329.5 1253.4,327.1 1257.0,324.6 1260.9,322.1 1264.8,319.6 1268.6,317.0 1272.5,314.4 1276.3,311.7 1280.2,309.0 1284.1,306.2 1287.9,303.3 1291.8,300.4 1295.6,297.4 1299.5,294.2 1303.4,291.0 1307.2,287.7 1311.1,284.3 1314.9,280.8 1318.8,277.1 1322.7,273.2 1326.5,269.2 1330.3,264.9 1334.1,260.4 1338.0,255.6 1341.8,250.6 1345.6,245.1 1349.4,239.3 1353.2,232.9 1357.0,225.9 1360.9,218.2 1364.7,209.7 1368.5,200.0 1372.3,189.0 1376.1,176.2 1379.9,161.2 1383.8,143.1 1387.6,120.7 1391.4,92.1 1395.2,54.0" fill="none" stroke="#14b3b0" stroke-width="8.5"/>
<circle cx="1283.4" cy="305.2" r="9.3" fill="#14b3b0" stroke="#1d3f40" stroke-width="1.6"/>
<text x="1066.0" y="87.3" font-size="31" fill="#14b3b0" text-anchor="start" font-weight="normal" font-style="normal" >Ctrl (n=77)</text>
<text x="908.0" y="37.9" font-size="52" fill="#231f20" text-anchor="start" font-weight="bold" font-style="normal" >d</text>
<defs><clipPath id="clip1033"><rect x="1048" y="618" width="420" height="415.5999999999999"/></clipPath></defs>
<g clip-path="url(#clip1033)" fill="none" stroke="#f37d7d" stroke-width="2" stroke-opacity="0.32"><path d="M1192.2,959.3 1200.8,956.7 1209.5,954.0 1218.1,951.0 1226.8,947.7 1235.4,944.1 1244.0,940.1 1252.7,935.9 1261.6,931.2 1270.9,926.2 1280.2,920.7 1289.4,914.8 1298.7,908.5 1308.0,901.7 1317.2,894.4 1326.5,886.7 1335.7,878.4 1344.8,869.6 1354.0,860.4 1363.1,850.7 1372.3,840.5 1381.5,830.0 1390.6,819.0 1399.7,807.7 1408.7,796.1 1417.6,784.3 1426.6,772.3 1435.6,760.2 1444.6,748.1 1453.5,736.0 1462.5,724.0"/><path d="M1192.2,960.5 1200.8,954.5 1209.5,947.8 1218.1,940.3 1226.8,932.0 1235.4,922.8 1244.0,912.7 1252.7,901.5 1261.6,889.1 1270.9,875.5 1280.2,860.7 1289.4,844.4 1298.7,826.7 1308.0,807.4 1317.2,786.6 1326.5,764.1 1335.7,740.1 1344.8,714.4 1354.0,687.1 1363.1,658.2 1372.3,628.0 1381.5,612.7"/><path d="M1127.7,963.6 1136.3,962.4 1144.9,961.2 1153.5,960.0 1162.1,958.7 1170.7,957.5 1179.3,956.3 1187.9,955.0 1196.5,953.8 1205.2,952.5 1213.8,951.3 1222.4,950.0 1231.1,948.8 1239.7,947.5 1248.4,946.2 1257.0,944.9 1266.3,943.5 1275.5,942.1 1284.8,940.6 1294.1,939.0 1303.3,937.4 1312.6,935.5 1321.9,933.5 1331.1,931.2 1340.2,928.5 1349.4,925.3 1358.6,921.5 1367.7,916.9 1376.9,911.2 1386.0,904.3 1395.2,895.8 1404.2,885.5 1413.1,873.2 1422.1,858.8 1431.1,842.5 1440.1,824.7 1449.0,805.9 1458.0,786.8"/><path d="M1048.3,989.6 1058.9,989.2 1069.5,988.9 1080.1,988.6 1090.6,988.2 1101.2,987.9 1111.8,987.5 1122.4,987.2 1132.0,986.8 1140.6,986.5 1149.2,986.1 1157.8,985.8 1166.4,985.4 1175.0,985.1 1183.6,984.8 1192.2,984.4 1200.8,984.1 1209.5,983.7 1218.1,983.4 1226.8,983.0 1235.4,982.7 1244.0,982.3 1252.7,982.0 1261.6,981.6 1270.9,981.3 1280.2,980.9 1289.4,980.5 1298.7,980.1 1308.0,979.7 1317.2,979.2 1326.5,978.5 1335.7,977.6 1344.8,976.3 1354.0,974.2 1363.1,971.0 1372.3,965.6 1381.5,956.8 1390.6,942.5 1399.7,920.2 1408.7,887.5 1417.6,843.8 1426.6,792.6 1435.6,740.5 1444.6,695.0 1453.5,660.2 1462.5,636.0"/><path d="M1048.3,997.5 1058.9,995.1 1069.5,992.7 1080.1,990.2 1090.6,987.4 1101.2,984.5 1111.8,981.4 1122.4,978.1 1132.0,974.5 1140.6,970.5 1149.2,966.3 1157.8,961.6 1166.4,956.5 1175.0,950.9 1183.6,944.7 1192.2,938.0 1200.8,930.5 1209.5,922.3 1218.1,913.4 1226.8,903.6 1235.4,892.9 1244.0,881.2 1252.7,868.6 1261.6,855.0 1270.9,840.4 1280.2,824.9 1289.4,808.5 1298.7,791.3 1308.0,773.5 1317.2,755.1 1326.5,736.3 1335.7,717.4 1344.8,698.4 1354.0,679.6 1363.1,661.1 1372.3,643.2 1381.5,625.9 1390.6,612.7"/><path d="M1127.7,1012.4 1136.3,1010.1 1144.9,1007.5 1153.5,1004.7 1162.1,1001.5 1170.7,998.0 1179.3,994.1 1187.9,989.5 1196.5,984.4 1205.2,978.4 1213.8,971.5 1222.4,963.5 1231.1,954.4 1239.7,943.9 1248.4,932.0 1257.0,918.6 1266.3,903.9 1275.5,887.9 1284.8,870.9 1294.1,853.2 1303.3,835.2 1312.6,817.2 1321.9,799.8 1331.1,783.3 1340.2,767.9 1349.4,753.9 1358.6,741.3 1367.7,730.1 1376.9,720.3 1386.0,711.8 1395.2,704.4 1404.2,698.0 1413.1,692.4 1422.1,687.6 1431.1,683.4 1440.1,679.6 1449.0,676.3 1458.0,673.4"/><path d="M1048.3,1023.7 1058.9,1023.5 1069.5,1023.3 1080.1,1023.1 1090.6,1022.9 1101.2,1022.6 1111.8,1022.4 1122.4,1022.2 1132.0,1021.9 1140.6,1021.7 1149.2,1021.4 1157.8,1021.2 1166.4,1020.9 1175.0,1020.6 1183.6,1020.3 1192.2,1020.0 1200.8,1019.7 1209.5,1019.3 1218.1,1018.9 1226.8,1018.5 1235.4,1018.1 1244.0,1017.6 1252.7,1017.0 1261.6,1016.4 1270.9,1015.8 1280.2,1015.0 1289.4,1014.2 1298.7,1013.2 1308.0,1012.2 1317.2,1010.9 1326.5,1009.6 1335.7,1008.0 1344.8,1006.2 1354.0,1004.2 1363.1,1001.9 1372.3,999.3 1381.5,996.4 1390.6,993.1 1399.7,989.3 1408.7,985.2 1417.6,980.5 1426.6,975.4 1435.6,969.7 1444.6,963.6 1453.5,957.0 1462.5,949.8"/><path d="M1192.2,959.9 1200.8,955.9 1209.5,951.6 1218.1,946.8 1226.8,941.6 1235.4,935.9 1244.0,929.8 1252.7,923.0 1261.6,915.7 1270.9,907.7 1280.2,899.1 1289.4,889.8 1298.7,879.7 1308.0,868.9 1317.2,857.3 1326.5,845.0 1335.7,831.9 1344.8,818.1 1354.0,803.7 1363.1,788.6 1372.3,773.0 1381.5,757.0 1390.6,740.7"/><path d="M1257.0,934.2 1266.3,930.5 1275.5,926.2 1284.8,921.2 1294.1,915.0 1303.3,907.7 1312.6,898.8 1321.9,888.2 1331.1,875.7 1340.2,861.2 1349.4,844.8 1358.6,826.9 1367.7,808.1 1376.9,788.9 1386.0,770.2 1395.2,752.5 1404.2,736.5 1413.1,722.3 1422.1,710.2 1431.1,699.9 1440.1,691.3 1449.0,684.2 1458.0,678.3"/><path d="M1192.2,1001.2 1200.8,1000.6 1209.5,1000.1 1218.1,999.6 1226.8,999.0 1235.4,998.5 1244.0,997.9 1252.7,997.4 1261.6,996.8 1270.9,996.3 1280.2,995.7 1289.4,995.1 1298.7,994.5 1308.0,993.8 1317.2,993.0 1326.5,992.1 1335.7,990.9 1344.8,989.4 1354.0,987.2 1363.1,984.2 1372.3,979.7 1381.5,973.0 1390.6,963.0 1399.7,948.3 1408.7,927.3 1417.6,898.5 1426.6,861.4 1435.6,817.6 1444.6,770.5 1453.5,725.1 1462.5,685.5"/><path d="M1048.3,986.9 1058.9,985.9 1069.5,984.9 1080.1,983.8 1090.6,982.8 1101.2,981.6 1111.8,980.5 1122.4,979.3 1132.0,978.1 1140.6,976.8 1149.2,975.5 1157.8,974.1 1166.4,972.6 1175.0,971.1 1183.6,969.5 1192.2,967.7 1200.8,965.9 1209.5,964.0 1218.1,961.9 1226.8,959.7 1235.4,957.4 1244.0,954.8 1252.7,952.1 1261.6,949.2 1270.9,946.0 1280.2,942.6 1289.4,938.9 1298.7,934.9 1308.0,930.5 1317.2,925.9 1326.5,920.8 1335.7,915.3 1344.8,909.4 1354.0,903.0 1363.1,896.1 1372.3,888.6 1381.5,880.7 1390.6,872.1 1399.7,863.0 1408.7,853.3 1417.6,843.0 1426.6,832.1 1435.6,820.7 1444.6,808.7 1453.5,796.3 1462.5,783.3"/><path d="M1192.2,995.2 1200.8,994.6 1209.5,994.0 1218.1,993.4 1226.8,992.8 1235.4,992.2 1244.0,991.5 1252.7,990.9 1261.6,990.3 1270.9,989.7 1280.2,989.1 1289.4,988.5 1298.7,987.9 1308.0,987.2 1317.2,986.6 1326.5,986.0 1335.7,985.4 1344.8,984.8 1354.0,984.2 1363.1,983.5 1372.3,982.9 1381.5,982.2 1390.6,981.5 1399.7,980.8 1408.7,980.0 1417.6,979.0 1426.6,977.9 1435.6,976.4 1444.6,974.3 1453.5,971.4 1462.5,967.1"/><path d="M1257.0,980.9 1266.3,979.3 1275.5,977.7 1284.8,976.1 1294.1,974.5 1303.3,972.8 1312.6,971.2 1321.9,969.6 1331.1,968.0 1340.2,966.3 1349.4,964.6 1358.6,962.8 1367.7,960.7 1376.9,958.2 1386.0,954.5 1395.2,948.7 1404.2,938.4 1413.1,919.5 1422.1,884.8 1431.1,825.5 1440.1,737.2 1449.0,630.9 1458.0,612.7"/><path d="M1192.2,1009.9 1200.8,1008.4 1209.5,1006.6 1218.1,1004.2 1226.8,1000.9 1235.4,995.9 1244.0,988.4 1252.7,977.0 1261.6,960.3 1270.9,936.7 1280.2,905.9 1289.4,869.8 1298.7,832.3 1308.0,798.2 1317.2,770.6 1326.5,750.2 1335.7,736.1 1344.8,726.6 1354.0,720.4 1363.1,716.2 1372.3,713.4 1381.5,711.3 1390.6,709.7"/><path d="M1192.2,971.0 1200.8,968.6 1209.5,965.7 1218.1,962.4 1226.8,958.6 1235.4,954.3 1244.0,949.3 1252.7,943.7 1261.6,937.3 1270.9,930.1 1280.2,922.0 1289.4,913.1 1298.7,903.3 1308.0,892.7 1317.2,881.3 1326.5,869.2 1335.7,856.6 1344.8,843.6 1354.0,830.4 1363.1,817.1 1372.3,804.1 1381.5,791.5 1390.6,779.4 1399.7,767.9 1408.7,757.2 1417.6,747.4 1426.6,738.4 1435.6,730.3 1444.6,723.1 1453.5,716.6 1462.5,710.9"/><path d="M1192.2,1000.6 1200.8,999.7 1209.5,998.8 1218.1,997.9 1226.8,996.9 1235.4,996.0 1244.0,995.1 1252.7,994.2 1261.6,993.2 1270.9,992.3 1280.2,991.3 1289.4,990.4 1298.7,989.4 1308.0,988.3 1317.2,987.2 1326.5,986.0 1335.7,984.6 1344.8,982.9 1354.0,980.8 1363.1,978.0 1372.3,974.2 1381.5,968.8 1390.6,961.1 1399.7,950.2 1408.7,935.3 1417.6,915.8 1426.6,891.8 1435.6,864.7 1444.6,837.2 1453.5,811.7 1462.5,790.3"/><path d="M1127.7,959.1 1136.3,957.5 1144.9,955.9 1153.5,954.2 1162.1,952.6 1170.7,951.0 1179.3,949.3 1187.9,947.7 1196.5,946.1 1205.2,944.4 1213.8,942.8 1222.4,941.2 1231.1,939.5 1239.7,937.9 1248.4,936.3 1257.0,934.6 1266.3,933.0 1275.5,931.4 1284.8,929.7 1294.1,928.1 1303.3,926.5 1312.6,924.8 1321.9,923.2 1331.1,921.6 1340.2,919.9 1349.4,918.3 1358.6,916.6 1367.7,915.0 1376.9,913.3 1386.0,911.6 1395.2,909.8 1404.2,908.0 1413.1,905.9 1422.1,903.5 1431.1,900.3 1440.1,896.0 1449.0,889.6 1458.0,879.8"/><path d="M1127.7,1012.4 1136.3,1011.4 1144.9,1010.3 1153.5,1009.3 1162.1,1008.3 1170.7,1007.2 1179.3,1006.2 1187.9,1005.1 1196.5,1004.1 1205.2,1003.0 1213.8,1002.0 1222.4,1000.9 1231.1,999.9 1239.7,998.8 1248.4,997.8 1257.0,996.7 1266.3,995.7 1275.5,994.6 1284.8,993.5 1294.1,992.5 1303.3,991.4 1312.6,990.2 1321.9,989.0 1331.1,987.8 1340.2,986.4 1349.4,984.9 1358.6,983.0 1367.7,980.7 1376.9,977.7 1386.0,973.7 1395.2,968.0 1404.2,959.9 1413.1,948.1 1422.1,931.2 1431.1,907.3 1440.1,874.5 1449.0,831.9 1458.0,780.0"/><path d="M1048.3,975.8 1058.9,974.8 1069.5,973.7 1080.1,972.7 1090.6,971.7 1101.2,970.6 1111.8,969.6 1122.4,968.6 1132.0,967.5 1140.6,966.5 1149.2,965.4 1157.8,964.4 1166.4,963.3 1175.0,962.2 1183.6,961.1 1192.2,960.1 1200.8,959.0 1209.5,957.8 1218.1,956.7 1226.8,955.5 1235.4,954.3 1244.0,953.1 1252.7,951.8 1261.6,950.5 1270.9,949.1 1280.2,947.6 1289.4,946.0 1298.7,944.3 1308.0,942.5 1317.2,940.5 1326.5,938.2 1335.7,935.8 1344.8,933.1 1354.0,930.0 1363.1,926.6 1372.3,922.7 1381.5,918.4 1390.6,913.5 1399.7,908.1 1408.7,902.2 1417.6,895.6 1426.6,888.5 1435.6,880.9 1444.6,872.9 1453.5,864.6 1462.5,856.1"/><path d="M1257.0,985.7 1266.3,984.9 1275.5,983.8 1284.8,982.2 1294.1,979.6 1303.3,975.5 1312.6,968.9 1321.9,958.3 1331.1,942.0 1340.2,918.3 1349.4,886.8 1358.6,849.7 1367.7,811.5 1376.9,777.6 1386.0,751.0 1395.2,732.1 1404.2,719.6 1413.1,711.7 1422.1,706.8 1431.1,703.8 1440.1,701.9 1449.0,700.6 1458.0,699.8"/><path d="M1192.2,993.4 1200.8,992.0 1209.5,990.4 1218.1,988.8 1226.8,987.2 1235.4,985.4 1244.0,983.4 1252.7,981.3 1261.6,978.9 1270.9,976.2 1280.2,973.1 1289.4,969.4 1298.7,965.1 1308.0,959.9 1317.2,953.6 1326.5,946.0 1335.7,936.6 1344.8,925.1 1354.0,910.9 1363.1,893.5 1372.3,872.3 1381.5,846.6 1390.6,815.8 1399.7,779.5 1408.7,737.3 1417.6,689.3 1426.6,636.1 1435.6,612.7"/><path d="M1127.7,960.5 1136.3,958.3 1144.9,956.0 1153.5,953.6 1162.1,951.2 1170.7,948.6 1179.3,945.8 1187.9,942.9 1196.5,939.9 1205.2,936.7 1213.8,933.3 1222.4,929.7 1231.1,925.9 1239.7,921.9 1248.4,917.5 1257.0,912.9 1266.3,908.0 1275.5,902.7 1284.8,897.0 1294.1,890.9 1303.3,884.4 1312.6,877.4 1321.9,869.9 1331.1,861.8 1340.2,853.1 1349.4,843.7 1358.6,833.7 1367.7,822.9 1376.9,811.4 1386.0,799.0 1395.2,785.8 1404.2,771.6 1413.1,756.6 1422.1,740.6 1431.1,723.6 1440.1,705.6 1449.0,686.6 1458.0,666.6"/><path d="M1048.3,988.5 1058.9,988.2 1069.5,987.9 1080.1,987.6 1090.6,987.3 1101.2,987.0 1111.8,986.6 1122.4,986.1 1132.0,985.6 1140.6,985.0 1149.2,984.4 1157.8,983.6 1166.4,982.6 1175.0,981.5 1183.6,980.2 1192.2,978.5 1200.8,976.5 1209.5,974.1 1218.1,971.1 1226.8,967.4 1235.4,962.9 1244.0,957.5 1252.7,950.8 1261.6,942.6 1270.9,932.8 1280.2,920.9 1289.4,906.8 1298.7,890.0 1308.0,870.4 1317.2,847.8 1326.5,822.0 1335.7,793.3 1344.8,761.8 1354.0,728.1 1363.1,692.9 1372.3,656.8 1381.5,621.0 1390.6,612.7"/><path d="M1326.5,929.9 1335.7,921.5 1344.8,911.4 1354.0,899.3 1363.1,885.2 1372.3,869.5 1381.5,852.4 1390.6,834.7"/><path d="M1127.7,1019.3 1136.3,1019.2 1144.9,1019.0 1153.5,1018.8 1162.1,1018.7 1170.7,1018.5 1179.3,1018.3 1187.9,1018.2 1196.5,1018.0 1205.2,1017.8 1213.8,1017.7 1222.4,1017.5 1231.1,1017.3 1239.7,1017.1 1248.4,1017.0 1257.0,1016.8 1266.3,1016.6 1275.5,1016.5 1284.8,1016.3 1294.1,1016.1 1303.3,1016.0 1312.6,1015.8 1321.9,1015.6 1331.1,1015.4 1340.2,1015.3 1349.4,1015.1 1358.6,1014.9 1367.7,1014.7 1376.9,1014.5 1386.0,1014.3 1395.2,1014.0 1404.2,1013.6 1413.1,1013.0 1422.1,1012.0 1431.1,1010.4 1440.1,1007.5 1449.0,1002.5 1458.0,993.7"/><path d="M1257.0,924.7 1266.3,911.4 1275.5,895.0 1284.8,875.0 1294.1,850.8 1303.3,821.7 1312.6,787.2 1321.9,746.9 1331.1,700.8 1340.2,649.0 1349.4,612.7"/><path d="M1127.7,1001.1 1136.3,1000.2 1144.9,999.2 1153.5,998.0 1162.1,996.8 1170.7,995.3 1179.3,993.7 1187.9,991.9 1196.5,989.9 1205.2,987.5 1213.8,984.9 1222.4,981.8 1231.1,978.3 1239.7,974.3 1248.4,969.7 1257.0,964.5 1266.3,958.5 1275.5,951.6 1284.8,943.7 1294.1,934.8 1303.3,924.5 1312.6,912.9 1321.9,899.7 1331.1,884.8 1340.2,867.9 1349.4,849.1 1358.6,828.1 1367.7,804.7 1376.9,779.0 1386.0,750.9 1395.2,720.3 1404.2,687.4 1413.1,652.3 1422.1,615.2 1431.1,612.7"/><path d="M1127.7,997.0 1136.3,996.3 1144.9,995.5 1153.5,994.7 1162.1,993.7 1170.7,992.7 1179.3,991.6 1187.9,990.3 1196.5,989.0 1205.2,987.4 1213.8,985.7 1222.4,983.8 1231.1,981.7 1239.7,979.3 1248.4,976.7 1257.0,973.8 1266.3,970.5 1275.5,966.8 1284.8,962.8 1294.1,958.2 1303.3,953.2 1312.6,947.6 1321.9,941.3 1331.1,934.5 1340.2,926.8 1349.4,918.4 1358.6,909.2 1367.7,899.1 1376.9,888.1 1386.0,876.1 1395.2,863.1 1404.2,849.1 1413.1,834.1 1422.1,818.1 1431.1,801.2 1440.1,783.4 1449.0,764.7 1458.0,745.4"/><path d="M1192.2,988.0 1200.8,987.5 1209.5,987.0 1218.1,986.5 1226.8,986.0 1235.4,985.4 1244.0,984.7 1252.7,984.0 1261.6,983.2 1270.9,982.3 1280.2,981.3 1289.4,980.1 1298.7,978.8 1308.0,977.2 1317.2,975.4 1326.5,973.3 1335.7,970.8 1344.8,967.8 1354.0,964.4 1363.1,960.4 1372.3,955.7 1381.5,950.1 1390.6,943.7 1399.7,936.4 1408.7,927.9 1417.6,918.3 1426.6,907.5 1435.6,895.6 1444.6,882.6 1453.5,868.7 1462.5,854.0"/><path d="M1192.2,979.9 1200.8,978.3 1209.5,976.6 1218.1,974.8 1226.8,973.0 1235.4,971.1 1244.0,969.2 1252.7,967.1 1261.6,964.8 1270.9,962.4 1280.2,959.8 1289.4,957.0 1298.7,953.9 1308.0,950.5 1317.2,946.8 1326.5,942.6 1335.7,937.8 1344.8,932.5 1354.0,926.5 1363.1,919.7 1372.3,911.9 1381.5,903.0 1390.6,892.8 1399.7,881.3 1408.7,868.1 1417.6,853.1 1426.6,836.0 1435.6,816.8 1444.6,795.2 1453.5,771.0 1462.5,744.2"/><path d="M1192.2,988.6 1200.8,987.1 1209.5,985.6 1218.1,984.1 1226.8,982.6 1235.4,981.1 1244.0,979.5 1252.7,978.0 1261.6,976.5 1270.9,975.0 1280.2,973.5 1289.4,972.0 1298.7,970.5 1308.0,968.9 1317.2,967.4 1326.5,965.8 1335.7,964.2 1344.8,962.5 1354.0,960.5 1363.1,957.9 1372.3,954.1 1381.5,947.6 1390.6,935.5 1399.7,912.5 1408.7,870.6 1417.6,803.8 1426.6,718.1 1435.6,635.1 1444.6,612.7"/><path d="M1048.3,1027.1 1058.9,1026.3 1069.5,1025.5 1080.1,1024.7 1090.6,1023.8 1101.2,1023.0 1111.8,1022.1 1122.4,1021.1 1132.0,1020.1 1140.6,1019.1 1149.2,1018.0 1157.8,1016.9 1166.4,1015.7 1175.0,1014.4 1183.6,1013.1 1192.2,1011.6 1200.8,1010.1 1209.5,1008.4 1218.1,1006.6 1226.8,1004.6 1235.4,1002.5 1244.0,1000.1 1252.7,997.5 1261.6,994.7 1270.9,991.6 1280.2,988.1 1289.4,984.3 1298.7,980.0 1308.0,975.3 1317.2,970.1 1326.5,964.3 1335.7,957.8 1344.8,950.6 1354.0,942.6 1363.1,933.7 1372.3,923.8 1381.5,912.8 1390.6,900.6 1399.7,887.1 1408.7,872.1 1417.6,855.6 1426.6,837.5 1435.6,817.6 1444.6,795.9 1453.5,772.2 1462.5,746.5"/><path d="M1257.0,911.0 1266.3,898.7 1275.5,884.5 1284.8,868.5 1294.1,850.4 1303.3,830.1 1312.6,807.4 1321.9,782.5 1331.1,755.2 1340.2,725.7 1349.4,694.2 1358.6,661.0 1367.7,626.6 1376.9,612.7"/><path d="M1048.3,972.5 1058.9,970.6 1069.5,968.6 1080.1,966.5 1090.6,964.4 1101.2,962.1 1111.8,959.7 1122.4,957.2 1132.0,954.6 1140.6,951.9 1149.2,949.0 1157.8,946.0 1166.4,942.8 1175.0,939.5 1183.6,936.0 1192.2,932.4 1200.8,928.5 1209.5,924.5 1218.1,920.3 1226.8,915.9 1235.4,911.3 1244.0,906.4 1252.7,901.4 1261.6,896.1 1270.9,890.6 1280.2,885.0 1289.4,879.0 1298.7,872.9 1308.0,866.6 1317.2,860.0 1326.5,853.2 1335.7,846.3 1344.8,839.2 1354.0,831.9 1363.1,824.4 1372.3,816.8 1381.5,809.1 1390.6,801.3 1399.7,793.4 1408.7,785.4 1417.6,777.4 1426.6,769.4 1435.6,761.4 1444.6,753.4 1453.5,745.4 1462.5,737.5"/><path d="M1127.7,1007.9 1136.3,1007.9 1144.9,1007.8 1153.5,1007.8 1162.1,1007.7 1170.7,1007.7 1179.3,1007.6 1187.9,1007.6 1196.5,1007.5 1205.2,1007.5 1213.8,1007.4 1222.4,1007.4 1231.1,1007.3 1239.7,1007.3 1248.4,1007.2 1257.0,1007.1 1266.3,1007.0 1275.5,1006.8 1284.8,1006.6 1294.1,1006.4 1303.3,1006.1 1312.6,1005.7 1321.9,1005.2 1331.1,1004.5 1340.2,1003.5 1349.4,1002.2 1358.6,1000.4 1367.7,998.0 1376.9,994.7 1386.0,990.3 1395.2,984.4 1404.2,976.4 1413.1,965.9 1422.1,952.3 1431.1,934.8 1440.1,913.0 1449.0,886.6 1458.0,855.7"/><path d="M1048.3,1020.6 1058.9,1019.1 1069.5,1017.7 1080.1,1016.2 1090.6,1014.7 1101.2,1013.2 1111.8,1011.7 1122.4,1010.2 1132.0,1008.7 1140.6,1007.3 1149.2,1005.8 1157.8,1004.3 1166.4,1002.8 1175.0,1001.3 1183.6,999.8 1192.2,998.4 1200.8,996.9 1209.5,995.4 1218.1,993.9 1226.8,992.4 1235.4,990.9 1244.0,989.4 1252.7,987.9 1261.6,986.4 1270.9,984.9 1280.2,983.4 1289.4,981.8 1298.7,980.2 1308.0,978.5 1317.2,976.8 1326.5,974.8 1335.7,972.7 1344.8,970.1 1354.0,967.1 1363.1,963.2 1372.3,958.1 1381.5,951.3 1390.6,942.0 1399.7,929.3 1408.7,912.4 1417.6,890.6 1426.6,863.9 1435.6,833.4 1444.6,801.1 1453.5,769.8 1462.5,741.9"/><path d="M1048.3,1004.5 1058.9,1003.3 1069.5,1002.2 1080.1,1001.0 1090.6,999.8 1101.2,998.6 1111.8,997.5 1122.4,996.3 1132.0,995.1 1140.6,993.9 1149.2,992.7 1157.8,991.6 1166.4,990.4 1175.0,989.2 1183.6,988.0 1192.2,986.9 1200.8,985.7 1209.5,984.5 1218.1,983.3 1226.8,982.1 1235.4,981.0 1244.0,979.8 1252.7,978.6 1261.6,977.4 1270.9,976.2 1280.2,975.0 1289.4,973.8 1298.7,972.6 1308.0,971.3 1317.2,970.1 1326.5,968.8 1335.7,967.5 1344.8,966.1 1354.0,964.6 1363.1,963.0 1372.3,961.3 1381.5,959.3 1390.6,957.0 1399.7,954.4 1408.7,951.2 1417.6,947.3 1426.6,942.3 1435.6,936.1 1444.6,928.1 1453.5,917.7 1462.5,904.4"/><path d="M1192.2,992.0 1200.8,991.1 1209.5,990.2 1218.1,989.2 1226.8,988.3 1235.4,987.4 1244.0,986.4 1252.7,985.5 1261.6,984.5 1270.9,983.6 1280.2,982.6 1289.4,981.5 1298.7,980.5 1308.0,979.4 1317.2,978.2 1326.5,976.8 1335.7,975.4 1344.8,973.7 1354.0,971.8 1363.1,969.6 1372.3,966.8 1381.5,963.4 1390.6,959.1 1399.7,953.6 1408.7,946.6 1417.6,937.7 1426.6,926.4 1435.6,912.1 1444.6,894.3 1453.5,872.8 1462.5,847.4"/><path d="M1192.2,968.1 1200.8,966.5 1209.5,964.6 1218.1,962.4 1226.8,959.6 1235.4,955.7 1244.0,950.1 1252.7,941.6 1261.6,928.3 1270.9,907.8 1280.2,877.9 1289.4,837.4 1298.7,788.7 1308.0,738.0 1317.2,692.6 1326.5,657.0 1335.7,631.7 1344.8,615.0 1354.0,612.7"/><path d="M1192.2,1001.4 1200.8,1000.7 1209.5,1000.1 1218.1,999.4 1226.8,998.7 1235.4,998.1 1244.0,997.4 1252.7,996.7 1261.6,996.1 1270.9,995.4 1280.2,994.7 1289.4,994.1 1298.7,993.4 1308.0,992.7 1317.2,992.0 1326.5,991.4 1335.7,990.7 1344.8,990.0 1354.0,989.3 1363.1,988.5 1372.3,987.7 1381.5,986.6 1390.6,985.0 1399.7,982.4 1408.7,977.8 1417.6,969.0 1426.6,952.6 1435.6,924.0 1444.6,880.8 1453.5,828.6 1462.5,780.1"/><path d="M1192.2,968.7 1200.8,968.1 1209.5,967.4 1218.1,966.8 1226.8,966.2 1235.4,965.6 1244.0,964.9 1252.7,964.3 1261.6,963.7 1270.9,963.1 1280.2,962.4 1289.4,961.8 1298.7,961.2 1308.0,960.5 1317.2,959.9 1326.5,959.2 1335.7,958.6 1344.8,957.8 1354.0,957.1 1363.1,956.3 1372.3,955.3 1381.5,954.2 1390.6,952.8 1399.7,950.9 1408.7,948.4 1417.6,944.8 1426.6,939.7 1435.6,932.3 1444.6,921.6 1453.5,906.7 1462.5,886.5"/><path d="M1326.5,966.3 1335.7,961.6 1344.8,956.3 1354.0,950.5 1363.1,944.0 1372.3,936.8 1381.5,928.9 1390.6,920.1 1399.7,910.4 1408.7,899.8 1417.6,888.2 1426.6,875.6 1435.6,862.0 1444.6,847.3 1453.5,831.6 1462.5,814.9"/><path d="M1048.3,976.6 1058.9,975.1 1069.5,973.5 1080.1,971.5 1090.6,969.4 1101.2,966.9 1111.8,964.1 1122.4,960.8 1132.0,957.1 1140.6,952.9 1149.2,948.2 1157.8,942.7 1166.4,936.5 1175.0,929.5 1183.6,921.6 1192.2,912.7 1200.8,902.7 1209.5,891.5 1218.1,879.0 1226.8,865.3 1235.4,850.1 1244.0,833.5 1252.7,815.6 1261.6,796.2 1270.9,775.6 1280.2,753.9 1289.4,731.1 1298.7,707.5 1308.0,683.4 1317.2,658.9 1326.5,634.4 1335.7,612.7"/><path d="M1127.7,969.6 1136.3,965.9 1144.9,961.8 1153.5,957.2 1162.1,952.1 1170.7,946.4 1179.3,940.0 1187.9,932.9 1196.5,924.9 1205.2,916.1 1213.8,906.2 1222.4,895.1 1231.1,882.9 1239.7,869.3 1248.4,854.1 1257.0,837.4 1266.3,819.0 1275.5,798.7 1284.8,776.4 1294.1,752.1 1303.3,725.7 1312.6,697.1 1321.9,666.3 1331.1,633.2 1340.2,612.7"/><path d="M1192.2,963.5 1200.8,961.8 1209.5,960.2 1218.1,958.4 1226.8,956.7 1235.4,954.9 1244.0,953.1 1252.7,951.1 1261.6,949.1 1270.9,947.1 1280.2,944.9 1289.4,942.5 1298.7,940.0 1308.0,937.3 1317.2,934.3 1326.5,931.1 1335.7,927.6 1344.8,923.7 1354.0,919.4 1363.1,914.7 1372.3,909.5 1381.5,903.8 1390.6,897.6 1399.7,891.0 1408.7,883.9 1417.6,876.5 1426.6,868.9 1435.6,861.2 1444.6,853.5 1453.5,845.9 1462.5,838.5"/><path d="M1048.3,977.8 1058.9,977.2 1069.5,976.6 1080.1,976.0 1090.6,975.3 1101.2,974.7 1111.8,974.1 1122.4,973.4 1132.0,972.7 1140.6,972.0 1149.2,971.3 1157.8,970.6 1166.4,969.8 1175.0,969.0 1183.6,968.2 1192.2,967.3 1200.8,966.3 1209.5,965.2 1218.1,964.1 1226.8,962.9 1235.4,961.5 1244.0,960.1 1252.7,958.4 1261.6,956.6 1270.9,954.6 1280.2,952.3 1289.4,949.7 1298.7,946.8 1308.0,943.6 1317.2,939.9 1326.5,935.8 1335.7,931.3 1344.8,926.2 1354.0,920.6 1363.1,914.5 1372.3,907.8 1381.5,900.7 1390.6,893.1 1399.7,885.0 1408.7,876.7 1417.6,868.2 1426.6,859.6 1435.6,851.1 1444.6,842.7 1453.5,834.5 1462.5,826.7"/><path d="M1192.2,951.5 1200.8,948.9 1209.5,946.1 1218.1,943.0 1226.8,939.5 1235.4,935.7 1244.0,931.4 1252.7,926.5 1261.6,920.9 1270.9,914.6 1280.2,907.4 1289.4,899.2 1298.7,889.7 1308.0,878.9 1317.2,866.6 1326.5,852.5 1335.7,836.5 1344.8,818.5 1354.0,798.3 1363.1,775.8 1372.3,751.0 1381.5,723.8 1390.6,694.6"/><path d="M1192.2,974.3 1200.8,973.4 1209.5,972.3 1218.1,971.2 1226.8,969.9 1235.4,968.4 1244.0,966.7 1252.7,964.8 1261.6,962.5 1270.9,959.8 1280.2,956.6 1289.4,952.8 1298.7,948.4 1308.0,943.2 1317.2,936.9 1326.5,929.5 1335.7,920.7 1344.8,910.2 1354.0,897.9 1363.1,883.2 1372.3,866.0 1381.5,845.8 1390.6,822.3 1399.7,795.0 1408.7,763.7 1417.6,728.0 1426.6,687.9 1435.6,643.2 1444.6,612.7"/><path d="M1192.2,970.2 1200.8,967.1 1209.5,963.8 1218.1,960.3 1226.8,956.7 1235.4,952.8 1244.0,948.8 1252.7,944.4 1261.6,939.8 1270.9,934.9 1280.2,929.7 1289.4,924.1 1298.7,918.1 1308.0,911.7 1317.2,904.9 1326.5,897.6 1335.7,889.7 1344.8,881.3 1354.0,872.3 1363.1,862.7 1372.3,852.4 1381.5,841.4 1390.6,829.7 1399.7,817.2 1408.7,803.9 1417.6,789.8 1426.6,774.9 1435.6,759.1 1444.6,742.5 1453.5,725.0 1462.5,706.7"/></g>
<path d="M1048.8,620.0 L1048.8,1033.6 L1463.5,1033.6" fill="none" stroke="#231f20" stroke-width="2"/>
<line x1="1048.8" y1="1033.6" x2="1055" y2="1033.6" stroke="#231f20" stroke-width="1.8"/>
<text x="1032.0" y="1044.9" font-size="31.5" fill="#231f20" text-anchor="end" font-weight="normal" font-style="normal" >0</text>
<line x1="1048.8" y1="951.4" x2="1055" y2="951.4" stroke="#231f20" stroke-width="1.8"/>
<text x="1032.0" y="962.7" font-size="31.5" fill="#231f20" text-anchor="end" font-weight="normal" font-style="normal" >0.5</text>
<line x1="1048.8" y1="869.2" x2="1055" y2="869.2" stroke="#231f20" stroke-width="1.8"/>
<text x="1032.0" y="880.5" font-size="31.5" fill="#231f20" text-anchor="end" font-weight="normal" font-style="normal" >1</text>
<line x1="1048.8" y1="787.0" x2="1055" y2="787.0" stroke="#231f20" stroke-width="1.8"/>
<text x="1032.0" y="798.3" font-size="31.5" fill="#231f20" text-anchor="end" font-weight="normal" font-style="normal" >1.5</text>
<line x1="1048.8" y1="704.8" x2="1055" y2="704.8" stroke="#231f20" stroke-width="1.8"/>
<text x="1032.0" y="716.1" font-size="31.5" fill="#231f20" text-anchor="end" font-weight="normal" font-style="normal" >2</text>
<line x1="1048.8" y1="622.6" x2="1055" y2="622.6" stroke="#231f20" stroke-width="1.8"/>
<text x="1032.0" y="633.9" font-size="31.5" fill="#231f20" text-anchor="end" font-weight="normal" font-style="normal" >2.5</text>
<line x1="1048.3" y1="1033.6" x2="1048.3" y2="1027.6" stroke="#231f20" stroke-width="1.8"/>
<text x="1039.3" y="1076.9" font-size="31.5" fill="#231f20" text-anchor="middle" font-weight="normal" font-style="normal" >-18</text>
<line x1="1127.7" y1="1033.6" x2="1127.7" y2="1027.6" stroke="#231f20" stroke-width="1.8"/>
<text x="1109.3" y="1076.9" font-size="31.5" fill="#231f20" text-anchor="middle" font-weight="normal" font-style="normal" >-15</text>
<line x1="1192.2" y1="1033.6" x2="1192.2" y2="1027.6" stroke="#231f20" stroke-width="1.8"/>
<text x="1178.8" y="1076.9" font-size="31.5" fill="#231f20" text-anchor="middle" font-weight="normal" font-style="normal" >-12</text>
<line x1="1257.0" y1="1033.6" x2="1257.0" y2="1027.6" stroke="#231f20" stroke-width="1.8"/>
<text x="1248.3" y="1076.9" font-size="31.5" fill="#231f20" text-anchor="middle" font-weight="normal" font-style="normal" >-9</text>
<line x1="1326.5" y1="1033.6" x2="1326.5" y2="1027.6" stroke="#231f20" stroke-width="1.8"/>
<text x="1317.8" y="1076.9" font-size="31.5" fill="#231f20" text-anchor="middle" font-weight="normal" font-style="normal" >-6</text>
<line x1="1395.2" y1="1033.6" x2="1395.2" y2="1027.6" stroke="#231f20" stroke-width="1.8"/>
<text x="1387.3" y="1076.9" font-size="31.5" fill="#231f20" text-anchor="middle" font-weight="normal" font-style="normal" >-3</text>
<line x1="1462.5" y1="1033.6" x2="1462.5" y2="1027.6" stroke="#231f20" stroke-width="1.8"/>
<text x="1456.1" y="1076.9" font-size="31.5" fill="#231f20" text-anchor="middle" font-weight="normal" font-style="normal" >0</text>
<text x="1256.0" y="1119.1" font-size="31" fill="#231f20" text-anchor="middle" font-weight="normal" font-style="normal" >AM Depth (dB re: 100%)</text>
<text transform="translate(967.2,828.1) rotate(-90)" font-size="31" fill="#231f20" text-anchor="middle">d-prime</text>
<line x1="1049" y1="869.2" x2="1462" y2="869.2" stroke="#231f20" stroke-width="2" stroke-dasharray="11,6"/>
<path d="M1140.2,988.7 1143.6,987.1 1147.1,985.6 1150.6,984.0 1154.1,982.4 1157.5,980.8 1161.0,979.3 1164.5,977.7 1167.9,976.1 1171.4,974.5 1174.9,972.8 1178.4,971.2 1181.8,969.6 1185.3,967.9 1188.8,966.3 1192.3,964.6 1195.7,962.9 1199.2,961.3 1202.7,959.6 1206.2,957.8 1209.7,956.1 1213.2,954.4 1216.7,952.6 1220.2,950.9 1223.6,949.1 1227.1,947.3 1230.6,945.5 1234.1,943.7 1237.6,941.8 1241.1,940.0 1244.6,938.1 1248.1,936.2 1251.6,934.2 1255.0,932.3 1258.6,930.3 1262.4,928.3 1266.1,926.3 1269.9,924.3 1273.6,922.2 1277.4,920.1 1281.1,917.9 1284.8,915.8 1288.6,913.6 1292.3,911.3 1296.1,909.0 1299.8,906.7 1303.5,904.3 1307.3,901.9 1311.0,899.4 1314.8,896.9 1318.5,894.3 1322.2,891.6 1326.0,888.9 1329.7,886.1 1333.4,883.2 1337.1,880.2 1340.8,877.1 1344.5,874.0 1348.2,870.7 1351.9,867.3 1355.6,863.8 1359.3,860.1 1363.0,856.3 1366.7,852.3 1370.4,848.1 1374.1,843.7 1377.8,839.1 1381.5,834.2 1385.2,829.0 1388.9,823.4 1392.6,817.5 1396.2,811.2 1399.9,804.4 1403.5,797.0 1407.1,788.9 1410.7,780.1 1414.4,770.4 1418.0,759.6 1421.6,747.5 1425.2,733.9 1428.8,718.3" fill="none" stroke="#f26567" stroke-width="8.5"/>
<circle cx="1283.4" cy="870.2" r="9.3" fill="#14b3b0" stroke="#1d3f40" stroke-width="1.6"/>
<circle cx="1347.3" cy="870.2" r="9.3" fill="#e9605f" stroke="#3d1f1f" stroke-width="1.6"/>
<text x="1059.0" y="651.5" font-size="31" fill="#ee5f62" text-anchor="start" font-weight="normal" font-style="normal" >HL (n=62)</text>
<text x="900.0" y="603.5" font-size="52" fill="#231f20" text-anchor="start" font-weight="bold" font-style="normal" >e</text>
<text x="909.2" y="1247.4" font-size="52" fill="#231f20" text-anchor="start" font-weight="bold" font-style="normal" >f</text>
<path d="M1179.00,1321.40 C1179.42,1327.83 1180.58,1346.90 1181.50,1360.00 C1182.42,1373.10 1183.32,1386.17 1184.50,1400.00 C1185.68,1413.83 1186.35,1428.00 1188.60,1443.00 C1190.85,1458.00 1194.47,1475.73 1198.00,1490.00 C1201.53,1504.27 1204.60,1515.72 1209.80,1528.60 C1215.00,1541.48 1223.38,1554.40 1229.20,1567.30 C1235.02,1580.20 1239.87,1593.08 1244.70,1606.00 C1249.53,1618.92 1255.30,1631.88 1258.20,1644.80 C1261.10,1657.72 1261.60,1674.30 1262.10,1683.50 C1262.60,1692.70 1262.30,1690.80 1261.20,1700.00 C1260.10,1709.20 1258.90,1725.78 1255.50,1738.70 C1252.10,1751.62 1245.83,1764.58 1240.80,1777.50 C1235.77,1790.42 1229.50,1803.28 1225.30,1816.20 C1221.10,1829.12 1218.50,1842.10 1215.60,1855.00 C1212.70,1867.90 1210.47,1880.70 1207.90,1893.60 C1205.33,1906.50 1202.47,1919.48 1200.20,1932.40 C1197.93,1945.32 1196.25,1958.20 1194.30,1971.10 C1192.35,1984.00 1190.30,1996.88 1188.50,2009.80 C1186.70,2022.72 1184.78,2035.68 1183.50,2048.60 C1182.22,2061.52 1181.42,2072.07 1180.80,2087.30 C1180.18,2102.53 1180.02,2124.83 1179.80,2140.00 C1179.58,2155.17 1179.55,2171.92 1179.50,2178.30 L1179,2178.3 L1179,1321.4 Z" fill="#b3e6e4"/>
<path d="M1384.00,1321.40 C1384.80,1323.67 1386.20,1326.30 1388.80,1335.00 C1391.40,1343.70 1395.87,1360.70 1399.60,1373.60 C1403.33,1386.50 1406.68,1399.50 1411.20,1412.40 C1415.72,1425.30 1421.85,1438.10 1426.70,1451.00 C1431.55,1463.90 1436.42,1476.87 1440.30,1489.80 C1444.18,1502.73 1447.10,1515.68 1450.00,1528.60 C1452.90,1541.52 1455.13,1554.40 1457.70,1567.30 C1460.27,1580.20 1463.35,1593.88 1465.40,1606.00 C1467.45,1618.12 1470.32,1624.33 1470.00,1640.00 C1469.68,1655.67 1465.87,1686.77 1463.50,1700.00 C1461.13,1713.23 1458.72,1712.95 1455.80,1719.40 C1452.88,1725.85 1449.55,1732.27 1446.00,1738.70 C1442.45,1745.13 1438.37,1751.53 1434.50,1758.00 C1430.63,1764.47 1426.35,1771.03 1422.80,1777.50 C1419.25,1783.97 1415.77,1790.35 1413.20,1796.80 C1410.63,1803.25 1409.67,1806.50 1407.40,1816.20 C1405.13,1825.90 1402.07,1842.10 1399.60,1855.00 C1397.13,1867.90 1394.40,1880.70 1392.60,1893.60 C1390.80,1906.50 1389.77,1919.48 1388.80,1932.40 C1387.83,1945.32 1387.38,1958.20 1386.80,1971.10 C1386.22,1984.00 1385.72,1991.08 1385.30,2009.80 C1384.88,2028.52 1384.47,2071.13 1384.30,2083.40 L1384,2083.4 L1384,1321.4 Z" fill="#f9cfd0"/>
<line x1="1178.7" y1="1700.8" x2="1261" y2="1700.8" stroke="#14b3b0" stroke-width="2"/>
<line x1="1178.7" y1="1717.4" x2="1258.5" y2="1717.4" stroke="#14b3b0" stroke-width="8.7"/>
<line x1="1178.7" y1="1734.3" x2="1256.5" y2="1734.3" stroke="#14b3b0" stroke-width="2"/>
<line x1="1384" y1="1622" x2="1469" y2="1622" stroke="#ee6163" stroke-width="2"/>
<line x1="1384" y1="1637.4" x2="1467" y2="1637.4" stroke="#ee6163" stroke-width="8.7"/>
<line x1="1384" y1="1651.9" x2="1469" y2="1651.9" stroke="#ee6163" stroke-width="2"/>
<path d="M1101.1 1467.5h0M1130.5 1460.8h0M1156.1 1457.5h0M1151.8 1487.8h0M1111.7 1555.6h0M1126.7 1549.0h0M1140.7 1547.6h0M1112.6 1565.2h0M1124.0 1563.5h0M1138.1 1560.8h0M1135.5 1567.0h0M1114.9 1583.7h0M1147.3 1583.4h0M1120.5 1595.2h0M1129.3 1595.7h0M1147.4 1602.2h0M1123.1 1620.7h0M1129.3 1619.5h0M1118.7 1643.6h0M1126.7 1642.7h0M1132.8 1647.1h0M1149.5 1641.8h0M1152.2 1651.5h0M1150.4 1656.8h0M1112.6 1661.2h0M1123.1 1662.1h0M1136.3 1659.4h0M1126.7 1672.6h0M1145.5 1673.5h0M1104.3 1680.6h0M1116.1 1691.7h0M1141.6 1702.6h0M1151.3 1714.9h0M1100.8 1726.3h0M1125.4 1718.1h0M1117.5 1727.2h0M1110.8 1735.1h0M1114.3 1743.0h0M1109.0 1747.5h0M1152.2 1743.9h0M1103.8 1758.0h0M1113.5 1766.0h0M1129.3 1759.8h0M1129.3 1776.5h0M1139.9 1769.5h0M1154.8 1778.3h0M1142.5 1794.1h0M1116.4 1802.9h0M1102.9 1815.2h0M1117.9 1817.0h0M1144.4 1829.0h0M1109.0 1856.0h0M1117.0 1850.2h0M1135.5 1853.7h0M1138.1 1854.9h0M1110.3 1893.8h0M1107.6 1901.2h0M1139.3 1909.2h0M1142.5 1928.2h0M1128.9 1944.0h0M1112.2 1973.4h0M1150.1 1973.8h0M1127.5 2000.2h0M1108.2 2176.8h0" stroke="#17b5b0" stroke-width="12.6" stroke-linecap="round" fill="none"/>
<path d="M1341.1 1452.6h0M1358.7 1456.1h0M1348.1 1461.4h0M1342.8 1469.3h0M1337.5 1474.6h0M1334.9 1479.9h0M1310.8 1479.0h0M1319.6 1491.3h0M1360.4 1525.6h0M1312.9 1549.0h0M1328.4 1552.4h0M1324.3 1561.7h0M1341.9 1562.3h0M1346.3 1562.3h0M1312.9 1571.1h0M1316.4 1574.9h0M1319.9 1583.4h0M1361.0 1575.8h0M1344.6 1586.4h0M1350.7 1587.3h0M1305.8 1596.1h0M1314.6 1594.3h0M1331.4 1590.8h0M1328.4 1601.3h0M1333.1 1624.2h0M1348.1 1624.8h0M1359.5 1623.3h0M1321.7 1633.4h0M1347.7 1640.1h0M1357.4 1653.3h0M1333.7 1655.9h0M1321.7 1663.3h0M1342.8 1664.7h0M1319.6 1677.0h0M1336.1 1680.2h0M1319.6 1691.1h0M1314.3 1699.9h0M1327.9 1698.7h0M1347.2 1696.4h0M1359.5 1689.4h0M1360.4 1697.3h0M1312.0 1725.8h0M1321.3 1720.2h0M1329.1 1729.0h0M1346.3 1736.0h0M1348.1 1738.7h0M1305.5 1748.3h0M1316.4 1748.3h0M1312.0 1752.7h0M1330.5 1755.4h0M1361.3 1766.8h0M1346.7 1773.9h0M1309.4 1808.2h0M1353.9 1830.9h0M1322.2 1848.3h0M1307.8 1871.6h0M1321.4 1944.0h0" stroke="#ef6566" stroke-width="12.6" stroke-linecap="round" fill="none"/>
<path d="M1044.8,1278.8 L1044.8,2222.8 L1469,2222.8" fill="none" stroke="#231f20" stroke-width="2"/>
<line x1="1044.8" y1="1444.2" x2="1051.5" y2="1444.2" stroke="#231f20" stroke-width="1.8"/>
<text x="1032.0" y="1455.5" font-size="31" fill="#231f20" text-anchor="end" font-weight="normal" font-style="normal" >0</text>
<line x1="1044.8" y1="1612.7" x2="1051.5" y2="1612.7" stroke="#231f20" stroke-width="1.8"/>
<text x="1032.0" y="1624.0" font-size="31" fill="#231f20" text-anchor="end" font-weight="normal" font-style="normal" >−5</text>
<line x1="1044.8" y1="1781.2" x2="1051.5" y2="1781.2" stroke="#231f20" stroke-width="1.8"/>
<text x="1032.0" y="1792.5" font-size="31" fill="#231f20" text-anchor="end" font-weight="normal" font-style="normal" >−10</text>
<line x1="1044.8" y1="1949.7" x2="1051.5" y2="1949.7" stroke="#231f20" stroke-width="1.8"/>
<text x="1032.0" y="1961.0" font-size="31" fill="#231f20" text-anchor="end" font-weight="normal" font-style="normal" >−15</text>
<line x1="1044.8" y1="2118.2" x2="1051.5" y2="2118.2" stroke="#231f20" stroke-width="1.8"/>
<text x="1032.0" y="2129.5" font-size="31" fill="#231f20" text-anchor="end" font-weight="normal" font-style="normal" >−20</text>
<line x1="1156.4" y1="2222.8" x2="1156.4" y2="2210.5" stroke="#231f20" stroke-width="1.8"/>
<line x1="1371.7" y1="2222.8" x2="1371.7" y2="2210.5" stroke="#231f20" stroke-width="1.8"/>
<text x="1155.0" y="2267.0" font-size="31" fill="#231f20" text-anchor="middle" font-weight="normal" font-style="normal" >Ctrl</text>
<text x="1372.5" y="2267.0" font-size="31" fill="#231f20" text-anchor="middle" font-weight="normal" font-style="normal" >HL</text>
<text transform="translate(974.5,1704.9) rotate(-90)" font-size="31" fill="#231f20" text-anchor="middle">neural AM detection threshold (dB re: 100%)</text>
<line x1="1173.8" y1="1275.3" x2="1381.4" y2="1275.3" stroke="#231f20" stroke-width="2"/>
<text x="1277.5" y="1258.0" font-size="26" fill="#231f20" text-anchor="middle" font-weight="normal" font-style="normal" >***</text>
</svg></body></html>
